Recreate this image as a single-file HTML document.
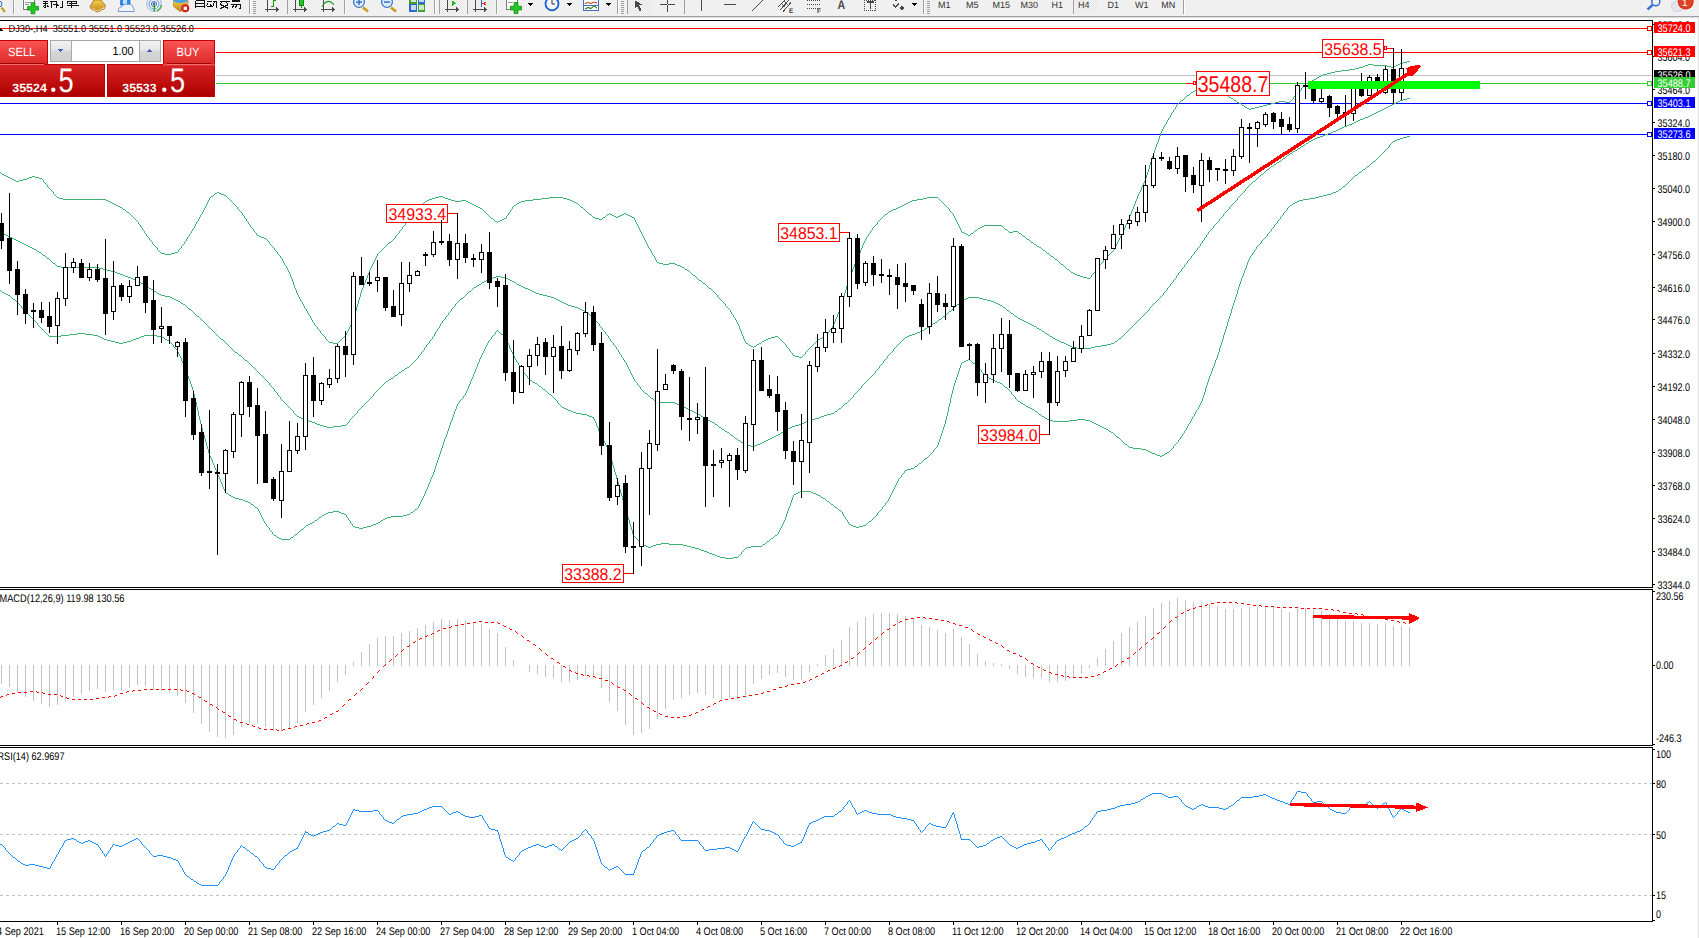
<!DOCTYPE html>
<html><head><meta charset="utf-8"><title>MT4 DJ30 H4</title>
<style>
html,body{margin:0;padding:0;background:#fff;}
body{width:1699px;height:938px;overflow:hidden;position:relative;font-family:"Liberation Sans",sans-serif;}
svg{position:absolute;left:0;top:0;display:block;}
text{font-family:"Liberation Sans",sans-serif;}
</style></head>
<body>
<svg width="1699" height="938" viewBox="0 0 1699 938" shape-rendering="crispEdges" text-rendering="geometricPrecision">
<rect x="0" y="0" width="1699" height="16" fill="#f0f0f0"/>
<rect x="0" y="16" width="1699" height="1" fill="#a0a0a0"/>
<rect x="0" y="17" width="1699" height="1" fill="#dcdcdc"/>
<rect x="0" y="28" width="1652" height="1" fill="#ff0000"/>
<rect x="216" y="52" width="1436" height="1" fill="#ff0000"/>
<rect x="216" y="75" width="1436" height="1" fill="#c0c0c0"/>
<rect x="216" y="83" width="1436" height="1" fill="#32cd32"/>
<rect x="0" y="103" width="1652" height="1" fill="#0000ff"/>
<rect x="0" y="134" width="1652" height="1" fill="#0000ff"/>
<path d="M1407 61h3v1h-3zM1403 62h4v1h-4zM1400 63h3v1h-3zM1368 64h5v1h-5zM1398 64h2v1h-2zM1365 65h3v1h-3zM1373 65h14v1h-14zM1396 65h2v1h-2zM1363 66h2v1h-2zM1387 66h4v1h-4zM1394 66h2v1h-2zM1359 67h4v1h-4zM1391 67h3v1h-3zM1355 68h4v1h-4zM1349 69h6v1h-6zM1341 70h8v1h-8zM1335 71h6v1h-6zM1331 72h4v1h-4zM1327 73h4v1h-4zM1323 74h4v1h-4zM1321 75h2v1h-2zM1319 76h2v1h-2zM1317 77h2v1h-2zM1316 78h1v1h-1zM1314 79h2v1h-2zM1312 80h2v1h-2zM1310 81h2v1h-2zM1308 82h2v1h-2zM1306 83h2v1h-2zM1305 84h1v1h-1zM1304 85h1v1h-1zM1303 86h1v1h-1zM1302 87h1v1h-1zM1200 88h11v1h-11zM1301 88h1v1h-1zM1197 89h3v1h-3zM1211 89h4v1h-4zM1301 89h1v1h-1zM1195 90h2v1h-2zM1215 90h3v1h-3zM1300 90h1v1h-1zM1193 91h2v1h-2zM1218 91h2v1h-2zM1299 91h1v1h-1zM1191 92h2v1h-2zM1220 92h2v1h-2zM1298 92h1v1h-1zM1190 93h1v1h-1zM1222 93h2v1h-2zM1297 93h1v1h-1zM1189 94h1v1h-1zM1224 94h2v1h-2zM1296 94h1v1h-1zM1187 95h2v1h-2zM1226 95h2v1h-2zM1295 95h1v1h-1zM1186 96h1v1h-1zM1228 96h1v1h-1zM1294 96h1v1h-1zM1185 97h1v1h-1zM1229 97h2v1h-2zM1293 97h1v1h-1zM1184 98h1v1h-1zM1231 98h2v1h-2zM1293 98h1v1h-1zM1183 99h1v1h-1zM1233 99h1v1h-1zM1292 99h1v1h-1zM1181 100h2v1h-2zM1234 100h2v1h-2zM1291 100h1v1h-1zM1180 101h1v1h-1zM1236 101h1v1h-1zM1279 101h6v1h-6zM1290 101h1v1h-1zM1179 102h1v1h-1zM1237 102h2v1h-2zM1275 102h4v1h-4zM1285 102h5v1h-5zM1178 103h1v1h-1zM1239 103h2v1h-2zM1271 103h4v1h-4zM1177 104h1v1h-1zM1241 104h1v1h-1zM1267 104h4v1h-4zM1176 105h1v1h-1zM1242 105h2v1h-2zM1263 105h4v1h-4zM1176 106h1v1h-1zM1244 106h1v1h-1zM1259 106h4v1h-4zM1175 107h1v1h-1zM1245 107h2v1h-2zM1255 107h4v1h-4zM1175 108h1v1h-1zM1247 108h2v1h-2zM1251 108h4v1h-4zM1174 109h1v1h-1zM1249 109h2v1h-2zM1173 110h1v1h-1zM1173 111h1v1h-1zM1172 112h1v1h-1zM1171 113h1v1h-1zM1171 114h1v1h-1zM1170 115h1v1h-1zM1170 116h1v1h-1zM1169 117h1v1h-1zM1168 118h1v1h-1zM1168 119h1v1h-1zM1167 120h1v1h-1zM1167 121h1v1h-1zM1166 122h1v1h-1zM1166 123h1v1h-1zM1165 124h1v1h-1zM1164 125h1v1h-1zM1164 126h1v1h-1zM1163 127h1v1h-1zM1163 128h1v1h-1zM1162 129h1v1h-1zM1162 130h1v1h-1zM1161 131h1v1h-1zM1161 132h1v1h-1zM1160 133h1v1h-1zM1160 134h1v1h-1zM1160 135h1v1h-1zM1159 136h1v1h-1zM1159 137h1v1h-1zM1159 138h1v1h-1zM1158 139h1v1h-1zM1158 140h1v1h-1zM1158 141h1v1h-1zM1157 142h1v1h-1zM1157 143h1v1h-1zM1156 144h1v1h-1zM1156 145h1v1h-1zM1156 146h1v1h-1zM1155 147h1v1h-1zM1155 148h1v1h-1zM1155 149h1v1h-1zM1154 150h1v1h-1zM1154 151h1v1h-1zM1154 152h1v1h-1zM1153 153h1v1h-1zM1153 154h1v1h-1zM1153 155h1v1h-1zM1152 156h1v1h-1zM1152 157h1v1h-1zM1152 158h1v1h-1zM1151 159h1v1h-1zM1151 160h1v1h-1zM1151 161h1v1h-1zM1150 162h1v1h-1zM1150 163h1v1h-1zM1150 164h1v1h-1zM1149 165h1v1h-1zM1149 166h1v1h-1zM1149 167h1v1h-1zM1149 168h1v1h-1zM1148 169h1v1h-1zM1148 170h1v1h-1zM1148 171h1v1h-1zM0 172h1v1h-1zM1147 172h1v1h-1zM1 173h1v1h-1zM1147 173h1v1h-1zM2 174h2v1h-2zM1147 174h1v1h-1zM4 175h2v1h-2zM1146 175h1v1h-1zM6 176h2v1h-2zM32 176h3v1h-3zM1146 176h1v1h-1zM8 177h2v1h-2zM29 177h3v1h-3zM35 177h4v1h-4zM1146 177h1v1h-1zM10 178h2v1h-2zM27 178h2v1h-2zM39 178h3v1h-3zM1145 178h1v1h-1zM12 179h2v1h-2zM23 179h4v1h-4zM42 179h1v1h-1zM1145 179h1v1h-1zM14 180h2v1h-2zM19 180h4v1h-4zM43 180h1v1h-1zM1145 180h1v1h-1zM16 181h3v1h-3zM43 181h1v1h-1zM1144 181h1v1h-1zM44 182h1v1h-1zM1144 182h1v1h-1zM45 183h1v1h-1zM1143 183h1v1h-1zM46 184h1v1h-1zM1143 184h1v1h-1zM47 185h1v1h-1zM1142 185h1v1h-1zM47 186h1v1h-1zM1142 186h1v1h-1zM48 187h1v1h-1zM1141 187h1v1h-1zM49 188h1v1h-1zM1141 188h1v1h-1zM50 189h1v1h-1zM1141 189h1v1h-1zM51 190h1v1h-1zM1140 190h1v1h-1zM52 191h1v1h-1zM1140 191h1v1h-1zM53 192h1v1h-1zM217 192h2v1h-2zM1139 192h1v1h-1zM53 193h1v1h-1zM215 193h2v1h-2zM219 193h2v1h-2zM1139 193h1v1h-1zM54 194h1v1h-1zM214 194h1v1h-1zM221 194h3v1h-3zM1138 194h1v1h-1zM55 195h1v1h-1zM213 195h1v1h-1zM224 195h2v1h-2zM1138 195h1v1h-1zM56 196h1v1h-1zM211 196h2v1h-2zM226 196h1v1h-1zM439 196h4v1h-4zM1137 196h1v1h-1zM57 197h2v1h-2zM210 197h1v1h-1zM227 197h1v1h-1zM435 197h4v1h-4zM443 197h2v1h-2zM549 197h14v1h-14zM927 197h11v1h-11zM1137 197h1v1h-1zM59 198h4v1h-4zM209 198h1v1h-1zM228 198h1v1h-1zM432 198h3v1h-3zM445 198h3v1h-3zM541 198h8v1h-8zM563 198h4v1h-4zM923 198h4v1h-4zM938 198h1v1h-1zM1137 198h1v1h-1zM63 199h43v1h-43zM209 199h1v1h-1zM229 199h1v1h-1zM429 199h3v1h-3zM448 199h3v1h-3zM533 199h8v1h-8zM567 199h3v1h-3zM917 199h6v1h-6zM939 199h1v1h-1zM1136 199h1v1h-1zM106 200h2v1h-2zM208 200h1v1h-1zM230 200h1v1h-1zM427 200h2v1h-2zM451 200h4v1h-4zM461 200h5v1h-5zM525 200h8v1h-8zM570 200h2v1h-2zM912 200h5v1h-5zM940 200h1v1h-1zM1136 200h1v1h-1zM108 201h2v1h-2zM208 201h1v1h-1zM231 201h1v1h-1zM425 201h2v1h-2zM455 201h6v1h-6zM466 201h2v1h-2zM521 201h4v1h-4zM572 201h2v1h-2zM910 201h2v1h-2zM941 201h1v1h-1zM1135 201h1v1h-1zM110 202h2v1h-2zM207 202h1v1h-1zM232 202h1v1h-1zM424 202h1v1h-1zM468 202h2v1h-2zM519 202h2v1h-2zM574 202h2v1h-2zM908 202h2v1h-2zM942 202h1v1h-1zM1135 202h1v1h-1zM112 203h2v1h-2zM207 203h1v1h-1zM233 203h1v1h-1zM423 203h1v1h-1zM470 203h2v1h-2zM517 203h2v1h-2zM576 203h2v1h-2zM906 203h2v1h-2zM943 203h1v1h-1zM1135 203h1v1h-1zM114 204h2v1h-2zM206 204h1v1h-1zM234 204h1v1h-1zM421 204h2v1h-2zM472 204h2v1h-2zM516 204h1v1h-1zM578 204h1v1h-1zM904 204h2v1h-2zM944 204h1v1h-1zM1134 204h1v1h-1zM116 205h2v1h-2zM206 205h1v1h-1zM235 205h1v1h-1zM420 205h1v1h-1zM474 205h2v1h-2zM514 205h2v1h-2zM579 205h1v1h-1zM902 205h2v1h-2zM945 205h1v1h-1zM1134 205h1v1h-1zM118 206h2v1h-2zM205 206h1v1h-1zM236 206h1v1h-1zM419 206h1v1h-1zM476 206h2v1h-2zM513 206h1v1h-1zM580 206h1v1h-1zM900 206h2v1h-2zM946 206h1v1h-1zM1133 206h1v1h-1zM120 207h2v1h-2zM205 207h1v1h-1zM237 207h1v1h-1zM418 207h1v1h-1zM478 207h2v1h-2zM512 207h1v1h-1zM581 207h2v1h-2zM898 207h2v1h-2zM947 207h1v1h-1zM1133 207h1v1h-1zM122 208h1v1h-1zM204 208h1v1h-1zM237 208h1v1h-1zM417 208h1v1h-1zM480 208h2v1h-2zM512 208h1v1h-1zM583 208h1v1h-1zM896 208h2v1h-2zM948 208h1v1h-1zM1133 208h1v1h-1zM123 209h2v1h-2zM204 209h1v1h-1zM238 209h1v1h-1zM416 209h1v1h-1zM482 209h1v1h-1zM511 209h1v1h-1zM584 209h1v1h-1zM893 209h3v1h-3zM949 209h1v1h-1zM1132 209h1v1h-1zM125 210h1v1h-1zM203 210h1v1h-1zM239 210h1v1h-1zM415 210h1v1h-1zM483 210h1v1h-1zM510 210h1v1h-1zM585 210h1v1h-1zM891 210h2v1h-2zM949 210h1v1h-1zM1132 210h1v1h-1zM126 211h1v1h-1zM203 211h1v1h-1zM240 211h1v1h-1zM415 211h1v1h-1zM484 211h1v1h-1zM510 211h1v1h-1zM586 211h1v1h-1zM889 211h2v1h-2zM950 211h1v1h-1zM1131 211h1v1h-1zM127 212h2v1h-2zM202 212h1v1h-1zM241 212h1v1h-1zM414 212h1v1h-1zM485 212h1v1h-1zM509 212h1v1h-1zM587 212h1v1h-1zM888 212h1v1h-1zM951 212h1v1h-1zM1131 212h1v1h-1zM129 213h1v1h-1zM202 213h1v1h-1zM242 213h1v1h-1zM413 213h1v1h-1zM486 213h1v1h-1zM508 213h1v1h-1zM588 213h1v1h-1zM609 213h1v1h-1zM624 213h2v1h-2zM887 213h1v1h-1zM952 213h1v1h-1zM1131 213h1v1h-1zM130 214h1v1h-1zM201 214h1v1h-1zM242 214h1v1h-1zM412 214h1v1h-1zM487 214h1v1h-1zM508 214h1v1h-1zM589 214h2v1h-2zM607 214h2v1h-2zM610 214h2v1h-2zM622 214h2v1h-2zM626 214h2v1h-2zM885 214h2v1h-2zM953 214h1v1h-1zM1130 214h1v1h-1zM131 215h1v1h-1zM200 215h1v1h-1zM243 215h1v1h-1zM411 215h1v1h-1zM488 215h1v1h-1zM507 215h1v1h-1zM591 215h1v1h-1zM606 215h1v1h-1zM612 215h2v1h-2zM620 215h2v1h-2zM628 215h2v1h-2zM884 215h1v1h-1zM953 215h1v1h-1zM1130 215h1v1h-1zM132 216h1v1h-1zM200 216h1v1h-1zM244 216h1v1h-1zM411 216h1v1h-1zM489 216h1v1h-1zM506 216h1v1h-1zM592 216h1v1h-1zM605 216h1v1h-1zM614 216h2v1h-2zM618 216h2v1h-2zM630 216h2v1h-2zM883 216h1v1h-1zM954 216h1v1h-1zM1129 216h1v1h-1zM133 217h1v1h-1zM199 217h1v1h-1zM244 217h1v1h-1zM410 217h1v1h-1zM490 217h1v1h-1zM506 217h1v1h-1zM593 217h2v1h-2zM603 217h2v1h-2zM616 217h2v1h-2zM632 217h2v1h-2zM882 217h1v1h-1zM954 217h1v1h-1zM1129 217h1v1h-1zM134 218h1v1h-1zM199 218h1v1h-1zM245 218h1v1h-1zM409 218h1v1h-1zM491 218h2v1h-2zM504 218h2v1h-2zM595 218h4v1h-4zM602 218h1v1h-1zM634 218h1v1h-1zM881 218h1v1h-1zM955 218h1v1h-1zM1129 218h1v1h-1zM135 219h1v1h-1zM198 219h1v1h-1zM246 219h1v1h-1zM408 219h1v1h-1zM493 219h1v1h-1zM502 219h2v1h-2zM599 219h3v1h-3zM634 219h1v1h-1zM880 219h1v1h-1zM955 219h1v1h-1zM1128 219h1v1h-1zM136 220h1v1h-1zM198 220h1v1h-1zM246 220h1v1h-1zM408 220h1v1h-1zM494 220h1v1h-1zM500 220h2v1h-2zM635 220h1v1h-1zM879 220h1v1h-1zM956 220h1v1h-1zM1128 220h1v1h-1zM137 221h1v1h-1zM197 221h1v1h-1zM247 221h1v1h-1zM407 221h1v1h-1zM495 221h2v1h-2zM498 221h2v1h-2zM635 221h1v1h-1zM878 221h1v1h-1zM956 221h1v1h-1zM1127 221h1v1h-1zM138 222h1v1h-1zM196 222h1v1h-1zM248 222h1v1h-1zM406 222h1v1h-1zM497 222h1v1h-1zM636 222h1v1h-1zM877 222h1v1h-1zM957 222h1v1h-1zM1127 222h1v1h-1zM138 223h1v1h-1zM196 223h1v1h-1zM248 223h1v1h-1zM405 223h1v1h-1zM636 223h1v1h-1zM877 223h1v1h-1zM957 223h1v1h-1zM1126 223h1v1h-1zM139 224h1v1h-1zM195 224h1v1h-1zM249 224h1v1h-1zM405 224h1v1h-1zM637 224h1v1h-1zM876 224h1v1h-1zM958 224h1v1h-1zM1126 224h1v1h-1zM140 225h1v1h-1zM195 225h1v1h-1zM250 225h1v1h-1zM404 225h1v1h-1zM637 225h1v1h-1zM875 225h1v1h-1zM958 225h1v1h-1zM984 225h18v1h-18zM1125 225h1v1h-1zM140 226h1v1h-1zM194 226h1v1h-1zM250 226h1v1h-1zM403 226h1v1h-1zM638 226h1v1h-1zM874 226h1v1h-1zM959 226h1v1h-1zM982 226h2v1h-2zM1002 226h1v1h-1zM1125 226h1v1h-1zM141 227h1v1h-1zM194 227h1v1h-1zM251 227h1v1h-1zM402 227h1v1h-1zM638 227h1v1h-1zM873 227h1v1h-1zM959 227h1v1h-1zM980 227h2v1h-2zM1003 227h1v1h-1zM1125 227h1v1h-1zM142 228h1v1h-1zM193 228h1v1h-1zM252 228h1v1h-1zM402 228h1v1h-1zM639 228h1v1h-1zM872 228h1v1h-1zM960 228h1v1h-1zM978 228h2v1h-2zM1004 228h1v1h-1zM1124 228h1v1h-1zM142 229h1v1h-1zM192 229h1v1h-1zM253 229h1v1h-1zM401 229h1v1h-1zM639 229h1v1h-1zM872 229h1v1h-1zM960 229h1v1h-1zM977 229h1v1h-1zM1005 229h2v1h-2zM1124 229h1v1h-1zM143 230h1v1h-1zM192 230h1v1h-1zM253 230h1v1h-1zM400 230h1v1h-1zM640 230h1v1h-1zM871 230h1v1h-1zM961 230h1v1h-1zM975 230h2v1h-2zM1007 230h1v1h-1zM1123 230h1v1h-1zM144 231h1v1h-1zM191 231h1v1h-1zM254 231h1v1h-1zM399 231h1v1h-1zM640 231h1v1h-1zM870 231h1v1h-1zM961 231h1v1h-1zM974 231h1v1h-1zM1008 231h1v1h-1zM1013 231h5v1h-5zM1123 231h1v1h-1zM144 232h1v1h-1zM191 232h1v1h-1zM255 232h1v1h-1zM399 232h1v1h-1zM641 232h1v1h-1zM870 232h1v1h-1zM962 232h2v1h-2zM973 232h1v1h-1zM1009 232h4v1h-4zM1018 232h1v1h-1zM1122 232h1v1h-1zM145 233h1v1h-1zM190 233h1v1h-1zM256 233h1v1h-1zM398 233h1v1h-1zM641 233h1v1h-1zM869 233h1v1h-1zM964 233h2v1h-2zM971 233h2v1h-2zM1019 233h2v1h-2zM1122 233h1v1h-1zM146 234h1v1h-1zM189 234h1v1h-1zM256 234h1v1h-1zM397 234h1v1h-1zM642 234h1v1h-1zM868 234h1v1h-1zM966 234h2v1h-2zM970 234h1v1h-1zM1021 234h1v1h-1zM1121 234h1v1h-1zM146 235h1v1h-1zM189 235h1v1h-1zM257 235h2v1h-2zM396 235h1v1h-1zM642 235h1v1h-1zM868 235h1v1h-1zM968 235h2v1h-2zM1022 235h1v1h-1zM1121 235h1v1h-1zM147 236h1v1h-1zM188 236h1v1h-1zM259 236h2v1h-2zM395 236h1v1h-1zM643 236h1v1h-1zM867 236h1v1h-1zM1023 236h2v1h-2zM1120 236h1v1h-1zM148 237h1v1h-1zM187 237h1v1h-1zM261 237h3v1h-3zM395 237h1v1h-1zM643 237h1v1h-1zM866 237h1v1h-1zM1025 237h1v1h-1zM1120 237h1v1h-1zM149 238h1v1h-1zM187 238h1v1h-1zM264 238h2v1h-2zM394 238h1v1h-1zM644 238h1v1h-1zM866 238h1v1h-1zM1026 238h1v1h-1zM1119 238h1v1h-1zM149 239h1v1h-1zM186 239h1v1h-1zM266 239h1v1h-1zM393 239h1v1h-1zM644 239h1v1h-1zM865 239h1v1h-1zM1027 239h2v1h-2zM1119 239h1v1h-1zM150 240h1v1h-1zM186 240h1v1h-1zM267 240h1v1h-1zM392 240h1v1h-1zM645 240h1v1h-1zM865 240h1v1h-1zM1029 240h1v1h-1zM1118 240h1v1h-1zM151 241h1v1h-1zM185 241h1v1h-1zM268 241h1v1h-1zM391 241h1v1h-1zM645 241h1v1h-1zM864 241h1v1h-1zM1030 241h1v1h-1zM1118 241h1v1h-1zM152 242h1v1h-1zM184 242h1v1h-1zM269 242h1v1h-1zM389 242h2v1h-2zM646 242h1v1h-1zM864 242h1v1h-1zM1031 242h2v1h-2zM1117 242h1v1h-1zM152 243h1v1h-1zM184 243h1v1h-1zM269 243h1v1h-1zM388 243h1v1h-1zM646 243h1v1h-1zM863 243h1v1h-1zM1033 243h1v1h-1zM1117 243h1v1h-1zM153 244h1v1h-1zM183 244h1v1h-1zM270 244h1v1h-1zM387 244h1v1h-1zM647 244h1v1h-1zM863 244h1v1h-1zM1034 244h2v1h-2zM1116 244h1v1h-1zM154 245h1v1h-1zM182 245h1v1h-1zM271 245h1v1h-1zM386 245h1v1h-1zM647 245h1v1h-1zM862 245h1v1h-1zM1036 245h1v1h-1zM1116 245h1v1h-1zM155 246h1v1h-1zM181 246h1v1h-1zM272 246h1v1h-1zM385 246h1v1h-1zM648 246h1v1h-1zM862 246h1v1h-1zM1037 246h2v1h-2zM1115 246h1v1h-1zM156 247h1v1h-1zM181 247h1v1h-1zM273 247h1v1h-1zM384 247h1v1h-1zM648 247h1v1h-1zM862 247h1v1h-1zM1039 247h2v1h-2zM1115 247h1v1h-1zM157 248h1v1h-1zM180 248h1v1h-1zM274 248h1v1h-1zM383 248h1v1h-1zM649 248h1v1h-1zM861 248h1v1h-1zM1041 248h1v1h-1zM1114 248h1v1h-1zM157 249h1v1h-1zM179 249h1v1h-1zM274 249h1v1h-1zM382 249h1v1h-1zM650 249h1v1h-1zM861 249h1v1h-1zM1042 249h1v1h-1zM1114 249h1v1h-1zM158 250h1v1h-1zM178 250h1v1h-1zM275 250h1v1h-1zM381 250h1v1h-1zM650 250h1v1h-1zM860 250h1v1h-1zM1043 250h2v1h-2zM1113 250h1v1h-1zM159 251h1v1h-1zM178 251h1v1h-1zM276 251h1v1h-1zM380 251h1v1h-1zM651 251h1v1h-1zM860 251h1v1h-1zM1045 251h1v1h-1zM1112 251h1v1h-1zM160 252h1v1h-1zM175 252h3v1h-3zM277 252h1v1h-1zM379 252h1v1h-1zM651 252h1v1h-1zM860 252h1v1h-1zM1046 252h1v1h-1zM1111 252h1v1h-1zM161 253h4v1h-4zM171 253h4v1h-4zM277 253h1v1h-1zM378 253h1v1h-1zM652 253h1v1h-1zM859 253h1v1h-1zM1047 253h2v1h-2zM1110 253h1v1h-1zM165 254h6v1h-6zM278 254h1v1h-1zM377 254h1v1h-1zM652 254h1v1h-1zM859 254h1v1h-1zM1049 254h1v1h-1zM1109 254h1v1h-1zM279 255h1v1h-1zM377 255h1v1h-1zM653 255h1v1h-1zM858 255h1v1h-1zM1050 255h1v1h-1zM1108 255h1v1h-1zM280 256h1v1h-1zM376 256h1v1h-1zM654 256h1v1h-1zM858 256h1v1h-1zM1051 256h2v1h-2zM1107 256h1v1h-1zM280 257h1v1h-1zM376 257h1v1h-1zM654 257h1v1h-1zM857 257h1v1h-1zM1053 257h1v1h-1zM1106 257h1v1h-1zM281 258h1v1h-1zM375 258h1v1h-1zM655 258h1v1h-1zM857 258h1v1h-1zM1054 258h1v1h-1zM1105 258h1v1h-1zM282 259h1v1h-1zM375 259h1v1h-1zM655 259h1v1h-1zM857 259h1v1h-1zM1055 259h2v1h-2zM1104 259h1v1h-1zM282 260h1v1h-1zM374 260h1v1h-1zM656 260h1v1h-1zM856 260h1v1h-1zM1057 260h1v1h-1zM1103 260h1v1h-1zM283 261h1v1h-1zM374 261h1v1h-1zM656 261h1v1h-1zM856 261h1v1h-1zM1058 261h1v1h-1zM1103 261h1v1h-1zM283 262h1v1h-1zM373 262h1v1h-1zM657 262h2v1h-2zM855 262h1v1h-1zM1059 262h1v1h-1zM1102 262h1v1h-1zM284 263h1v1h-1zM373 263h1v1h-1zM659 263h4v1h-4zM669 263h6v1h-6zM855 263h1v1h-1zM1060 263h1v1h-1zM1101 263h1v1h-1zM284 264h1v1h-1zM372 264h1v1h-1zM663 264h6v1h-6zM675 264h2v1h-2zM854 264h1v1h-1zM1061 264h2v1h-2zM1100 264h1v1h-1zM285 265h1v1h-1zM372 265h1v1h-1zM677 265h3v1h-3zM854 265h1v1h-1zM1063 265h1v1h-1zM1099 265h1v1h-1zM286 266h1v1h-1zM371 266h1v1h-1zM680 266h2v1h-2zM854 266h1v1h-1zM1064 266h1v1h-1zM1099 266h1v1h-1zM286 267h1v1h-1zM371 267h1v1h-1zM682 267h2v1h-2zM853 267h1v1h-1zM1065 267h1v1h-1zM1098 267h1v1h-1zM287 268h1v1h-1zM370 268h1v1h-1zM684 268h1v1h-1zM853 268h1v1h-1zM1066 268h1v1h-1zM1097 268h1v1h-1zM287 269h1v1h-1zM370 269h1v1h-1zM685 269h2v1h-2zM852 269h1v1h-1zM1067 269h2v1h-2zM1096 269h1v1h-1zM288 270h1v1h-1zM369 270h1v1h-1zM687 270h2v1h-2zM852 270h1v1h-1zM1069 270h1v1h-1zM1095 270h1v1h-1zM288 271h1v1h-1zM369 271h1v1h-1zM689 271h1v1h-1zM852 271h1v1h-1zM1070 271h1v1h-1zM1095 271h1v1h-1zM289 272h1v1h-1zM369 272h1v1h-1zM690 272h1v1h-1zM851 272h1v1h-1zM1071 272h2v1h-2zM1094 272h1v1h-1zM289 273h1v1h-1zM368 273h1v1h-1zM691 273h1v1h-1zM851 273h1v1h-1zM1073 273h2v1h-2zM1093 273h1v1h-1zM290 274h1v1h-1zM368 274h1v1h-1zM692 274h1v1h-1zM850 274h1v1h-1zM1075 274h2v1h-2zM1092 274h1v1h-1zM290 275h1v1h-1zM367 275h1v1h-1zM693 275h2v1h-2zM850 275h1v1h-1zM1077 275h3v1h-3zM1091 275h1v1h-1zM290 276h1v1h-1zM367 276h1v1h-1zM695 276h1v1h-1zM849 276h1v1h-1zM1080 276h3v1h-3zM1091 276h1v1h-1zM291 277h1v1h-1zM367 277h1v1h-1zM696 277h1v1h-1zM849 277h1v1h-1zM1083 277h4v1h-4zM1090 277h1v1h-1zM291 278h1v1h-1zM366 278h1v1h-1zM697 278h1v1h-1zM849 278h1v1h-1zM1087 278h3v1h-3zM292 279h1v1h-1zM366 279h1v1h-1zM698 279h1v1h-1zM848 279h1v1h-1zM292 280h1v1h-1zM365 280h1v1h-1zM699 280h2v1h-2zM848 280h1v1h-1zM292 281h1v1h-1zM365 281h1v1h-1zM701 281h1v1h-1zM848 281h1v1h-1zM293 282h1v1h-1zM365 282h1v1h-1zM702 282h1v1h-1zM848 282h1v1h-1zM293 283h1v1h-1zM364 283h1v1h-1zM703 283h2v1h-2zM847 283h1v1h-1zM293 284h1v1h-1zM364 284h1v1h-1zM705 284h1v1h-1zM847 284h1v1h-1zM294 285h1v1h-1zM363 285h1v1h-1zM706 285h1v1h-1zM847 285h1v1h-1zM294 286h1v1h-1zM363 286h1v1h-1zM707 286h1v1h-1zM846 286h1v1h-1zM294 287h1v1h-1zM363 287h1v1h-1zM708 287h1v1h-1zM846 287h1v1h-1zM295 288h1v1h-1zM362 288h1v1h-1zM709 288h2v1h-2zM846 288h1v1h-1zM295 289h1v1h-1zM362 289h1v1h-1zM711 289h1v1h-1zM846 289h1v1h-1zM296 290h1v1h-1zM361 290h1v1h-1zM712 290h1v1h-1zM845 290h1v1h-1zM296 291h1v1h-1zM361 291h1v1h-1zM713 291h1v1h-1zM845 291h1v1h-1zM296 292h1v1h-1zM361 292h1v1h-1zM714 292h1v1h-1zM845 292h1v1h-1zM297 293h1v1h-1zM360 293h1v1h-1zM715 293h1v1h-1zM844 293h1v1h-1zM297 294h1v1h-1zM360 294h1v1h-1zM716 294h1v1h-1zM844 294h1v1h-1zM298 295h1v1h-1zM360 295h1v1h-1zM717 295h1v1h-1zM844 295h1v1h-1zM298 296h1v1h-1zM360 296h1v1h-1zM717 296h1v1h-1zM844 296h1v1h-1zM299 297h1v1h-1zM359 297h1v1h-1zM718 297h1v1h-1zM843 297h1v1h-1zM299 298h1v1h-1zM359 298h1v1h-1zM719 298h1v1h-1zM843 298h1v1h-1zM300 299h1v1h-1zM359 299h1v1h-1zM720 299h1v1h-1zM843 299h1v1h-1zM300 300h1v1h-1zM358 300h1v1h-1zM721 300h1v1h-1zM842 300h1v1h-1zM301 301h1v1h-1zM358 301h1v1h-1zM722 301h1v1h-1zM842 301h1v1h-1zM302 302h1v1h-1zM358 302h1v1h-1zM723 302h1v1h-1zM842 302h1v1h-1zM302 303h1v1h-1zM358 303h1v1h-1zM724 303h1v1h-1zM842 303h1v1h-1zM303 304h1v1h-1zM357 304h1v1h-1zM725 304h1v1h-1zM841 304h1v1h-1zM303 305h1v1h-1zM357 305h1v1h-1zM725 305h1v1h-1zM841 305h1v1h-1zM304 306h1v1h-1zM357 306h1v1h-1zM726 306h1v1h-1zM841 306h1v1h-1zM304 307h1v1h-1zM356 307h1v1h-1zM727 307h1v1h-1zM840 307h1v1h-1zM305 308h1v1h-1zM356 308h1v1h-1zM728 308h1v1h-1zM840 308h1v1h-1zM306 309h1v1h-1zM356 309h1v1h-1zM729 309h1v1h-1zM839 309h1v1h-1zM306 310h1v1h-1zM356 310h1v1h-1zM730 310h1v1h-1zM839 310h1v1h-1zM307 311h1v1h-1zM355 311h1v1h-1zM730 311h1v1h-1zM839 311h1v1h-1zM307 312h1v1h-1zM355 312h1v1h-1zM731 312h1v1h-1zM838 312h1v1h-1zM308 313h1v1h-1zM355 313h1v1h-1zM731 313h1v1h-1zM838 313h1v1h-1zM308 314h1v1h-1zM354 314h1v1h-1zM732 314h1v1h-1zM837 314h1v1h-1zM309 315h1v1h-1zM354 315h1v1h-1zM733 315h1v1h-1zM837 315h1v1h-1zM310 316h1v1h-1zM354 316h1v1h-1zM733 316h1v1h-1zM837 316h1v1h-1zM310 317h1v1h-1zM354 317h1v1h-1zM734 317h1v1h-1zM836 317h1v1h-1zM311 318h1v1h-1zM353 318h1v1h-1zM735 318h1v1h-1zM836 318h1v1h-1zM311 319h1v1h-1zM353 319h1v1h-1zM735 319h1v1h-1zM835 319h1v1h-1zM312 320h1v1h-1zM353 320h1v1h-1zM736 320h1v1h-1zM835 320h1v1h-1zM312 321h1v1h-1zM352 321h1v1h-1zM736 321h1v1h-1zM835 321h1v1h-1zM313 322h1v1h-1zM352 322h1v1h-1zM737 322h1v1h-1zM834 322h1v1h-1zM314 323h1v1h-1zM351 323h1v1h-1zM737 323h1v1h-1zM834 323h1v1h-1zM314 324h1v1h-1zM351 324h1v1h-1zM738 324h1v1h-1zM833 324h1v1h-1zM315 325h1v1h-1zM350 325h1v1h-1zM738 325h1v1h-1zM833 325h1v1h-1zM316 326h1v1h-1zM350 326h1v1h-1zM739 326h1v1h-1zM832 326h1v1h-1zM317 327h1v1h-1zM349 327h1v1h-1zM739 327h1v1h-1zM832 327h1v1h-1zM317 328h1v1h-1zM349 328h1v1h-1zM739 328h1v1h-1zM831 328h1v1h-1zM318 329h1v1h-1zM348 329h1v1h-1zM740 329h1v1h-1zM830 329h1v1h-1zM319 330h1v1h-1zM348 330h1v1h-1zM740 330h1v1h-1zM829 330h1v1h-1zM320 331h1v1h-1zM347 331h1v1h-1zM741 331h1v1h-1zM829 331h1v1h-1zM320 332h1v1h-1zM347 332h1v1h-1zM741 332h1v1h-1zM828 332h1v1h-1zM321 333h1v1h-1zM346 333h1v1h-1zM741 333h1v1h-1zM827 333h1v1h-1zM322 334h1v1h-1zM346 334h1v1h-1zM742 334h1v1h-1zM826 334h1v1h-1zM323 335h1v1h-1zM345 335h1v1h-1zM742 335h1v1h-1zM826 335h1v1h-1zM324 336h1v1h-1zM344 336h1v1h-1zM743 336h1v1h-1zM775 336h3v1h-3zM824 336h2v1h-2zM325 337h1v1h-1zM343 337h1v1h-1zM743 337h1v1h-1zM771 337h4v1h-4zM778 337h1v1h-1zM822 337h2v1h-2zM325 338h1v1h-1zM342 338h1v1h-1zM743 338h1v1h-1zM768 338h3v1h-3zM779 338h1v1h-1zM820 338h2v1h-2zM326 339h1v1h-1zM341 339h1v1h-1zM744 339h1v1h-1zM766 339h2v1h-2zM780 339h1v1h-1zM818 339h2v1h-2zM327 340h1v1h-1zM340 340h1v1h-1zM744 340h1v1h-1zM764 340h2v1h-2zM781 340h1v1h-1zM817 340h1v1h-1zM328 341h1v1h-1zM339 341h1v1h-1zM745 341h1v1h-1zM762 341h2v1h-2zM782 341h1v1h-1zM816 341h1v1h-1zM329 342h4v1h-4zM338 342h1v1h-1zM745 342h1v1h-1zM761 342h1v1h-1zM783 342h1v1h-1zM815 342h1v1h-1zM333 343h5v1h-5zM746 343h2v1h-2zM759 343h2v1h-2zM784 343h1v1h-1zM814 343h1v1h-1zM748 344h1v1h-1zM757 344h2v1h-2zM785 344h1v1h-1zM813 344h1v1h-1zM749 345h2v1h-2zM756 345h1v1h-1zM786 345h1v1h-1zM812 345h1v1h-1zM751 346h2v1h-2zM754 346h2v1h-2zM786 346h1v1h-1zM811 346h1v1h-1zM753 347h1v1h-1zM787 347h1v1h-1zM810 347h1v1h-1zM788 348h1v1h-1zM809 348h1v1h-1zM789 349h1v1h-1zM808 349h1v1h-1zM789 350h1v1h-1zM807 350h1v1h-1zM790 351h1v1h-1zM806 351h1v1h-1zM791 352h1v1h-1zM805 352h1v1h-1zM792 353h1v1h-1zM805 353h1v1h-1zM792 354h1v1h-1zM804 354h1v1h-1zM793 355h2v1h-2zM803 355h1v1h-1zM795 356h4v1h-4zM802 356h1v1h-1zM799 357h3v1h-3z" fill="#3cb371"/>
<path d="M1407 98h3v1h-3zM1403 99h4v1h-4zM1400 100h3v1h-3zM1398 101h2v1h-2zM1396 102h2v1h-2zM1394 103h2v1h-2zM1392 104h2v1h-2zM1390 105h2v1h-2zM1388 106h2v1h-2zM1386 107h2v1h-2zM1384 108h2v1h-2zM1382 109h2v1h-2zM1380 110h2v1h-2zM1378 111h2v1h-2zM1376 112h2v1h-2zM1374 113h2v1h-2zM1372 114h2v1h-2zM1370 115h2v1h-2zM1368 116h2v1h-2zM1365 117h3v1h-3zM1363 118h2v1h-2zM1360 119h3v1h-3zM1358 120h2v1h-2zM1356 121h2v1h-2zM1354 122h2v1h-2zM1352 123h2v1h-2zM1349 124h3v1h-3zM1347 125h2v1h-2zM1344 126h3v1h-3zM1342 127h2v1h-2zM1340 128h2v1h-2zM1338 129h2v1h-2zM1336 130h2v1h-2zM1333 131h3v1h-3zM1331 132h2v1h-2zM1328 133h3v1h-3zM1325 134h3v1h-3zM1323 135h2v1h-2zM1320 136h3v1h-3zM1317 137h3v1h-3zM1315 138h2v1h-2zM1313 139h2v1h-2zM1311 140h2v1h-2zM1309 141h2v1h-2zM1308 142h1v1h-1zM1306 143h2v1h-2zM1305 144h1v1h-1zM1303 145h2v1h-2zM1301 146h2v1h-2zM1300 147h1v1h-1zM1298 148h2v1h-2zM1297 149h1v1h-1zM1295 150h2v1h-2zM1293 151h2v1h-2zM1292 152h1v1h-1zM1290 153h2v1h-2zM1289 154h1v1h-1zM1287 155h2v1h-2zM1286 156h1v1h-1zM1285 157h1v1h-1zM1283 158h2v1h-2zM1282 159h1v1h-1zM1281 160h1v1h-1zM1279 161h2v1h-2zM1277 162h2v1h-2zM1276 163h1v1h-1zM1274 164h2v1h-2zM1273 165h1v1h-1zM1271 166h2v1h-2zM1270 167h1v1h-1zM1269 168h1v1h-1zM1267 169h2v1h-2zM1266 170h1v1h-1zM1265 171h1v1h-1zM1264 172h1v1h-1zM1263 173h1v1h-1zM1261 174h2v1h-2zM1260 175h1v1h-1zM1259 176h1v1h-1zM1258 177h1v1h-1zM1257 178h1v1h-1zM1256 179h1v1h-1zM1255 180h1v1h-1zM1253 181h2v1h-2zM1252 182h1v1h-1zM1251 183h1v1h-1zM1250 184h1v1h-1zM1249 185h1v1h-1zM1248 186h1v1h-1zM1247 187h1v1h-1zM1246 188h1v1h-1zM1245 189h1v1h-1zM1245 190h1v1h-1zM1244 191h1v1h-1zM1243 192h1v1h-1zM1242 193h1v1h-1zM1241 194h1v1h-1zM1240 195h1v1h-1zM1239 196h1v1h-1zM1238 197h1v1h-1zM1237 198h1v1h-1zM1237 199h1v1h-1zM1236 200h1v1h-1zM1235 201h1v1h-1zM1234 202h1v1h-1zM1233 203h1v1h-1zM1232 204h1v1h-1zM1231 205h1v1h-1zM1230 206h1v1h-1zM1229 207h1v1h-1zM1229 208h1v1h-1zM1228 209h1v1h-1zM1227 210h1v1h-1zM1226 211h1v1h-1zM1225 212h1v1h-1zM1224 213h1v1h-1zM1223 214h1v1h-1zM1223 215h1v1h-1zM1222 216h1v1h-1zM1221 217h1v1h-1zM1220 218h1v1h-1zM1219 219h1v1h-1zM1219 220h1v1h-1zM1218 221h1v1h-1zM1217 222h1v1h-1zM1216 223h1v1h-1zM1215 224h1v1h-1zM1214 225h1v1h-1zM1213 226h1v1h-1zM1213 227h1v1h-1zM1212 228h1v1h-1zM1211 229h1v1h-1zM1210 230h1v1h-1zM0 231h1v1h-1zM1209 231h1v1h-1zM1 232h1v1h-1zM1208 232h1v1h-1zM2 233h2v1h-2zM1208 233h1v1h-1zM4 234h2v1h-2zM1207 234h1v1h-1zM6 235h2v1h-2zM1206 235h1v1h-1zM8 236h2v1h-2zM1206 236h1v1h-1zM10 237h2v1h-2zM1205 237h1v1h-1zM12 238h2v1h-2zM1204 238h1v1h-1zM14 239h2v1h-2zM1204 239h1v1h-1zM16 240h2v1h-2zM1203 240h1v1h-1zM18 241h2v1h-2zM1202 241h1v1h-1zM20 242h2v1h-2zM1202 242h1v1h-1zM22 243h2v1h-2zM1201 243h1v1h-1zM24 244h2v1h-2zM1200 244h1v1h-1zM26 245h2v1h-2zM1200 245h1v1h-1zM28 246h2v1h-2zM1199 246h1v1h-1zM30 247h2v1h-2zM1198 247h1v1h-1zM32 248h2v1h-2zM1197 248h1v1h-1zM34 249h2v1h-2zM1197 249h1v1h-1zM36 250h1v1h-1zM1196 250h1v1h-1zM37 251h2v1h-2zM1195 251h1v1h-1zM39 252h2v1h-2zM1194 252h1v1h-1zM41 253h1v1h-1zM1194 253h1v1h-1zM42 254h1v1h-1zM1193 254h1v1h-1zM43 255h2v1h-2zM1192 255h1v1h-1zM45 256h1v1h-1zM1191 256h1v1h-1zM46 257h1v1h-1zM1191 257h1v1h-1zM47 258h2v1h-2zM1190 258h1v1h-1zM49 259h1v1h-1zM1189 259h1v1h-1zM50 260h1v1h-1zM1188 260h1v1h-1zM51 261h1v1h-1zM1187 261h1v1h-1zM52 262h1v1h-1zM1187 262h1v1h-1zM53 263h2v1h-2zM1186 263h1v1h-1zM55 264h1v1h-1zM1185 264h1v1h-1zM56 265h1v1h-1zM1184 265h1v1h-1zM57 266h4v1h-4zM1184 266h1v1h-1zM61 267h38v1h-38zM1183 267h1v1h-1zM99 268h4v1h-4zM1182 268h1v1h-1zM103 269h4v1h-4zM1181 269h1v1h-1zM107 270h4v1h-4zM1181 270h1v1h-1zM111 271h4v1h-4zM1180 271h1v1h-1zM115 272h2v1h-2zM1179 272h1v1h-1zM117 273h3v1h-3zM1178 273h1v1h-1zM120 274h3v1h-3zM1178 274h1v1h-1zM123 275h2v1h-2zM1177 275h1v1h-1zM125 276h3v1h-3zM496 276h5v1h-5zM1176 276h1v1h-1zM128 277h3v1h-3zM493 277h3v1h-3zM501 277h5v1h-5zM1176 277h1v1h-1zM131 278h2v1h-2zM491 278h2v1h-2zM506 278h2v1h-2zM1175 278h1v1h-1zM133 279h3v1h-3zM488 279h3v1h-3zM508 279h2v1h-2zM1174 279h1v1h-1zM136 280h2v1h-2zM486 280h2v1h-2zM510 280h2v1h-2zM1173 280h1v1h-1zM138 281h2v1h-2zM484 281h2v1h-2zM512 281h2v1h-2zM1173 281h1v1h-1zM140 282h1v1h-1zM482 282h2v1h-2zM514 282h2v1h-2zM1172 282h1v1h-1zM141 283h2v1h-2zM481 283h1v1h-1zM516 283h1v1h-1zM1171 283h1v1h-1zM143 284h2v1h-2zM479 284h2v1h-2zM517 284h2v1h-2zM1170 284h1v1h-1zM145 285h1v1h-1zM477 285h2v1h-2zM519 285h2v1h-2zM1170 285h1v1h-1zM146 286h2v1h-2zM476 286h1v1h-1zM521 286h2v1h-2zM1169 286h1v1h-1zM148 287h1v1h-1zM474 287h2v1h-2zM523 287h2v1h-2zM1168 287h1v1h-1zM149 288h2v1h-2zM473 288h1v1h-1zM525 288h3v1h-3zM1167 288h1v1h-1zM151 289h2v1h-2zM472 289h1v1h-1zM528 289h2v1h-2zM1167 289h1v1h-1zM153 290h1v1h-1zM471 290h1v1h-1zM530 290h2v1h-2zM1166 290h1v1h-1zM154 291h2v1h-2zM469 291h2v1h-2zM532 291h2v1h-2zM1165 291h1v1h-1zM156 292h1v1h-1zM468 292h1v1h-1zM534 292h2v1h-2zM1164 292h1v1h-1zM157 293h2v1h-2zM467 293h1v1h-1zM536 293h3v1h-3zM1163 293h1v1h-1zM159 294h2v1h-2zM466 294h1v1h-1zM539 294h4v1h-4zM1163 294h1v1h-1zM161 295h4v1h-4zM465 295h1v1h-1zM543 295h4v1h-4zM1162 295h1v1h-1zM165 296h5v1h-5zM464 296h1v1h-1zM547 296h4v1h-4zM1161 296h1v1h-1zM170 297h2v1h-2zM463 297h1v1h-1zM551 297h3v1h-3zM968 297h11v1h-11zM1160 297h1v1h-1zM172 298h2v1h-2zM461 298h2v1h-2zM554 298h2v1h-2zM966 298h2v1h-2zM979 298h4v1h-4zM1159 298h1v1h-1zM174 299h2v1h-2zM460 299h1v1h-1zM556 299h2v1h-2zM964 299h2v1h-2zM983 299h4v1h-4zM1158 299h1v1h-1zM176 300h2v1h-2zM459 300h1v1h-1zM558 300h2v1h-2zM962 300h2v1h-2zM987 300h4v1h-4zM1157 300h1v1h-1zM178 301h2v1h-2zM458 301h1v1h-1zM560 301h2v1h-2zM961 301h1v1h-1zM991 301h3v1h-3zM1156 301h1v1h-1zM180 302h1v1h-1zM457 302h1v1h-1zM562 302h2v1h-2zM960 302h1v1h-1zM994 302h2v1h-2zM1155 302h1v1h-1zM181 303h2v1h-2zM456 303h1v1h-1zM564 303h2v1h-2zM959 303h1v1h-1zM996 303h2v1h-2zM1154 303h1v1h-1zM183 304h2v1h-2zM455 304h1v1h-1zM566 304h2v1h-2zM957 304h2v1h-2zM998 304h2v1h-2zM1153 304h1v1h-1zM185 305h1v1h-1zM455 305h1v1h-1zM568 305h3v1h-3zM956 305h1v1h-1zM1000 305h2v1h-2zM1152 305h1v1h-1zM186 306h1v1h-1zM454 306h1v1h-1zM571 306h4v1h-4zM955 306h1v1h-1zM1002 306h1v1h-1zM1151 306h1v1h-1zM187 307h1v1h-1zM453 307h1v1h-1zM575 307h3v1h-3zM954 307h1v1h-1zM1003 307h2v1h-2zM1150 307h1v1h-1zM188 308h1v1h-1zM452 308h1v1h-1zM578 308h2v1h-2zM953 308h1v1h-1zM1005 308h1v1h-1zM1149 308h1v1h-1zM189 309h2v1h-2zM451 309h1v1h-1zM580 309h2v1h-2zM952 309h1v1h-1zM1006 309h1v1h-1zM1149 309h1v1h-1zM191 310h1v1h-1zM451 310h1v1h-1zM582 310h2v1h-2zM951 310h1v1h-1zM1007 310h2v1h-2zM1148 310h1v1h-1zM192 311h1v1h-1zM450 311h1v1h-1zM584 311h2v1h-2zM949 311h2v1h-2zM1009 311h1v1h-1zM1147 311h1v1h-1zM193 312h1v1h-1zM449 312h1v1h-1zM586 312h1v1h-1zM948 312h1v1h-1zM1010 312h1v1h-1zM1146 312h1v1h-1zM194 313h1v1h-1zM448 313h1v1h-1zM587 313h2v1h-2zM947 313h1v1h-1zM1011 313h2v1h-2zM1145 313h1v1h-1zM195 314h1v1h-1zM448 314h1v1h-1zM589 314h1v1h-1zM946 314h1v1h-1zM1013 314h1v1h-1zM1144 314h1v1h-1zM196 315h1v1h-1zM447 315h1v1h-1zM590 315h1v1h-1zM945 315h1v1h-1zM1014 315h1v1h-1zM1143 315h1v1h-1zM197 316h2v1h-2zM446 316h1v1h-1zM591 316h2v1h-2zM943 316h2v1h-2zM1015 316h2v1h-2zM1142 316h1v1h-1zM199 317h1v1h-1zM445 317h1v1h-1zM593 317h1v1h-1zM942 317h1v1h-1zM1017 317h1v1h-1zM1141 317h1v1h-1zM200 318h1v1h-1zM445 318h1v1h-1zM594 318h1v1h-1zM941 318h1v1h-1zM1018 318h2v1h-2zM1140 318h1v1h-1zM201 319h1v1h-1zM444 319h1v1h-1zM595 319h1v1h-1zM939 319h2v1h-2zM1020 319h2v1h-2zM1139 319h1v1h-1zM202 320h1v1h-1zM443 320h1v1h-1zM595 320h1v1h-1zM938 320h1v1h-1zM1022 320h2v1h-2zM1138 320h1v1h-1zM203 321h1v1h-1zM442 321h1v1h-1zM596 321h1v1h-1zM937 321h1v1h-1zM1024 321h2v1h-2zM1137 321h1v1h-1zM204 322h1v1h-1zM442 322h1v1h-1zM597 322h1v1h-1zM935 322h2v1h-2zM1026 322h2v1h-2zM1136 322h1v1h-1zM205 323h1v1h-1zM441 323h1v1h-1zM598 323h1v1h-1zM933 323h2v1h-2zM1028 323h2v1h-2zM1135 323h1v1h-1zM206 324h1v1h-1zM440 324h1v1h-1zM599 324h1v1h-1zM932 324h1v1h-1zM1030 324h2v1h-2zM1134 324h1v1h-1zM207 325h1v1h-1zM440 325h1v1h-1zM599 325h1v1h-1zM930 325h2v1h-2zM1032 325h2v1h-2zM1133 325h1v1h-1zM208 326h1v1h-1zM439 326h1v1h-1zM600 326h1v1h-1zM929 326h1v1h-1zM1034 326h2v1h-2zM1132 326h1v1h-1zM209 327h1v1h-1zM439 327h1v1h-1zM601 327h1v1h-1zM927 327h2v1h-2zM1036 327h1v1h-1zM1131 327h1v1h-1zM210 328h1v1h-1zM438 328h1v1h-1zM602 328h1v1h-1zM925 328h2v1h-2zM1037 328h2v1h-2zM1130 328h1v1h-1zM211 329h1v1h-1zM437 329h1v1h-1zM602 329h1v1h-1zM924 329h1v1h-1zM1039 329h2v1h-2zM1129 329h1v1h-1zM212 330h1v1h-1zM437 330h1v1h-1zM603 330h1v1h-1zM922 330h2v1h-2zM1041 330h1v1h-1zM1128 330h1v1h-1zM213 331h1v1h-1zM436 331h1v1h-1zM604 331h1v1h-1zM920 331h2v1h-2zM1042 331h2v1h-2zM1127 331h1v1h-1zM214 332h1v1h-1zM435 332h1v1h-1zM605 332h1v1h-1zM917 332h3v1h-3zM1044 332h1v1h-1zM1126 332h1v1h-1zM215 333h1v1h-1zM435 333h1v1h-1zM605 333h1v1h-1zM915 333h2v1h-2zM1045 333h2v1h-2zM1125 333h1v1h-1zM216 334h1v1h-1zM434 334h1v1h-1zM606 334h1v1h-1zM912 334h3v1h-3zM1047 334h2v1h-2zM1124 334h1v1h-1zM217 335h1v1h-1zM434 335h1v1h-1zM607 335h1v1h-1zM909 335h3v1h-3zM1049 335h1v1h-1zM1123 335h1v1h-1zM218 336h1v1h-1zM433 336h1v1h-1zM608 336h1v1h-1zM907 336h2v1h-2zM1050 336h2v1h-2zM1122 336h1v1h-1zM219 337h1v1h-1zM432 337h1v1h-1zM608 337h1v1h-1zM905 337h2v1h-2zM1052 337h1v1h-1zM1121 337h1v1h-1zM220 338h1v1h-1zM432 338h1v1h-1zM609 338h1v1h-1zM904 338h1v1h-1zM1053 338h2v1h-2zM1119 338h2v1h-2zM221 339h2v1h-2zM431 339h1v1h-1zM610 339h1v1h-1zM903 339h1v1h-1zM1055 339h2v1h-2zM1118 339h1v1h-1zM223 340h1v1h-1zM430 340h1v1h-1zM610 340h1v1h-1zM902 340h1v1h-1zM1057 340h2v1h-2zM1117 340h1v1h-1zM224 341h1v1h-1zM429 341h1v1h-1zM611 341h1v1h-1zM901 341h1v1h-1zM1059 341h2v1h-2zM1115 341h2v1h-2zM225 342h1v1h-1zM429 342h1v1h-1zM612 342h1v1h-1zM900 342h1v1h-1zM1061 342h3v1h-3zM1114 342h1v1h-1zM226 343h1v1h-1zM428 343h1v1h-1zM613 343h1v1h-1zM899 343h1v1h-1zM1064 343h2v1h-2zM1111 343h3v1h-3zM227 344h1v1h-1zM427 344h1v1h-1zM613 344h1v1h-1zM898 344h1v1h-1zM1066 344h2v1h-2zM1107 344h4v1h-4zM228 345h1v1h-1zM426 345h1v1h-1zM614 345h1v1h-1zM897 345h1v1h-1zM1068 345h2v1h-2zM1101 345h6v1h-6zM229 346h1v1h-1zM426 346h1v1h-1zM615 346h1v1h-1zM896 346h1v1h-1zM1070 346h2v1h-2zM1095 346h6v1h-6zM230 347h1v1h-1zM425 347h1v1h-1zM616 347h1v1h-1zM895 347h1v1h-1zM1072 347h5v1h-5zM1091 347h4v1h-4zM231 348h1v1h-1zM424 348h1v1h-1zM616 348h1v1h-1zM894 348h1v1h-1zM1077 348h14v1h-14zM232 349h1v1h-1zM424 349h1v1h-1zM617 349h1v1h-1zM893 349h1v1h-1zM233 350h1v1h-1zM423 350h1v1h-1zM618 350h1v1h-1zM893 350h1v1h-1zM234 351h1v1h-1zM422 351h1v1h-1zM618 351h1v1h-1zM892 351h1v1h-1zM235 352h2v1h-2zM421 352h1v1h-1zM619 352h1v1h-1zM891 352h1v1h-1zM237 353h1v1h-1zM421 353h1v1h-1zM619 353h1v1h-1zM890 353h1v1h-1zM238 354h1v1h-1zM420 354h1v1h-1zM620 354h1v1h-1zM889 354h1v1h-1zM239 355h2v1h-2zM419 355h1v1h-1zM621 355h1v1h-1zM888 355h1v1h-1zM241 356h1v1h-1zM418 356h1v1h-1zM621 356h1v1h-1zM887 356h1v1h-1zM242 357h1v1h-1zM418 357h1v1h-1zM622 357h1v1h-1zM887 357h1v1h-1zM243 358h1v1h-1zM417 358h1v1h-1zM623 358h1v1h-1zM886 358h1v1h-1zM244 359h1v1h-1zM416 359h1v1h-1zM623 359h1v1h-1zM885 359h1v1h-1zM245 360h2v1h-2zM415 360h1v1h-1zM624 360h1v1h-1zM884 360h1v1h-1zM247 361h1v1h-1zM414 361h1v1h-1zM624 361h1v1h-1zM883 361h1v1h-1zM248 362h1v1h-1zM413 362h1v1h-1zM625 362h1v1h-1zM883 362h1v1h-1zM249 363h1v1h-1zM412 363h1v1h-1zM626 363h1v1h-1zM882 363h1v1h-1zM250 364h1v1h-1zM411 364h1v1h-1zM626 364h1v1h-1zM881 364h1v1h-1zM251 365h1v1h-1zM410 365h1v1h-1zM627 365h1v1h-1zM880 365h1v1h-1zM252 366h1v1h-1zM409 366h1v1h-1zM627 366h1v1h-1zM879 366h1v1h-1zM253 367h1v1h-1zM407 367h2v1h-2zM628 367h1v1h-1zM879 367h1v1h-1zM254 368h1v1h-1zM405 368h2v1h-2zM628 368h1v1h-1zM878 368h1v1h-1zM255 369h1v1h-1zM404 369h1v1h-1zM629 369h1v1h-1zM877 369h1v1h-1zM256 370h1v1h-1zM402 370h2v1h-2zM629 370h1v1h-1zM876 370h1v1h-1zM257 371h1v1h-1zM401 371h1v1h-1zM630 371h1v1h-1zM875 371h1v1h-1zM258 372h1v1h-1zM399 372h2v1h-2zM630 372h1v1h-1zM875 372h1v1h-1zM259 373h1v1h-1zM398 373h1v1h-1zM631 373h1v1h-1zM874 373h1v1h-1zM260 374h1v1h-1zM397 374h1v1h-1zM631 374h1v1h-1zM873 374h1v1h-1zM261 375h1v1h-1zM395 375h2v1h-2zM632 375h1v1h-1zM872 375h1v1h-1zM262 376h1v1h-1zM394 376h1v1h-1zM632 376h1v1h-1zM871 376h1v1h-1zM263 377h1v1h-1zM393 377h1v1h-1zM633 377h1v1h-1zM870 377h1v1h-1zM264 378h1v1h-1zM391 378h2v1h-2zM633 378h1v1h-1zM869 378h1v1h-1zM265 379h1v1h-1zM389 379h2v1h-2zM634 379h1v1h-1zM868 379h1v1h-1zM266 380h1v1h-1zM388 380h1v1h-1zM634 380h1v1h-1zM867 380h1v1h-1zM267 381h1v1h-1zM386 381h2v1h-2zM635 381h1v1h-1zM866 381h1v1h-1zM268 382h1v1h-1zM385 382h1v1h-1zM636 382h1v1h-1zM865 382h1v1h-1zM269 383h1v1h-1zM384 383h1v1h-1zM637 383h1v1h-1zM864 383h1v1h-1zM269 384h1v1h-1zM383 384h1v1h-1zM637 384h1v1h-1zM863 384h1v1h-1zM270 385h1v1h-1zM382 385h1v1h-1zM638 385h1v1h-1zM862 385h1v1h-1zM271 386h1v1h-1zM381 386h1v1h-1zM639 386h1v1h-1zM861 386h1v1h-1zM272 387h1v1h-1zM380 387h1v1h-1zM640 387h1v1h-1zM861 387h1v1h-1zM273 388h1v1h-1zM379 388h1v1h-1zM640 388h1v1h-1zM860 388h1v1h-1zM274 389h1v1h-1zM378 389h1v1h-1zM641 389h1v1h-1zM859 389h1v1h-1zM274 390h1v1h-1zM377 390h1v1h-1zM642 390h1v1h-1zM858 390h1v1h-1zM275 391h1v1h-1zM376 391h1v1h-1zM643 391h1v1h-1zM857 391h1v1h-1zM276 392h1v1h-1zM375 392h1v1h-1zM644 392h1v1h-1zM856 392h1v1h-1zM277 393h1v1h-1zM374 393h1v1h-1zM645 393h2v1h-2zM855 393h1v1h-1zM277 394h1v1h-1zM373 394h1v1h-1zM647 394h1v1h-1zM854 394h1v1h-1zM278 395h1v1h-1zM373 395h1v1h-1zM648 395h1v1h-1zM853 395h1v1h-1zM279 396h1v1h-1zM372 396h1v1h-1zM649 396h1v1h-1zM853 396h1v1h-1zM280 397h1v1h-1zM371 397h1v1h-1zM650 397h1v1h-1zM852 397h1v1h-1zM280 398h1v1h-1zM370 398h1v1h-1zM651 398h2v1h-2zM851 398h1v1h-1zM281 399h1v1h-1zM369 399h1v1h-1zM653 399h1v1h-1zM850 399h1v1h-1zM282 400h1v1h-1zM368 400h1v1h-1zM654 400h1v1h-1zM849 400h1v1h-1zM283 401h1v1h-1zM367 401h1v1h-1zM655 401h2v1h-2zM848 401h1v1h-1zM284 402h1v1h-1zM366 402h1v1h-1zM657 402h18v1h-18zM847 402h1v1h-1zM285 403h1v1h-1zM365 403h1v1h-1zM675 403h2v1h-2zM845 403h2v1h-2zM286 404h1v1h-1zM364 404h1v1h-1zM677 404h3v1h-3zM844 404h1v1h-1zM287 405h1v1h-1zM363 405h1v1h-1zM680 405h2v1h-2zM843 405h1v1h-1zM288 406h1v1h-1zM362 406h1v1h-1zM682 406h2v1h-2zM842 406h1v1h-1zM289 407h1v1h-1zM361 407h1v1h-1zM684 407h2v1h-2zM841 407h1v1h-1zM290 408h1v1h-1zM360 408h1v1h-1zM686 408h2v1h-2zM839 408h2v1h-2zM291 409h1v1h-1zM359 409h1v1h-1zM688 409h2v1h-2zM838 409h1v1h-1zM292 410h1v1h-1zM358 410h1v1h-1zM690 410h2v1h-2zM837 410h1v1h-1zM293 411h1v1h-1zM357 411h1v1h-1zM692 411h2v1h-2zM835 411h2v1h-2zM293 412h1v1h-1zM357 412h1v1h-1zM694 412h2v1h-2zM834 412h1v1h-1zM294 413h1v1h-1zM356 413h1v1h-1zM696 413h2v1h-2zM831 413h3v1h-3zM295 414h1v1h-1zM355 414h1v1h-1zM698 414h2v1h-2zM827 414h4v1h-4zM296 415h1v1h-1zM354 415h1v1h-1zM700 415h1v1h-1zM824 415h3v1h-3zM297 416h2v1h-2zM353 416h1v1h-1zM701 416h2v1h-2zM821 416h3v1h-3zM299 417h2v1h-2zM352 417h1v1h-1zM703 417h2v1h-2zM819 417h2v1h-2zM301 418h3v1h-3zM351 418h1v1h-1zM705 418h1v1h-1zM815 418h4v1h-4zM304 419h3v1h-3zM350 419h1v1h-1zM706 419h2v1h-2zM811 419h4v1h-4zM307 420h2v1h-2zM349 420h1v1h-1zM708 420h2v1h-2zM808 420h3v1h-3zM309 421h3v1h-3zM349 421h1v1h-1zM710 421h2v1h-2zM806 421h2v1h-2zM312 422h3v1h-3zM348 422h1v1h-1zM712 422h2v1h-2zM804 422h2v1h-2zM315 423h2v1h-2zM347 423h1v1h-1zM714 423h1v1h-1zM802 423h2v1h-2zM317 424h3v1h-3zM346 424h1v1h-1zM715 424h2v1h-2zM799 424h3v1h-3zM320 425h3v1h-3zM341 425h5v1h-5zM717 425h1v1h-1zM795 425h4v1h-4zM323 426h4v1h-4zM333 426h8v1h-8zM718 426h1v1h-1zM792 426h3v1h-3zM327 427h6v1h-6zM719 427h2v1h-2zM790 427h2v1h-2zM721 428h1v1h-1zM788 428h2v1h-2zM722 429h2v1h-2zM786 429h2v1h-2zM724 430h1v1h-1zM785 430h1v1h-1zM725 431h2v1h-2zM783 431h2v1h-2zM727 432h2v1h-2zM781 432h2v1h-2zM729 433h1v1h-1zM780 433h1v1h-1zM730 434h1v1h-1zM778 434h2v1h-2zM731 435h2v1h-2zM776 435h2v1h-2zM733 436h1v1h-1zM774 436h2v1h-2zM734 437h1v1h-1zM772 437h2v1h-2zM735 438h2v1h-2zM770 438h2v1h-2zM737 439h1v1h-1zM768 439h2v1h-2zM738 440h2v1h-2zM766 440h2v1h-2zM740 441h1v1h-1zM764 441h2v1h-2zM741 442h2v1h-2zM762 442h2v1h-2zM743 443h2v1h-2zM760 443h2v1h-2zM745 444h2v1h-2zM757 444h3v1h-3zM747 445h4v1h-4zM755 445h2v1h-2zM751 446h4v1h-4z" fill="#3cb371"/>
<path d="M1407 136h3v1h-3zM1403 137h4v1h-4zM1400 138h3v1h-3zM1397 139h3v1h-3zM1395 140h2v1h-2zM1393 141h2v1h-2zM1392 142h1v1h-1zM1391 143h1v1h-1zM1390 144h1v1h-1zM1389 145h1v1h-1zM1389 146h1v1h-1zM1388 147h1v1h-1zM1387 148h1v1h-1zM1386 149h1v1h-1zM1385 150h1v1h-1zM1384 151h1v1h-1zM1383 152h1v1h-1zM1382 153h1v1h-1zM1381 154h1v1h-1zM1380 155h1v1h-1zM1379 156h1v1h-1zM1378 157h1v1h-1zM1377 158h1v1h-1zM1376 159h1v1h-1zM1375 160h1v1h-1zM1373 161h2v1h-2zM1372 162h1v1h-1zM1371 163h1v1h-1zM1370 164h1v1h-1zM1369 165h1v1h-1zM1367 166h2v1h-2zM1366 167h1v1h-1zM1365 168h1v1h-1zM1363 169h2v1h-2zM1362 170h1v1h-1zM1361 171h1v1h-1zM1359 172h2v1h-2zM1358 173h1v1h-1zM1357 174h1v1h-1zM1355 175h2v1h-2zM1354 176h1v1h-1zM1353 177h1v1h-1zM1352 178h1v1h-1zM1351 179h1v1h-1zM1350 180h1v1h-1zM1349 181h1v1h-1zM1348 182h1v1h-1zM1347 183h1v1h-1zM1346 184h1v1h-1zM1345 185h1v1h-1zM1343 186h2v1h-2zM1342 187h1v1h-1zM1341 188h1v1h-1zM1339 189h2v1h-2zM1338 190h1v1h-1zM1336 191h2v1h-2zM1333 192h3v1h-3zM1331 193h2v1h-2zM1327 194h4v1h-4zM1323 195h4v1h-4zM1319 196h4v1h-4zM1315 197h4v1h-4zM1309 198h6v1h-6zM1303 199h6v1h-6zM1299 200h4v1h-4zM1297 201h2v1h-2zM1295 202h2v1h-2zM1293 203h2v1h-2zM1292 204h1v1h-1zM1290 205h2v1h-2zM1289 206h1v1h-1zM1288 207h1v1h-1zM1287 208h1v1h-1zM1287 209h1v1h-1zM1286 210h1v1h-1zM1285 211h1v1h-1zM1284 212h1v1h-1zM1283 213h1v1h-1zM1283 214h1v1h-1zM1282 215h1v1h-1zM1281 216h1v1h-1zM1280 217h1v1h-1zM1280 218h1v1h-1zM1279 219h1v1h-1zM1278 220h1v1h-1zM1277 221h1v1h-1zM1277 222h1v1h-1zM1276 223h1v1h-1zM1275 224h1v1h-1zM1274 225h1v1h-1zM1274 226h1v1h-1zM1273 227h1v1h-1zM1272 228h1v1h-1zM1271 229h1v1h-1zM1271 230h1v1h-1zM1270 231h1v1h-1zM1269 232h1v1h-1zM1268 233h1v1h-1zM1267 234h1v1h-1zM1267 235h1v1h-1zM1266 236h1v1h-1zM1265 237h1v1h-1zM1264 238h1v1h-1zM1263 239h1v1h-1zM1262 240h1v1h-1zM1261 241h1v1h-1zM1261 242h1v1h-1zM1260 243h1v1h-1zM1259 244h1v1h-1zM1258 245h1v1h-1zM1257 246h1v1h-1zM1256 247h1v1h-1zM1256 248h1v1h-1zM1255 249h1v1h-1zM1254 250h1v1h-1zM1254 251h1v1h-1zM1253 252h1v1h-1zM1252 253h1v1h-1zM1252 254h1v1h-1zM1251 255h1v1h-1zM1250 256h1v1h-1zM1250 257h1v1h-1zM1249 258h1v1h-1zM1249 259h1v1h-1zM1248 260h1v1h-1zM1248 261h1v1h-1zM1247 262h1v1h-1zM1247 263h1v1h-1zM1247 264h1v1h-1zM1246 265h1v1h-1zM1246 266h1v1h-1zM1246 267h1v1h-1zM1245 268h1v1h-1zM1245 269h1v1h-1zM1244 270h1v1h-1zM1244 271h1v1h-1zM1244 272h1v1h-1zM1243 273h1v1h-1zM1243 274h1v1h-1zM1243 275h1v1h-1zM1242 276h1v1h-1zM1242 277h1v1h-1zM1241 278h1v1h-1zM1241 279h1v1h-1zM1241 280h1v1h-1zM1240 281h1v1h-1zM1240 282h1v1h-1zM1240 283h1v1h-1zM1239 284h1v1h-1zM1239 285h1v1h-1zM1239 286h1v1h-1zM1238 287h1v1h-1zM1238 288h1v1h-1zM1238 289h1v1h-1zM0 290h1v1h-1zM1237 290h1v1h-1zM1 291h1v1h-1zM1237 291h1v1h-1zM2 292h2v1h-2zM1237 292h1v1h-1zM4 293h2v1h-2zM1237 293h1v1h-1zM6 294h2v1h-2zM1236 294h1v1h-1zM8 295h2v1h-2zM1236 295h1v1h-1zM10 296h1v1h-1zM1236 296h1v1h-1zM11 297h1v1h-1zM1235 297h1v1h-1zM12 298h1v1h-1zM1235 298h1v1h-1zM13 299h2v1h-2zM1235 299h1v1h-1zM15 300h1v1h-1zM1234 300h1v1h-1zM16 301h1v1h-1zM1234 301h1v1h-1zM17 302h1v1h-1zM1234 302h1v1h-1zM18 303h1v1h-1zM1233 303h1v1h-1zM19 304h1v1h-1zM1233 304h1v1h-1zM20 305h1v1h-1zM1233 305h1v1h-1zM21 306h1v1h-1zM1232 306h1v1h-1zM21 307h1v1h-1zM1232 307h1v1h-1zM22 308h1v1h-1zM1232 308h1v1h-1zM23 309h1v1h-1zM1231 309h1v1h-1zM24 310h1v1h-1zM1231 310h1v1h-1zM25 311h1v1h-1zM1231 311h1v1h-1zM26 312h1v1h-1zM1231 312h1v1h-1zM27 313h1v1h-1zM1230 313h1v1h-1zM28 314h1v1h-1zM1230 314h1v1h-1zM29 315h1v1h-1zM1230 315h1v1h-1zM30 316h1v1h-1zM1229 316h1v1h-1zM31 317h1v1h-1zM1229 317h1v1h-1zM32 318h1v1h-1zM1229 318h1v1h-1zM33 319h1v1h-1zM1228 319h1v1h-1zM34 320h1v1h-1zM1228 320h1v1h-1zM35 321h1v1h-1zM1228 321h1v1h-1zM36 322h1v1h-1zM1227 322h1v1h-1zM37 323h1v1h-1zM1227 323h1v1h-1zM37 324h1v1h-1zM1227 324h1v1h-1zM38 325h1v1h-1zM1227 325h1v1h-1zM39 326h1v1h-1zM1226 326h1v1h-1zM40 327h1v1h-1zM1226 327h1v1h-1zM41 328h1v1h-1zM1226 328h1v1h-1zM42 329h1v1h-1zM1225 329h1v1h-1zM43 330h1v1h-1zM497 330h1v1h-1zM1225 330h1v1h-1zM44 331h1v1h-1zM496 331h1v1h-1zM498 331h1v1h-1zM1225 331h1v1h-1zM45 332h1v1h-1zM495 332h1v1h-1zM499 332h1v1h-1zM1224 332h1v1h-1zM46 333h1v1h-1zM77 333h8v1h-8zM495 333h1v1h-1zM500 333h1v1h-1zM1224 333h1v1h-1zM47 334h1v1h-1zM69 334h8v1h-8zM85 334h8v1h-8zM494 334h1v1h-1zM501 334h2v1h-2zM1224 334h1v1h-1zM48 335h1v1h-1zM61 335h8v1h-8zM93 335h5v1h-5zM144 335h13v1h-13zM493 335h1v1h-1zM503 335h1v1h-1zM1223 335h1v1h-1zM49 336h12v1h-12zM98 336h2v1h-2zM141 336h3v1h-3zM157 336h5v1h-5zM492 336h1v1h-1zM504 336h1v1h-1zM1223 336h1v1h-1zM100 337h2v1h-2zM139 337h2v1h-2zM162 337h2v1h-2zM491 337h1v1h-1zM505 337h1v1h-1zM1223 337h1v1h-1zM102 338h2v1h-2zM136 338h3v1h-3zM164 338h1v1h-1zM491 338h1v1h-1zM505 338h1v1h-1zM1223 338h1v1h-1zM104 339h3v1h-3zM133 339h3v1h-3zM165 339h2v1h-2zM490 339h1v1h-1zM506 339h1v1h-1zM1222 339h1v1h-1zM107 340h4v1h-4zM131 340h2v1h-2zM167 340h2v1h-2zM489 340h1v1h-1zM506 340h1v1h-1zM1222 340h1v1h-1zM111 341h4v1h-4zM127 341h4v1h-4zM169 341h1v1h-1zM488 341h1v1h-1zM507 341h1v1h-1zM1222 341h1v1h-1zM115 342h4v1h-4zM123 342h4v1h-4zM170 342h1v1h-1zM488 342h1v1h-1zM507 342h1v1h-1zM1221 342h1v1h-1zM119 343h4v1h-4zM171 343h1v1h-1zM487 343h1v1h-1zM508 343h1v1h-1zM1221 343h1v1h-1zM172 344h1v1h-1zM487 344h1v1h-1zM508 344h1v1h-1zM1221 344h1v1h-1zM173 345h1v1h-1zM486 345h1v1h-1zM509 345h1v1h-1zM1220 345h1v1h-1zM173 346h1v1h-1zM486 346h1v1h-1zM509 346h1v1h-1zM1220 346h1v1h-1zM174 347h1v1h-1zM485 347h1v1h-1zM509 347h1v1h-1zM1220 347h1v1h-1zM175 348h1v1h-1zM485 348h1v1h-1zM510 348h1v1h-1zM1219 348h1v1h-1zM176 349h1v1h-1zM484 349h1v1h-1zM510 349h1v1h-1zM1219 349h1v1h-1zM177 350h1v1h-1zM484 350h1v1h-1zM511 350h1v1h-1zM1219 350h1v1h-1zM177 351h1v1h-1zM483 351h1v1h-1zM511 351h1v1h-1zM1219 351h1v1h-1zM178 352h1v1h-1zM483 352h1v1h-1zM512 352h1v1h-1zM1218 352h1v1h-1zM178 353h1v1h-1zM482 353h1v1h-1zM512 353h1v1h-1zM1218 353h1v1h-1zM179 354h1v1h-1zM482 354h1v1h-1zM513 354h1v1h-1zM1218 354h1v1h-1zM179 355h1v1h-1zM481 355h1v1h-1zM513 355h1v1h-1zM1217 355h1v1h-1zM180 356h1v1h-1zM481 356h1v1h-1zM514 356h1v1h-1zM1217 356h1v1h-1zM180 357h1v1h-1zM480 357h1v1h-1zM514 357h1v1h-1zM1217 357h1v1h-1zM181 358h1v1h-1zM480 358h1v1h-1zM515 358h1v1h-1zM1216 358h1v1h-1zM181 359h1v1h-1zM479 359h1v1h-1zM515 359h1v1h-1zM968 359h2v1h-2zM1216 359h1v1h-1zM181 360h1v1h-1zM479 360h1v1h-1zM516 360h1v1h-1zM966 360h2v1h-2zM970 360h1v1h-1zM1215 360h1v1h-1zM182 361h1v1h-1zM479 361h1v1h-1zM516 361h1v1h-1zM964 361h2v1h-2zM971 361h1v1h-1zM1215 361h1v1h-1zM182 362h1v1h-1zM478 362h1v1h-1zM517 362h1v1h-1zM962 362h2v1h-2zM972 362h1v1h-1zM1215 362h1v1h-1zM183 363h1v1h-1zM478 363h1v1h-1zM518 363h1v1h-1zM961 363h1v1h-1zM973 363h2v1h-2zM1214 363h1v1h-1zM183 364h1v1h-1zM477 364h1v1h-1zM518 364h1v1h-1zM961 364h1v1h-1zM975 364h1v1h-1zM1214 364h1v1h-1zM184 365h1v1h-1zM477 365h1v1h-1zM519 365h1v1h-1zM960 365h1v1h-1zM976 365h1v1h-1zM1214 365h1v1h-1zM184 366h1v1h-1zM477 366h1v1h-1zM519 366h1v1h-1zM960 366h1v1h-1zM977 366h1v1h-1zM1213 366h1v1h-1zM185 367h1v1h-1zM476 367h1v1h-1zM520 367h1v1h-1zM960 367h1v1h-1zM978 367h1v1h-1zM1213 367h1v1h-1zM185 368h1v1h-1zM476 368h1v1h-1zM520 368h1v1h-1zM959 368h1v1h-1zM979 368h1v1h-1zM1212 368h1v1h-1zM185 369h1v1h-1zM475 369h1v1h-1zM521 369h1v1h-1zM959 369h1v1h-1zM980 369h1v1h-1zM1212 369h1v1h-1zM186 370h1v1h-1zM475 370h1v1h-1zM522 370h1v1h-1zM959 370h1v1h-1zM981 370h1v1h-1zM1212 370h1v1h-1zM186 371h1v1h-1zM475 371h1v1h-1zM523 371h1v1h-1zM958 371h1v1h-1zM981 371h1v1h-1zM1211 371h1v1h-1zM186 372h1v1h-1zM474 372h1v1h-1zM523 372h1v1h-1zM958 372h1v1h-1zM982 372h1v1h-1zM1211 372h1v1h-1zM187 373h1v1h-1zM474 373h1v1h-1zM524 373h1v1h-1zM958 373h1v1h-1zM983 373h1v1h-1zM1211 373h1v1h-1zM187 374h1v1h-1zM473 374h1v1h-1zM525 374h1v1h-1zM957 374h1v1h-1zM984 374h1v1h-1zM1210 374h1v1h-1zM187 375h1v1h-1zM473 375h1v1h-1zM526 375h1v1h-1zM957 375h1v1h-1zM985 375h1v1h-1zM1210 375h1v1h-1zM188 376h1v1h-1zM473 376h1v1h-1zM527 376h1v1h-1zM957 376h1v1h-1zM986 376h2v1h-2zM1209 376h1v1h-1zM188 377h1v1h-1zM472 377h1v1h-1zM527 377h1v1h-1zM956 377h1v1h-1zM988 377h1v1h-1zM1209 377h1v1h-1zM188 378h1v1h-1zM472 378h1v1h-1zM528 378h1v1h-1zM956 378h1v1h-1zM989 378h2v1h-2zM1209 378h1v1h-1zM189 379h1v1h-1zM471 379h1v1h-1zM529 379h1v1h-1zM956 379h1v1h-1zM991 379h2v1h-2zM1208 379h1v1h-1zM189 380h1v1h-1zM471 380h1v1h-1zM530 380h2v1h-2zM955 380h1v1h-1zM993 380h2v1h-2zM1208 380h1v1h-1zM190 381h1v1h-1zM470 381h1v1h-1zM532 381h1v1h-1zM955 381h1v1h-1zM995 381h2v1h-2zM1208 381h1v1h-1zM190 382h1v1h-1zM470 382h1v1h-1zM533 382h2v1h-2zM955 382h1v1h-1zM997 382h3v1h-3zM1207 382h1v1h-1zM190 383h1v1h-1zM470 383h1v1h-1zM535 383h2v1h-2zM954 383h1v1h-1zM1000 383h2v1h-2zM1207 383h1v1h-1zM191 384h1v1h-1zM469 384h1v1h-1zM537 384h1v1h-1zM954 384h1v1h-1zM1002 384h1v1h-1zM1207 384h1v1h-1zM191 385h1v1h-1zM469 385h1v1h-1zM538 385h1v1h-1zM954 385h1v1h-1zM1003 385h1v1h-1zM1206 385h1v1h-1zM191 386h1v1h-1zM468 386h1v1h-1zM539 386h2v1h-2zM953 386h1v1h-1zM1004 386h1v1h-1zM1206 386h1v1h-1zM192 387h1v1h-1zM468 387h1v1h-1zM541 387h1v1h-1zM953 387h1v1h-1zM1005 387h2v1h-2zM1206 387h1v1h-1zM192 388h1v1h-1zM468 388h1v1h-1zM542 388h1v1h-1zM953 388h1v1h-1zM1007 388h1v1h-1zM1205 388h1v1h-1zM192 389h1v1h-1zM467 389h1v1h-1zM543 389h2v1h-2zM953 389h1v1h-1zM1008 389h1v1h-1zM1205 389h1v1h-1zM193 390h1v1h-1zM467 390h1v1h-1zM545 390h1v1h-1zM952 390h1v1h-1zM1009 390h1v1h-1zM1205 390h1v1h-1zM193 391h1v1h-1zM466 391h1v1h-1zM546 391h1v1h-1zM952 391h1v1h-1zM1010 391h1v1h-1zM1205 391h1v1h-1zM193 392h1v1h-1zM466 392h1v1h-1zM547 392h1v1h-1zM952 392h1v1h-1zM1011 392h1v1h-1zM1204 392h1v1h-1zM193 393h1v1h-1zM465 393h1v1h-1zM548 393h1v1h-1zM952 393h1v1h-1zM1011 393h1v1h-1zM1204 393h1v1h-1zM194 394h1v1h-1zM465 394h1v1h-1zM549 394h2v1h-2zM951 394h1v1h-1zM1012 394h1v1h-1zM1204 394h1v1h-1zM194 395h1v1h-1zM464 395h1v1h-1zM551 395h1v1h-1zM951 395h1v1h-1zM1013 395h1v1h-1zM1203 395h1v1h-1zM194 396h1v1h-1zM463 396h1v1h-1zM552 396h1v1h-1zM951 396h1v1h-1zM1014 396h1v1h-1zM1203 396h1v1h-1zM194 397h1v1h-1zM463 397h1v1h-1zM553 397h1v1h-1zM951 397h1v1h-1zM1015 397h1v1h-1zM1203 397h1v1h-1zM195 398h1v1h-1zM462 398h1v1h-1zM554 398h1v1h-1zM950 398h1v1h-1zM1015 398h1v1h-1zM1202 398h1v1h-1zM195 399h1v1h-1zM461 399h1v1h-1zM555 399h1v1h-1zM950 399h1v1h-1zM1016 399h1v1h-1zM1202 399h1v1h-1zM195 400h1v1h-1zM460 400h1v1h-1zM556 400h1v1h-1zM950 400h1v1h-1zM1017 400h1v1h-1zM1202 400h1v1h-1zM195 401h1v1h-1zM459 401h1v1h-1zM557 401h1v1h-1zM950 401h1v1h-1zM1018 401h2v1h-2zM1201 401h1v1h-1zM196 402h1v1h-1zM459 402h1v1h-1zM557 402h1v1h-1zM950 402h1v1h-1zM1020 402h1v1h-1zM1201 402h1v1h-1zM196 403h1v1h-1zM458 403h1v1h-1zM558 403h1v1h-1zM949 403h1v1h-1zM1021 403h2v1h-2zM1200 403h1v1h-1zM196 404h1v1h-1zM457 404h1v1h-1zM559 404h1v1h-1zM949 404h1v1h-1zM1023 404h2v1h-2zM1200 404h1v1h-1zM196 405h1v1h-1zM457 405h1v1h-1zM560 405h1v1h-1zM949 405h1v1h-1zM1025 405h1v1h-1zM1199 405h1v1h-1zM196 406h1v1h-1zM456 406h1v1h-1zM561 406h1v1h-1zM949 406h1v1h-1zM1026 406h2v1h-2zM1199 406h1v1h-1zM197 407h1v1h-1zM456 407h1v1h-1zM562 407h2v1h-2zM948 407h1v1h-1zM1028 407h2v1h-2zM1198 407h1v1h-1zM197 408h1v1h-1zM456 408h1v1h-1zM564 408h2v1h-2zM948 408h1v1h-1zM1030 408h2v1h-2zM1198 408h1v1h-1zM197 409h1v1h-1zM455 409h1v1h-1zM566 409h2v1h-2zM948 409h1v1h-1zM1032 409h2v1h-2zM1197 409h1v1h-1zM197 410h1v1h-1zM455 410h1v1h-1zM568 410h3v1h-3zM948 410h1v1h-1zM1034 410h1v1h-1zM1196 410h1v1h-1zM198 411h1v1h-1zM454 411h1v1h-1zM571 411h2v1h-2zM948 411h1v1h-1zM1035 411h2v1h-2zM1196 411h1v1h-1zM198 412h1v1h-1zM454 412h1v1h-1zM573 412h3v1h-3zM947 412h1v1h-1zM1037 412h1v1h-1zM1195 412h1v1h-1zM198 413h1v1h-1zM454 413h1v1h-1zM576 413h5v1h-5zM947 413h1v1h-1zM1038 413h1v1h-1zM1195 413h1v1h-1zM198 414h1v1h-1zM453 414h1v1h-1zM581 414h6v1h-6zM947 414h1v1h-1zM1039 414h2v1h-2zM1194 414h1v1h-1zM198 415h1v1h-1zM453 415h1v1h-1zM587 415h2v1h-2zM947 415h1v1h-1zM1041 415h1v1h-1zM1194 415h1v1h-1zM199 416h1v1h-1zM453 416h1v1h-1zM589 416h3v1h-3zM946 416h1v1h-1zM1042 416h2v1h-2zM1193 416h1v1h-1zM199 417h1v1h-1zM452 417h1v1h-1zM592 417h2v1h-2zM946 417h1v1h-1zM1044 417h1v1h-1zM1192 417h1v1h-1zM199 418h1v1h-1zM452 418h1v1h-1zM593 418h1v1h-1zM946 418h1v1h-1zM1045 418h2v1h-2zM1192 418h1v1h-1zM199 419h1v1h-1zM452 419h1v1h-1zM594 419h1v1h-1zM946 419h1v1h-1zM1047 419h2v1h-2zM1077 419h8v1h-8zM1191 419h1v1h-1zM200 420h1v1h-1zM451 420h1v1h-1zM594 420h1v1h-1zM945 420h1v1h-1zM1049 420h4v1h-4zM1069 420h8v1h-8zM1085 420h5v1h-5zM1191 420h1v1h-1zM200 421h1v1h-1zM451 421h1v1h-1zM595 421h1v1h-1zM945 421h1v1h-1zM1053 421h16v1h-16zM1090 421h2v1h-2zM1190 421h1v1h-1zM200 422h1v1h-1zM450 422h1v1h-1zM595 422h1v1h-1zM945 422h1v1h-1zM1092 422h2v1h-2zM1190 422h1v1h-1zM200 423h1v1h-1zM450 423h1v1h-1zM596 423h1v1h-1zM945 423h1v1h-1zM1094 423h2v1h-2zM1189 423h1v1h-1zM201 424h1v1h-1zM450 424h1v1h-1zM596 424h1v1h-1zM944 424h1v1h-1zM1096 424h2v1h-2zM1188 424h1v1h-1zM201 425h1v1h-1zM449 425h1v1h-1zM596 425h1v1h-1zM944 425h1v1h-1zM1098 425h2v1h-2zM1188 425h1v1h-1zM201 426h1v1h-1zM449 426h1v1h-1zM597 426h1v1h-1zM944 426h1v1h-1zM1100 426h2v1h-2zM1187 426h1v1h-1zM201 427h1v1h-1zM449 427h1v1h-1zM597 427h1v1h-1zM943 427h1v1h-1zM1102 427h2v1h-2zM1187 427h1v1h-1zM202 428h1v1h-1zM448 428h1v1h-1zM598 428h1v1h-1zM943 428h1v1h-1zM1104 428h2v1h-2zM1186 428h1v1h-1zM202 429h1v1h-1zM448 429h1v1h-1zM598 429h1v1h-1zM943 429h1v1h-1zM1106 429h2v1h-2zM1186 429h1v1h-1zM202 430h1v1h-1zM448 430h1v1h-1zM598 430h1v1h-1zM942 430h1v1h-1zM1108 430h1v1h-1zM1185 430h1v1h-1zM202 431h1v1h-1zM447 431h1v1h-1zM599 431h1v1h-1zM942 431h1v1h-1zM1109 431h2v1h-2zM1184 431h1v1h-1zM203 432h1v1h-1zM447 432h1v1h-1zM599 432h1v1h-1zM942 432h1v1h-1zM1111 432h2v1h-2zM1184 432h1v1h-1zM203 433h1v1h-1zM447 433h1v1h-1zM600 433h1v1h-1zM941 433h1v1h-1zM1113 433h1v1h-1zM1183 433h1v1h-1zM203 434h1v1h-1zM446 434h1v1h-1zM600 434h1v1h-1zM941 434h1v1h-1zM1114 434h1v1h-1zM1182 434h1v1h-1zM204 435h1v1h-1zM446 435h1v1h-1zM601 435h1v1h-1zM941 435h1v1h-1zM1115 435h1v1h-1zM1182 435h1v1h-1zM204 436h1v1h-1zM446 436h1v1h-1zM601 436h1v1h-1zM940 436h1v1h-1zM1116 436h1v1h-1zM1181 436h1v1h-1zM204 437h1v1h-1zM445 437h1v1h-1zM602 437h1v1h-1zM940 437h1v1h-1zM1117 437h2v1h-2zM1180 437h1v1h-1zM204 438h1v1h-1zM445 438h1v1h-1zM602 438h1v1h-1zM940 438h1v1h-1zM1119 438h1v1h-1zM1180 438h1v1h-1zM205 439h1v1h-1zM444 439h1v1h-1zM603 439h1v1h-1zM939 439h1v1h-1zM1120 439h1v1h-1zM1179 439h1v1h-1zM205 440h1v1h-1zM444 440h1v1h-1zM603 440h1v1h-1zM939 440h1v1h-1zM1121 440h1v1h-1zM1178 440h1v1h-1zM205 441h1v1h-1zM444 441h1v1h-1zM604 441h1v1h-1zM939 441h1v1h-1zM1122 441h1v1h-1zM1178 441h1v1h-1zM206 442h1v1h-1zM443 442h1v1h-1zM604 442h1v1h-1zM938 442h1v1h-1zM1123 442h1v1h-1zM1177 442h1v1h-1zM206 443h1v1h-1zM443 443h1v1h-1zM605 443h1v1h-1zM938 443h1v1h-1zM1124 443h1v1h-1zM1176 443h1v1h-1zM206 444h1v1h-1zM443 444h1v1h-1zM605 444h1v1h-1zM938 444h1v1h-1zM1125 444h2v1h-2zM1175 444h1v1h-1zM206 445h1v1h-1zM442 445h1v1h-1zM606 445h1v1h-1zM937 445h1v1h-1zM1127 445h1v1h-1zM1174 445h1v1h-1zM207 446h1v1h-1zM442 446h1v1h-1zM606 446h1v1h-1zM937 446h1v1h-1zM1128 446h1v1h-1zM1173 446h1v1h-1zM207 447h1v1h-1zM442 447h1v1h-1zM607 447h1v1h-1zM936 447h1v1h-1zM1129 447h4v1h-4zM1173 447h1v1h-1zM207 448h1v1h-1zM441 448h1v1h-1zM607 448h1v1h-1zM935 448h1v1h-1zM1133 448h8v1h-8zM1172 448h1v1h-1zM208 449h1v1h-1zM441 449h1v1h-1zM608 449h1v1h-1zM934 449h1v1h-1zM1141 449h5v1h-5zM1171 449h1v1h-1zM208 450h1v1h-1zM441 450h1v1h-1zM608 450h1v1h-1zM933 450h1v1h-1zM1146 450h2v1h-2zM1170 450h1v1h-1zM208 451h1v1h-1zM440 451h1v1h-1zM609 451h1v1h-1zM933 451h1v1h-1zM1148 451h2v1h-2zM1169 451h1v1h-1zM208 452h1v1h-1zM440 452h1v1h-1zM609 452h1v1h-1zM932 452h1v1h-1zM1150 452h2v1h-2zM1167 452h2v1h-2zM209 453h1v1h-1zM440 453h1v1h-1zM609 453h1v1h-1zM931 453h1v1h-1zM1152 453h3v1h-3zM1165 453h2v1h-2zM209 454h1v1h-1zM439 454h1v1h-1zM610 454h1v1h-1zM930 454h1v1h-1zM1155 454h2v1h-2zM1164 454h1v1h-1zM209 455h1v1h-1zM439 455h1v1h-1zM610 455h1v1h-1zM929 455h1v1h-1zM1157 455h3v1h-3zM1162 455h2v1h-2zM210 456h1v1h-1zM439 456h1v1h-1zM610 456h1v1h-1zM928 456h1v1h-1zM1160 456h2v1h-2zM210 457h1v1h-1zM438 457h1v1h-1zM610 457h1v1h-1zM927 457h1v1h-1zM211 458h1v1h-1zM438 458h1v1h-1zM611 458h1v1h-1zM925 458h2v1h-2zM211 459h1v1h-1zM438 459h1v1h-1zM611 459h1v1h-1zM924 459h1v1h-1zM212 460h1v1h-1zM437 460h1v1h-1zM611 460h1v1h-1zM923 460h1v1h-1zM212 461h1v1h-1zM437 461h1v1h-1zM612 461h1v1h-1zM922 461h1v1h-1zM212 462h1v1h-1zM437 462h1v1h-1zM612 462h1v1h-1zM921 462h1v1h-1zM213 463h1v1h-1zM436 463h1v1h-1zM612 463h1v1h-1zM919 463h2v1h-2zM213 464h1v1h-1zM436 464h1v1h-1zM612 464h1v1h-1zM918 464h1v1h-1zM214 465h1v1h-1zM436 465h1v1h-1zM613 465h1v1h-1zM917 465h1v1h-1zM214 466h1v1h-1zM435 466h1v1h-1zM613 466h1v1h-1zM915 466h2v1h-2zM214 467h1v1h-1zM435 467h1v1h-1zM613 467h1v1h-1zM914 467h1v1h-1zM215 468h1v1h-1zM435 468h1v1h-1zM614 468h1v1h-1zM911 468h3v1h-3zM215 469h1v1h-1zM434 469h1v1h-1zM614 469h1v1h-1zM907 469h4v1h-4zM216 470h1v1h-1zM434 470h1v1h-1zM614 470h1v1h-1zM905 470h2v1h-2zM216 471h1v1h-1zM434 471h1v1h-1zM614 471h1v1h-1zM904 471h1v1h-1zM217 472h1v1h-1zM433 472h1v1h-1zM615 472h1v1h-1zM904 472h1v1h-1zM217 473h1v1h-1zM433 473h1v1h-1zM615 473h1v1h-1zM903 473h1v1h-1zM217 474h1v1h-1zM433 474h1v1h-1zM615 474h1v1h-1zM902 474h1v1h-1zM218 475h1v1h-1zM432 475h1v1h-1zM616 475h1v1h-1zM901 475h1v1h-1zM218 476h1v1h-1zM432 476h1v1h-1zM616 476h1v1h-1zM901 476h1v1h-1zM219 477h1v1h-1zM431 477h1v1h-1zM616 477h1v1h-1zM900 477h1v1h-1zM219 478h1v1h-1zM431 478h1v1h-1zM616 478h1v1h-1zM899 478h1v1h-1zM220 479h1v1h-1zM430 479h1v1h-1zM617 479h1v1h-1zM898 479h1v1h-1zM220 480h1v1h-1zM430 480h1v1h-1zM617 480h1v1h-1zM898 480h1v1h-1zM220 481h1v1h-1zM430 481h1v1h-1zM617 481h1v1h-1zM897 481h1v1h-1zM221 482h1v1h-1zM429 482h1v1h-1zM618 482h1v1h-1zM897 482h1v1h-1zM221 483h1v1h-1zM429 483h1v1h-1zM618 483h1v1h-1zM896 483h1v1h-1zM222 484h1v1h-1zM428 484h1v1h-1zM618 484h1v1h-1zM896 484h1v1h-1zM222 485h1v1h-1zM428 485h1v1h-1zM618 485h1v1h-1zM895 485h1v1h-1zM222 486h1v1h-1zM428 486h1v1h-1zM619 486h1v1h-1zM895 486h1v1h-1zM223 487h1v1h-1zM427 487h1v1h-1zM619 487h1v1h-1zM894 487h1v1h-1zM223 488h1v1h-1zM427 488h1v1h-1zM619 488h1v1h-1zM894 488h1v1h-1zM224 489h1v1h-1zM426 489h1v1h-1zM620 489h1v1h-1zM893 489h1v1h-1zM224 490h1v1h-1zM426 490h1v1h-1zM620 490h1v1h-1zM893 490h1v1h-1zM225 491h1v1h-1zM425 491h1v1h-1zM620 491h1v1h-1zM800 491h11v1h-11zM892 491h1v1h-1zM225 492h1v1h-1zM425 492h1v1h-1zM620 492h1v1h-1zM798 492h2v1h-2zM811 492h2v1h-2zM892 492h1v1h-1zM226 493h2v1h-2zM425 493h1v1h-1zM621 493h1v1h-1zM796 493h2v1h-2zM813 493h3v1h-3zM891 493h1v1h-1zM228 494h1v1h-1zM424 494h1v1h-1zM621 494h1v1h-1zM794 494h2v1h-2zM816 494h2v1h-2zM891 494h1v1h-1zM229 495h2v1h-2zM424 495h1v1h-1zM621 495h1v1h-1zM793 495h1v1h-1zM818 495h2v1h-2zM890 495h1v1h-1zM231 496h2v1h-2zM423 496h1v1h-1zM622 496h1v1h-1zM793 496h1v1h-1zM820 496h1v1h-1zM890 496h1v1h-1zM233 497h2v1h-2zM423 497h1v1h-1zM622 497h1v1h-1zM792 497h1v1h-1zM821 497h2v1h-2zM889 497h1v1h-1zM235 498h4v1h-4zM422 498h1v1h-1zM622 498h1v1h-1zM792 498h1v1h-1zM823 498h2v1h-2zM889 498h1v1h-1zM239 499h4v1h-4zM422 499h1v1h-1zM622 499h1v1h-1zM792 499h1v1h-1zM825 499h1v1h-1zM888 499h1v1h-1zM243 500h2v1h-2zM421 500h1v1h-1zM623 500h1v1h-1zM791 500h1v1h-1zM826 500h1v1h-1zM888 500h1v1h-1zM245 501h3v1h-3zM421 501h1v1h-1zM623 501h1v1h-1zM791 501h1v1h-1zM827 501h2v1h-2zM887 501h1v1h-1zM248 502h2v1h-2zM420 502h1v1h-1zM623 502h1v1h-1zM791 502h1v1h-1zM829 502h1v1h-1zM886 502h1v1h-1zM250 503h1v1h-1zM420 503h1v1h-1zM624 503h1v1h-1zM790 503h1v1h-1zM830 503h1v1h-1zM885 503h1v1h-1zM251 504h2v1h-2zM419 504h1v1h-1zM624 504h1v1h-1zM790 504h1v1h-1zM831 504h2v1h-2zM885 504h1v1h-1zM253 505h1v1h-1zM419 505h1v1h-1zM624 505h1v1h-1zM790 505h1v1h-1zM833 505h1v1h-1zM884 505h1v1h-1zM254 506h1v1h-1zM418 506h1v1h-1zM624 506h1v1h-1zM789 506h1v1h-1zM834 506h1v1h-1zM883 506h1v1h-1zM255 507h2v1h-2zM418 507h1v1h-1zM625 507h1v1h-1zM789 507h1v1h-1zM835 507h2v1h-2zM882 507h1v1h-1zM257 508h1v1h-1zM417 508h1v1h-1zM625 508h1v1h-1zM788 508h1v1h-1zM837 508h1v1h-1zM882 508h1v1h-1zM258 509h1v1h-1zM415 509h2v1h-2zM625 509h1v1h-1zM788 509h1v1h-1zM838 509h1v1h-1zM881 509h1v1h-1zM258 510h1v1h-1zM414 510h1v1h-1zM626 510h1v1h-1zM788 510h1v1h-1zM839 510h2v1h-2zM880 510h1v1h-1zM259 511h1v1h-1zM333 511h6v1h-6zM413 511h1v1h-1zM626 511h1v1h-1zM787 511h1v1h-1zM841 511h1v1h-1zM879 511h1v1h-1zM259 512h1v1h-1zM328 512h5v1h-5zM339 512h2v1h-2zM411 512h2v1h-2zM626 512h1v1h-1zM787 512h1v1h-1zM842 512h1v1h-1zM878 512h1v1h-1zM260 513h1v1h-1zM326 513h2v1h-2zM341 513h3v1h-3zM410 513h1v1h-1zM626 513h1v1h-1zM787 513h1v1h-1zM842 513h1v1h-1zM877 513h1v1h-1zM260 514h1v1h-1zM324 514h2v1h-2zM344 514h2v1h-2zM407 514h3v1h-3zM627 514h1v1h-1zM786 514h1v1h-1zM843 514h1v1h-1zM877 514h1v1h-1zM261 515h1v1h-1zM322 515h2v1h-2zM346 515h1v1h-1zM403 515h4v1h-4zM627 515h1v1h-1zM786 515h1v1h-1zM843 515h1v1h-1zM876 515h1v1h-1zM261 516h1v1h-1zM321 516h1v1h-1zM346 516h1v1h-1zM391 516h12v1h-12zM627 516h1v1h-1zM786 516h1v1h-1zM844 516h1v1h-1zM875 516h1v1h-1zM262 517h1v1h-1zM319 517h2v1h-2zM347 517h1v1h-1zM387 517h4v1h-4zM628 517h1v1h-1zM785 517h1v1h-1zM845 517h1v1h-1zM874 517h1v1h-1zM262 518h1v1h-1zM318 518h1v1h-1zM348 518h1v1h-1zM385 518h2v1h-2zM628 518h1v1h-1zM785 518h1v1h-1zM845 518h1v1h-1zM873 518h1v1h-1zM263 519h1v1h-1zM317 519h1v1h-1zM348 519h1v1h-1zM383 519h2v1h-2zM628 519h1v1h-1zM785 519h1v1h-1zM846 519h1v1h-1zM872 519h1v1h-1zM263 520h1v1h-1zM315 520h2v1h-2zM349 520h1v1h-1zM381 520h2v1h-2zM629 520h1v1h-1zM784 520h1v1h-1zM847 520h1v1h-1zM871 520h1v1h-1zM264 521h1v1h-1zM314 521h1v1h-1zM350 521h1v1h-1zM380 521h1v1h-1zM629 521h1v1h-1zM784 521h1v1h-1zM847 521h1v1h-1zM869 521h2v1h-2zM264 522h1v1h-1zM312 522h2v1h-2zM350 522h1v1h-1zM378 522h2v1h-2zM629 522h1v1h-1zM783 522h1v1h-1zM848 522h1v1h-1zM868 522h1v1h-1zM265 523h1v1h-1zM310 523h2v1h-2zM351 523h1v1h-1zM376 523h2v1h-2zM629 523h1v1h-1zM783 523h1v1h-1zM848 523h1v1h-1zM867 523h1v1h-1zM266 524h1v1h-1zM308 524h2v1h-2zM352 524h1v1h-1zM373 524h3v1h-3zM630 524h1v1h-1zM782 524h1v1h-1zM849 524h2v1h-2zM866 524h1v1h-1zM266 525h1v1h-1zM306 525h2v1h-2zM352 525h1v1h-1zM371 525h2v1h-2zM630 525h1v1h-1zM782 525h1v1h-1zM851 525h2v1h-2zM863 525h3v1h-3zM267 526h1v1h-1zM305 526h1v1h-1zM353 526h2v1h-2zM367 526h4v1h-4zM630 526h1v1h-1zM781 526h1v1h-1zM853 526h3v1h-3zM859 526h4v1h-4zM268 527h1v1h-1zM304 527h1v1h-1zM355 527h4v1h-4zM363 527h4v1h-4zM631 527h1v1h-1zM781 527h1v1h-1zM856 527h3v1h-3zM269 528h1v1h-1zM303 528h1v1h-1zM359 528h4v1h-4zM631 528h1v1h-1zM780 528h1v1h-1zM269 529h1v1h-1zM301 529h2v1h-2zM631 529h1v1h-1zM780 529h1v1h-1zM270 530h1v1h-1zM300 530h1v1h-1zM632 530h1v1h-1zM779 530h1v1h-1zM271 531h1v1h-1zM299 531h1v1h-1zM632 531h1v1h-1zM779 531h1v1h-1zM272 532h1v1h-1zM298 532h1v1h-1zM632 532h1v1h-1zM778 532h1v1h-1zM272 533h1v1h-1zM297 533h1v1h-1zM632 533h1v1h-1zM778 533h1v1h-1zM273 534h1v1h-1zM295 534h2v1h-2zM633 534h1v1h-1zM777 534h1v1h-1zM274 535h2v1h-2zM294 535h1v1h-1zM633 535h1v1h-1zM775 535h2v1h-2zM276 536h1v1h-1zM293 536h1v1h-1zM634 536h1v1h-1zM774 536h1v1h-1zM277 537h2v1h-2zM291 537h2v1h-2zM635 537h1v1h-1zM773 537h1v1h-1zM279 538h2v1h-2zM290 538h1v1h-1zM636 538h1v1h-1zM771 538h2v1h-2zM281 539h9v1h-9zM637 539h1v1h-1zM770 539h1v1h-1zM638 540h1v1h-1zM769 540h1v1h-1zM639 541h1v1h-1zM767 541h2v1h-2zM640 542h1v1h-1zM766 542h1v1h-1zM641 543h1v1h-1zM661 543h8v1h-8zM765 543h1v1h-1zM642 544h2v1h-2zM656 544h5v1h-5zM669 544h14v1h-14zM763 544h2v1h-2zM644 545h2v1h-2zM653 545h3v1h-3zM683 545h4v1h-4zM762 545h1v1h-1zM646 546h2v1h-2zM651 546h2v1h-2zM687 546h4v1h-4zM751 546h11v1h-11zM648 547h3v1h-3zM691 547h4v1h-4zM747 547h4v1h-4zM695 548h4v1h-4zM745 548h2v1h-2zM699 549h2v1h-2zM744 549h1v1h-1zM701 550h3v1h-3zM743 550h1v1h-1zM704 551h3v1h-3zM742 551h1v1h-1zM707 552h2v1h-2zM741 552h1v1h-1zM709 553h3v1h-3zM741 553h1v1h-1zM712 554h3v1h-3zM740 554h1v1h-1zM715 555h2v1h-2zM739 555h1v1h-1zM717 556h3v1h-3zM738 556h1v1h-1zM720 557h5v1h-5zM733 557h5v1h-5zM725 558h8v1h-8z" fill="#3cb371"/>
<rect x="386" y="204" width="62" height="19" fill="#ff0000"/>
<rect x="387" y="205" width="60" height="17" fill="#fff"/>
<text x="388.5" y="219.5" font-size="17" fill="#ff0000" font-family="Liberation Sans" textLength="57.5" lengthAdjust="spacingAndGlyphs">34933.4</text>
<rect x="448" y="213" width="10" height="1" fill="#ff0000"/>
<rect x="778" y="223" width="62" height="19" fill="#ff0000"/>
<rect x="779" y="224" width="60" height="17" fill="#fff"/>
<text x="780.3" y="238.5" font-size="17" fill="#ff0000" font-family="Liberation Sans" textLength="57.2" lengthAdjust="spacingAndGlyphs">34853.1</text>
<rect x="840" y="232" width="10" height="1" fill="#ff0000"/>
<rect x="562" y="564" width="62" height="19" fill="#ff0000"/>
<rect x="563" y="565" width="60" height="17" fill="#fff"/>
<text x="564.3" y="579.5" font-size="17" fill="#ff0000" font-family="Liberation Sans" textLength="57.2" lengthAdjust="spacingAndGlyphs">33388.2</text>
<rect x="624" y="573" width="10" height="1" fill="#ff0000"/>
<rect x="978" y="425" width="62" height="19" fill="#ff0000"/>
<rect x="979" y="426" width="60" height="17" fill="#fff"/>
<text x="980.3" y="440.5" font-size="17" fill="#ff0000" font-family="Liberation Sans" textLength="57.2" lengthAdjust="spacingAndGlyphs">33984.0</text>
<rect x="1040" y="434" width="10" height="1" fill="#ff0000"/>
<rect x="1322" y="39" width="62" height="19" fill="#ff0000"/>
<rect x="1323" y="40" width="60" height="17" fill="#fff"/>
<text x="1324.3" y="54.5" font-size="17" fill="#ff0000" font-family="Liberation Sans" textLength="57.2" lengthAdjust="spacingAndGlyphs">35638.5</text>
<rect x="1384" y="46" width="3" height="4" fill="#ff0000"/>
<rect x="1385" y="47" width="1" height="2" fill="#fff"/>
<rect x="1387" y="48" width="7" height="1" fill="#ff0000"/>
<rect x="1196" y="71" width="74" height="25" fill="#ff0000"/>
<rect x="1197" y="72" width="72" height="23" fill="#fff"/>
<text x="1197.7" y="92.3" font-size="23" fill="#ff0000" font-family="Liberation Sans" textLength="70.6" lengthAdjust="spacingAndGlyphs">35488.7</text>
<rect x="1186" y="83" width="8" height="1" fill="#ff0000"/>
<rect x="1193" y="81" width="3" height="4" fill="#ff0000"/>
<rect x="1194" y="82" width="1" height="2" fill="#fff"/>
<rect x="1" y="213" width="1" height="36" fill="#000"/>
<rect x="-1" y="223" width="5" height="18" fill="#000"/>
<rect x="9" y="193" width="1" height="91" fill="#000"/>
<rect x="7" y="238" width="5" height="33" fill="#000"/>
<rect x="17" y="261" width="1" height="54" fill="#000"/>
<rect x="15" y="269" width="5" height="26" fill="#000"/>
<rect x="25" y="289" width="1" height="35" fill="#000"/>
<rect x="23" y="294" width="5" height="20" fill="#000"/>
<rect x="33" y="303" width="1" height="25" fill="#000"/>
<rect x="31" y="310" width="5" height="2" fill="#000"/>
<rect x="41" y="302" width="1" height="21" fill="#000"/>
<rect x="39" y="310" width="5" height="8" fill="#000"/>
<rect x="49" y="302" width="1" height="31" fill="#000"/>
<rect x="47" y="316" width="5" height="11" fill="#000"/>
<rect x="57" y="292" width="1" height="52" fill="#000"/>
<rect x="55" y="298" width="5" height="28" fill="#000"/>
<rect x="56" y="299" width="3" height="26" fill="#fff"/>
<rect x="65" y="253" width="1" height="53" fill="#000"/>
<rect x="63" y="267" width="5" height="32" fill="#000"/>
<rect x="64" y="268" width="3" height="30" fill="#fff"/>
<rect x="73" y="258" width="1" height="15" fill="#000"/>
<rect x="71" y="262" width="5" height="6" fill="#000"/>
<rect x="72" y="263" width="3" height="4" fill="#fff"/>
<rect x="81" y="259" width="1" height="19" fill="#000"/>
<rect x="79" y="263" width="5" height="15" fill="#000"/>
<rect x="89" y="263" width="1" height="18" fill="#000"/>
<rect x="87" y="269" width="5" height="9" fill="#000"/>
<rect x="88" y="270" width="3" height="7" fill="#fff"/>
<rect x="97" y="264" width="1" height="18" fill="#000"/>
<rect x="95" y="269" width="5" height="11" fill="#000"/>
<rect x="105" y="239" width="1" height="96" fill="#000"/>
<rect x="103" y="278" width="5" height="36" fill="#000"/>
<rect x="113" y="261" width="1" height="59" fill="#000"/>
<rect x="111" y="286" width="5" height="26" fill="#000"/>
<rect x="112" y="287" width="3" height="24" fill="#fff"/>
<rect x="121" y="283" width="1" height="18" fill="#000"/>
<rect x="119" y="285" width="5" height="12" fill="#000"/>
<rect x="129" y="280" width="1" height="23" fill="#000"/>
<rect x="127" y="286" width="5" height="11" fill="#000"/>
<rect x="128" y="287" width="3" height="9" fill="#fff"/>
<rect x="137" y="266" width="1" height="20" fill="#000"/>
<rect x="135" y="277" width="5" height="9" fill="#000"/>
<rect x="136" y="278" width="3" height="7" fill="#fff"/>
<rect x="145" y="276" width="1" height="37" fill="#000"/>
<rect x="143" y="276" width="5" height="27" fill="#000"/>
<rect x="153" y="280" width="1" height="64" fill="#000"/>
<rect x="151" y="300" width="5" height="30" fill="#000"/>
<rect x="161" y="307" width="1" height="36" fill="#000"/>
<rect x="159" y="326" width="5" height="3" fill="#000"/>
<rect x="160" y="327" width="3" height="1" fill="#fff"/>
<rect x="169" y="326" width="1" height="18" fill="#000"/>
<rect x="167" y="326" width="5" height="10" fill="#000"/>
<rect x="177" y="341" width="1" height="16" fill="#000"/>
<rect x="175" y="342" width="5" height="5" fill="#000"/>
<rect x="176" y="343" width="3" height="3" fill="#fff"/>
<rect x="185" y="338" width="1" height="79" fill="#000"/>
<rect x="183" y="342" width="5" height="59" fill="#000"/>
<rect x="193" y="391" width="1" height="49" fill="#000"/>
<rect x="191" y="398" width="5" height="37" fill="#000"/>
<rect x="201" y="424" width="1" height="52" fill="#000"/>
<rect x="199" y="432" width="5" height="41" fill="#000"/>
<rect x="209" y="410" width="1" height="79" fill="#000"/>
<rect x="207" y="471" width="5" height="2" fill="#000"/>
<rect x="217" y="464" width="1" height="91" fill="#000"/>
<rect x="215" y="472" width="5" height="2" fill="#000"/>
<rect x="225" y="449" width="1" height="44" fill="#000"/>
<rect x="223" y="450" width="5" height="24" fill="#000"/>
<rect x="224" y="451" width="3" height="22" fill="#fff"/>
<rect x="233" y="412" width="1" height="46" fill="#000"/>
<rect x="231" y="414" width="5" height="38" fill="#000"/>
<rect x="232" y="415" width="3" height="36" fill="#fff"/>
<rect x="241" y="381" width="1" height="56" fill="#000"/>
<rect x="239" y="382" width="5" height="33" fill="#000"/>
<rect x="240" y="383" width="3" height="31" fill="#fff"/>
<rect x="249" y="376" width="1" height="41" fill="#000"/>
<rect x="247" y="382" width="5" height="25" fill="#000"/>
<rect x="257" y="388" width="1" height="96" fill="#000"/>
<rect x="255" y="405" width="5" height="31" fill="#000"/>
<rect x="265" y="411" width="1" height="72" fill="#000"/>
<rect x="263" y="434" width="5" height="49" fill="#000"/>
<rect x="273" y="477" width="1" height="24" fill="#000"/>
<rect x="271" y="479" width="5" height="20" fill="#000"/>
<rect x="281" y="444" width="1" height="74" fill="#000"/>
<rect x="279" y="471" width="5" height="30" fill="#000"/>
<rect x="280" y="472" width="3" height="28" fill="#fff"/>
<rect x="289" y="421" width="1" height="51" fill="#000"/>
<rect x="287" y="450" width="5" height="22" fill="#000"/>
<rect x="288" y="451" width="3" height="20" fill="#fff"/>
<rect x="297" y="423" width="1" height="31" fill="#000"/>
<rect x="295" y="436" width="5" height="15" fill="#000"/>
<rect x="296" y="437" width="3" height="13" fill="#fff"/>
<rect x="305" y="363" width="1" height="87" fill="#000"/>
<rect x="303" y="375" width="5" height="62" fill="#000"/>
<rect x="304" y="376" width="3" height="60" fill="#fff"/>
<rect x="313" y="357" width="1" height="60" fill="#000"/>
<rect x="311" y="375" width="5" height="26" fill="#000"/>
<rect x="321" y="382" width="1" height="23" fill="#000"/>
<rect x="319" y="383" width="5" height="18" fill="#000"/>
<rect x="320" y="384" width="3" height="16" fill="#fff"/>
<rect x="329" y="369" width="1" height="19" fill="#000"/>
<rect x="327" y="378" width="5" height="7" fill="#000"/>
<rect x="328" y="379" width="3" height="5" fill="#fff"/>
<rect x="337" y="344" width="1" height="39" fill="#000"/>
<rect x="335" y="346" width="5" height="33" fill="#000"/>
<rect x="336" y="347" width="3" height="31" fill="#fff"/>
<rect x="345" y="331" width="1" height="46" fill="#000"/>
<rect x="343" y="346" width="5" height="9" fill="#000"/>
<rect x="353" y="272" width="1" height="93" fill="#000"/>
<rect x="351" y="276" width="5" height="79" fill="#000"/>
<rect x="352" y="277" width="3" height="77" fill="#fff"/>
<rect x="361" y="257" width="1" height="28" fill="#000"/>
<rect x="359" y="276" width="5" height="9" fill="#000"/>
<rect x="369" y="272" width="1" height="14" fill="#000"/>
<rect x="367" y="282" width="5" height="2" fill="#000"/>
<rect x="377" y="260" width="1" height="32" fill="#000"/>
<rect x="375" y="277" width="5" height="4" fill="#000"/>
<rect x="376" y="278" width="3" height="2" fill="#fff"/>
<rect x="385" y="277" width="1" height="34" fill="#000"/>
<rect x="383" y="277" width="5" height="31" fill="#000"/>
<rect x="393" y="290" width="1" height="27" fill="#000"/>
<rect x="391" y="306" width="5" height="11" fill="#000"/>
<rect x="401" y="262" width="1" height="64" fill="#000"/>
<rect x="399" y="283" width="5" height="32" fill="#000"/>
<rect x="400" y="284" width="3" height="30" fill="#fff"/>
<rect x="409" y="262" width="1" height="30" fill="#000"/>
<rect x="407" y="275" width="5" height="9" fill="#000"/>
<rect x="408" y="276" width="3" height="7" fill="#fff"/>
<rect x="417" y="270" width="1" height="6" fill="#000"/>
<rect x="415" y="271" width="5" height="5" fill="#000"/>
<rect x="416" y="272" width="3" height="3" fill="#fff"/>
<rect x="425" y="252" width="1" height="14" fill="#000"/>
<rect x="423" y="254" width="5" height="2" fill="#000"/>
<rect x="433" y="231" width="1" height="26" fill="#000"/>
<rect x="431" y="242" width="5" height="13" fill="#000"/>
<rect x="432" y="243" width="3" height="11" fill="#fff"/>
<rect x="441" y="220" width="1" height="25" fill="#000"/>
<rect x="439" y="241" width="5" height="2" fill="#000"/>
<rect x="449" y="234" width="1" height="32" fill="#000"/>
<rect x="447" y="241" width="5" height="19" fill="#000"/>
<rect x="457" y="213" width="1" height="66" fill="#000"/>
<rect x="455" y="243" width="5" height="17" fill="#000"/>
<rect x="456" y="244" width="3" height="15" fill="#fff"/>
<rect x="465" y="234" width="1" height="29" fill="#000"/>
<rect x="463" y="243" width="5" height="15" fill="#000"/>
<rect x="473" y="254" width="1" height="13" fill="#000"/>
<rect x="471" y="258" width="5" height="2" fill="#000"/>
<rect x="481" y="244" width="1" height="29" fill="#000"/>
<rect x="479" y="252" width="5" height="8" fill="#000"/>
<rect x="480" y="253" width="3" height="6" fill="#fff"/>
<rect x="489" y="232" width="1" height="57" fill="#000"/>
<rect x="487" y="252" width="5" height="31" fill="#000"/>
<rect x="497" y="278" width="1" height="29" fill="#000"/>
<rect x="495" y="281" width="5" height="6" fill="#000"/>
<rect x="505" y="274" width="1" height="107" fill="#000"/>
<rect x="503" y="285" width="5" height="88" fill="#000"/>
<rect x="513" y="340" width="1" height="64" fill="#000"/>
<rect x="511" y="372" width="5" height="20" fill="#000"/>
<rect x="521" y="365" width="1" height="28" fill="#000"/>
<rect x="519" y="366" width="5" height="27" fill="#000"/>
<rect x="520" y="367" width="3" height="25" fill="#fff"/>
<rect x="529" y="349" width="1" height="36" fill="#000"/>
<rect x="527" y="355" width="5" height="12" fill="#000"/>
<rect x="528" y="356" width="3" height="10" fill="#fff"/>
<rect x="537" y="337" width="1" height="29" fill="#000"/>
<rect x="535" y="344" width="5" height="12" fill="#000"/>
<rect x="536" y="345" width="3" height="10" fill="#fff"/>
<rect x="545" y="338" width="1" height="37" fill="#000"/>
<rect x="543" y="342" width="5" height="15" fill="#000"/>
<rect x="553" y="335" width="1" height="58" fill="#000"/>
<rect x="551" y="347" width="5" height="10" fill="#000"/>
<rect x="552" y="348" width="3" height="8" fill="#fff"/>
<rect x="561" y="326" width="1" height="53" fill="#000"/>
<rect x="559" y="346" width="5" height="25" fill="#000"/>
<rect x="569" y="341" width="1" height="31" fill="#000"/>
<rect x="567" y="349" width="5" height="22" fill="#000"/>
<rect x="568" y="350" width="3" height="20" fill="#fff"/>
<rect x="577" y="332" width="1" height="23" fill="#000"/>
<rect x="575" y="333" width="5" height="18" fill="#000"/>
<rect x="576" y="334" width="3" height="16" fill="#fff"/>
<rect x="585" y="302" width="1" height="35" fill="#000"/>
<rect x="583" y="312" width="5" height="22" fill="#000"/>
<rect x="584" y="313" width="3" height="20" fill="#fff"/>
<rect x="593" y="306" width="1" height="45" fill="#000"/>
<rect x="591" y="312" width="5" height="33" fill="#000"/>
<rect x="601" y="332" width="1" height="123" fill="#000"/>
<rect x="599" y="343" width="5" height="103" fill="#000"/>
<rect x="609" y="422" width="1" height="79" fill="#000"/>
<rect x="607" y="445" width="5" height="53" fill="#000"/>
<rect x="617" y="478" width="1" height="27" fill="#000"/>
<rect x="615" y="485" width="5" height="12" fill="#000"/>
<rect x="616" y="486" width="3" height="10" fill="#fff"/>
<rect x="625" y="475" width="1" height="78" fill="#000"/>
<rect x="623" y="483" width="5" height="64" fill="#000"/>
<rect x="633" y="522" width="1" height="52" fill="#000"/>
<rect x="631" y="546" width="5" height="2" fill="#000"/>
<rect x="641" y="452" width="1" height="114" fill="#000"/>
<rect x="639" y="468" width="5" height="79" fill="#000"/>
<rect x="640" y="469" width="3" height="77" fill="#fff"/>
<rect x="649" y="430" width="1" height="85" fill="#000"/>
<rect x="647" y="443" width="5" height="26" fill="#000"/>
<rect x="648" y="444" width="3" height="24" fill="#fff"/>
<rect x="657" y="349" width="1" height="102" fill="#000"/>
<rect x="655" y="391" width="5" height="54" fill="#000"/>
<rect x="656" y="392" width="3" height="52" fill="#fff"/>
<rect x="665" y="374" width="1" height="16" fill="#000"/>
<rect x="663" y="384" width="5" height="6" fill="#000"/>
<rect x="664" y="385" width="3" height="4" fill="#fff"/>
<rect x="673" y="364" width="1" height="10" fill="#000"/>
<rect x="671" y="365" width="5" height="6" fill="#000"/>
<rect x="681" y="369" width="1" height="61" fill="#000"/>
<rect x="679" y="371" width="5" height="46" fill="#000"/>
<rect x="689" y="377" width="1" height="64" fill="#000"/>
<rect x="687" y="418" width="5" height="2" fill="#000"/>
<rect x="697" y="403" width="1" height="31" fill="#000"/>
<rect x="695" y="417" width="5" height="3" fill="#000"/>
<rect x="696" y="418" width="3" height="1" fill="#fff"/>
<rect x="705" y="367" width="1" height="140" fill="#000"/>
<rect x="703" y="417" width="5" height="49" fill="#000"/>
<rect x="713" y="450" width="1" height="47" fill="#000"/>
<rect x="711" y="464" width="5" height="2" fill="#000"/>
<rect x="721" y="448" width="1" height="20" fill="#000"/>
<rect x="719" y="460" width="5" height="3" fill="#000"/>
<rect x="720" y="461" width="3" height="1" fill="#fff"/>
<rect x="729" y="453" width="1" height="54" fill="#000"/>
<rect x="727" y="455" width="5" height="6" fill="#000"/>
<rect x="728" y="456" width="3" height="4" fill="#fff"/>
<rect x="737" y="448" width="1" height="32" fill="#000"/>
<rect x="735" y="455" width="5" height="15" fill="#000"/>
<rect x="745" y="416" width="1" height="57" fill="#000"/>
<rect x="743" y="423" width="5" height="48" fill="#000"/>
<rect x="744" y="424" width="3" height="46" fill="#fff"/>
<rect x="753" y="349" width="1" height="102" fill="#000"/>
<rect x="751" y="360" width="5" height="65" fill="#000"/>
<rect x="752" y="361" width="3" height="63" fill="#fff"/>
<rect x="761" y="347" width="1" height="44" fill="#000"/>
<rect x="759" y="360" width="5" height="31" fill="#000"/>
<rect x="769" y="375" width="1" height="23" fill="#000"/>
<rect x="767" y="389" width="5" height="7" fill="#000"/>
<rect x="777" y="376" width="1" height="55" fill="#000"/>
<rect x="775" y="394" width="5" height="18" fill="#000"/>
<rect x="785" y="402" width="1" height="57" fill="#000"/>
<rect x="783" y="410" width="5" height="41" fill="#000"/>
<rect x="793" y="441" width="1" height="44" fill="#000"/>
<rect x="791" y="451" width="5" height="11" fill="#000"/>
<rect x="801" y="414" width="1" height="84" fill="#000"/>
<rect x="799" y="440" width="5" height="22" fill="#000"/>
<rect x="800" y="441" width="3" height="20" fill="#fff"/>
<rect x="809" y="361" width="1" height="112" fill="#000"/>
<rect x="807" y="365" width="5" height="78" fill="#000"/>
<rect x="808" y="366" width="3" height="76" fill="#fff"/>
<rect x="817" y="334" width="1" height="38" fill="#000"/>
<rect x="815" y="347" width="5" height="20" fill="#000"/>
<rect x="816" y="348" width="3" height="18" fill="#fff"/>
<rect x="825" y="319" width="1" height="33" fill="#000"/>
<rect x="823" y="332" width="5" height="16" fill="#000"/>
<rect x="824" y="333" width="3" height="14" fill="#fff"/>
<rect x="833" y="315" width="1" height="28" fill="#000"/>
<rect x="831" y="328" width="5" height="5" fill="#000"/>
<rect x="832" y="329" width="3" height="3" fill="#fff"/>
<rect x="841" y="293" width="1" height="50" fill="#000"/>
<rect x="839" y="296" width="5" height="33" fill="#000"/>
<rect x="840" y="297" width="3" height="31" fill="#fff"/>
<rect x="849" y="232" width="1" height="75" fill="#000"/>
<rect x="847" y="238" width="5" height="59" fill="#000"/>
<rect x="848" y="239" width="3" height="57" fill="#fff"/>
<rect x="857" y="234" width="1" height="55" fill="#000"/>
<rect x="855" y="238" width="5" height="46" fill="#000"/>
<rect x="865" y="261" width="1" height="25" fill="#000"/>
<rect x="863" y="263" width="5" height="20" fill="#000"/>
<rect x="864" y="264" width="3" height="18" fill="#fff"/>
<rect x="873" y="256" width="1" height="30" fill="#000"/>
<rect x="871" y="263" width="5" height="12" fill="#000"/>
<rect x="881" y="259" width="1" height="24" fill="#000"/>
<rect x="879" y="274" width="5" height="2" fill="#000"/>
<rect x="889" y="269" width="1" height="26" fill="#000"/>
<rect x="887" y="275" width="5" height="2" fill="#000"/>
<rect x="897" y="264" width="1" height="45" fill="#000"/>
<rect x="895" y="277" width="5" height="8" fill="#000"/>
<rect x="905" y="263" width="1" height="39" fill="#000"/>
<rect x="903" y="283" width="5" height="4" fill="#000"/>
<rect x="913" y="285" width="1" height="10" fill="#000"/>
<rect x="911" y="285" width="5" height="6" fill="#000"/>
<rect x="921" y="299" width="1" height="41" fill="#000"/>
<rect x="919" y="304" width="5" height="23" fill="#000"/>
<rect x="929" y="283" width="1" height="51" fill="#000"/>
<rect x="927" y="293" width="5" height="34" fill="#000"/>
<rect x="928" y="294" width="3" height="32" fill="#fff"/>
<rect x="937" y="276" width="1" height="36" fill="#000"/>
<rect x="935" y="293" width="5" height="12" fill="#000"/>
<rect x="945" y="294" width="1" height="26" fill="#000"/>
<rect x="943" y="303" width="5" height="4" fill="#000"/>
<rect x="953" y="238" width="1" height="73" fill="#000"/>
<rect x="951" y="246" width="5" height="61" fill="#000"/>
<rect x="952" y="247" width="3" height="59" fill="#fff"/>
<rect x="961" y="244" width="1" height="103" fill="#000"/>
<rect x="959" y="246" width="5" height="101" fill="#000"/>
<rect x="969" y="343" width="1" height="17" fill="#000"/>
<rect x="967" y="344" width="5" height="2" fill="#000"/>
<rect x="977" y="343" width="1" height="53" fill="#000"/>
<rect x="975" y="344" width="5" height="39" fill="#000"/>
<rect x="985" y="363" width="1" height="40" fill="#000"/>
<rect x="983" y="374" width="5" height="9" fill="#000"/>
<rect x="984" y="375" width="3" height="7" fill="#fff"/>
<rect x="993" y="334" width="1" height="49" fill="#000"/>
<rect x="991" y="348" width="5" height="27" fill="#000"/>
<rect x="992" y="349" width="3" height="25" fill="#fff"/>
<rect x="1001" y="318" width="1" height="54" fill="#000"/>
<rect x="999" y="334" width="5" height="15" fill="#000"/>
<rect x="1000" y="335" width="3" height="13" fill="#fff"/>
<rect x="1009" y="320" width="1" height="68" fill="#000"/>
<rect x="1007" y="334" width="5" height="41" fill="#000"/>
<rect x="1017" y="373" width="1" height="19" fill="#000"/>
<rect x="1015" y="373" width="5" height="18" fill="#000"/>
<rect x="1025" y="370" width="1" height="21" fill="#000"/>
<rect x="1023" y="374" width="5" height="17" fill="#000"/>
<rect x="1024" y="375" width="3" height="15" fill="#fff"/>
<rect x="1033" y="366" width="1" height="32" fill="#000"/>
<rect x="1031" y="372" width="5" height="3" fill="#000"/>
<rect x="1032" y="373" width="3" height="1" fill="#fff"/>
<rect x="1041" y="352" width="1" height="26" fill="#000"/>
<rect x="1039" y="361" width="5" height="11" fill="#000"/>
<rect x="1040" y="362" width="3" height="9" fill="#fff"/>
<rect x="1049" y="352" width="1" height="83" fill="#000"/>
<rect x="1047" y="361" width="5" height="42" fill="#000"/>
<rect x="1057" y="356" width="1" height="50" fill="#000"/>
<rect x="1055" y="371" width="5" height="32" fill="#000"/>
<rect x="1056" y="372" width="3" height="30" fill="#fff"/>
<rect x="1065" y="356" width="1" height="21" fill="#000"/>
<rect x="1063" y="361" width="5" height="10" fill="#000"/>
<rect x="1064" y="362" width="3" height="8" fill="#fff"/>
<rect x="1073" y="341" width="1" height="21" fill="#000"/>
<rect x="1071" y="348" width="5" height="14" fill="#000"/>
<rect x="1072" y="349" width="3" height="12" fill="#fff"/>
<rect x="1081" y="325" width="1" height="28" fill="#000"/>
<rect x="1079" y="336" width="5" height="13" fill="#000"/>
<rect x="1080" y="337" width="3" height="11" fill="#fff"/>
<rect x="1089" y="309" width="1" height="27" fill="#000"/>
<rect x="1087" y="310" width="5" height="26" fill="#000"/>
<rect x="1088" y="311" width="3" height="24" fill="#fff"/>
<rect x="1097" y="258" width="1" height="53" fill="#000"/>
<rect x="1095" y="258" width="5" height="53" fill="#000"/>
<rect x="1096" y="259" width="3" height="51" fill="#fff"/>
<rect x="1105" y="246" width="1" height="23" fill="#000"/>
<rect x="1103" y="250" width="5" height="10" fill="#000"/>
<rect x="1104" y="251" width="3" height="8" fill="#fff"/>
<rect x="1113" y="225" width="1" height="24" fill="#000"/>
<rect x="1111" y="234" width="5" height="15" fill="#000"/>
<rect x="1112" y="235" width="3" height="13" fill="#fff"/>
<rect x="1121" y="219" width="1" height="30" fill="#000"/>
<rect x="1119" y="224" width="5" height="11" fill="#000"/>
<rect x="1120" y="225" width="3" height="9" fill="#fff"/>
<rect x="1129" y="215" width="1" height="14" fill="#000"/>
<rect x="1127" y="220" width="5" height="4" fill="#000"/>
<rect x="1128" y="221" width="3" height="2" fill="#fff"/>
<rect x="1137" y="207" width="1" height="19" fill="#000"/>
<rect x="1135" y="212" width="5" height="10" fill="#000"/>
<rect x="1136" y="213" width="3" height="8" fill="#fff"/>
<rect x="1145" y="165" width="1" height="57" fill="#000"/>
<rect x="1143" y="185" width="5" height="28" fill="#000"/>
<rect x="1144" y="186" width="3" height="26" fill="#fff"/>
<rect x="1153" y="153" width="1" height="35" fill="#000"/>
<rect x="1151" y="158" width="5" height="28" fill="#000"/>
<rect x="1152" y="159" width="3" height="26" fill="#fff"/>
<rect x="1161" y="152" width="1" height="9" fill="#000"/>
<rect x="1159" y="157" width="5" height="2" fill="#000"/>
<rect x="1169" y="157" width="1" height="13" fill="#000"/>
<rect x="1167" y="161" width="5" height="8" fill="#000"/>
<rect x="1177" y="147" width="1" height="27" fill="#000"/>
<rect x="1175" y="156" width="5" height="13" fill="#000"/>
<rect x="1176" y="157" width="3" height="11" fill="#fff"/>
<rect x="1185" y="155" width="1" height="37" fill="#000"/>
<rect x="1183" y="155" width="5" height="22" fill="#000"/>
<rect x="1193" y="167" width="1" height="26" fill="#000"/>
<rect x="1191" y="175" width="5" height="10" fill="#000"/>
<rect x="1201" y="153" width="1" height="69" fill="#000"/>
<rect x="1199" y="160" width="5" height="26" fill="#000"/>
<rect x="1200" y="161" width="3" height="24" fill="#fff"/>
<rect x="1209" y="157" width="1" height="25" fill="#000"/>
<rect x="1207" y="160" width="5" height="10" fill="#000"/>
<rect x="1217" y="168" width="1" height="13" fill="#000"/>
<rect x="1215" y="168" width="5" height="2" fill="#000"/>
<rect x="1225" y="159" width="1" height="25" fill="#000"/>
<rect x="1223" y="169" width="5" height="2" fill="#000"/>
<rect x="1233" y="149" width="1" height="27" fill="#000"/>
<rect x="1231" y="156" width="5" height="15" fill="#000"/>
<rect x="1232" y="157" width="3" height="13" fill="#fff"/>
<rect x="1241" y="119" width="1" height="40" fill="#000"/>
<rect x="1239" y="127" width="5" height="30" fill="#000"/>
<rect x="1240" y="128" width="3" height="28" fill="#fff"/>
<rect x="1249" y="123" width="1" height="40" fill="#000"/>
<rect x="1247" y="127" width="5" height="2" fill="#000"/>
<rect x="1257" y="121" width="1" height="26" fill="#000"/>
<rect x="1255" y="122" width="5" height="7" fill="#000"/>
<rect x="1256" y="123" width="3" height="5" fill="#fff"/>
<rect x="1265" y="112" width="1" height="15" fill="#000"/>
<rect x="1263" y="114" width="5" height="11" fill="#000"/>
<rect x="1264" y="115" width="3" height="9" fill="#fff"/>
<rect x="1273" y="112" width="1" height="17" fill="#000"/>
<rect x="1271" y="113" width="5" height="9" fill="#000"/>
<rect x="1281" y="112" width="1" height="23" fill="#000"/>
<rect x="1279" y="119" width="5" height="8" fill="#000"/>
<rect x="1289" y="117" width="1" height="15" fill="#000"/>
<rect x="1287" y="124" width="5" height="6" fill="#000"/>
<rect x="1297" y="82" width="1" height="51" fill="#000"/>
<rect x="1295" y="85" width="5" height="44" fill="#000"/>
<rect x="1296" y="86" width="3" height="42" fill="#fff"/>
<rect x="1305" y="72" width="1" height="27" fill="#000"/>
<rect x="1303" y="85" width="5" height="2" fill="#000"/>
<rect x="1313" y="84" width="1" height="19" fill="#000"/>
<rect x="1311" y="86" width="5" height="15" fill="#000"/>
<rect x="1321" y="89" width="1" height="15" fill="#000"/>
<rect x="1319" y="98" width="5" height="4" fill="#000"/>
<rect x="1320" y="99" width="3" height="2" fill="#fff"/>
<rect x="1329" y="95" width="1" height="22" fill="#000"/>
<rect x="1327" y="96" width="5" height="12" fill="#000"/>
<rect x="1337" y="105" width="1" height="12" fill="#000"/>
<rect x="1335" y="106" width="5" height="8" fill="#000"/>
<rect x="1345" y="95" width="1" height="31" fill="#000"/>
<rect x="1343" y="112" width="5" height="3" fill="#000"/>
<rect x="1353" y="85" width="1" height="36" fill="#000"/>
<rect x="1351" y="87" width="5" height="27" fill="#000"/>
<rect x="1352" y="88" width="3" height="25" fill="#fff"/>
<rect x="1361" y="73" width="1" height="24" fill="#000"/>
<rect x="1359" y="89" width="5" height="7" fill="#000"/>
<rect x="1369" y="75" width="1" height="21" fill="#000"/>
<rect x="1367" y="77" width="5" height="19" fill="#000"/>
<rect x="1368" y="78" width="3" height="17" fill="#fff"/>
<rect x="1377" y="74" width="1" height="18" fill="#000"/>
<rect x="1375" y="77" width="5" height="5" fill="#000"/>
<rect x="1385" y="66" width="1" height="28" fill="#000"/>
<rect x="1383" y="69" width="5" height="24" fill="#000"/>
<rect x="1384" y="70" width="3" height="22" fill="#fff"/>
<rect x="1393" y="48" width="1" height="56" fill="#000"/>
<rect x="1391" y="69" width="5" height="24" fill="#000"/>
<rect x="1401" y="49" width="1" height="51" fill="#000"/>
<rect x="1399" y="68" width="5" height="25" fill="#000"/>
<rect x="1400" y="69" width="3" height="23" fill="#fff"/>
<rect x="1409" y="68" width="1" height="8" fill="#000"/>
<rect x="1407" y="68" width="5" height="7" fill="#000"/>
<rect x="1" y="665" width="1" height="19" fill="#c0c0c0"/>
<rect x="9" y="665" width="1" height="22" fill="#c0c0c0"/>
<rect x="17" y="665" width="1" height="27" fill="#c0c0c0"/>
<rect x="25" y="665" width="1" height="32" fill="#c0c0c0"/>
<rect x="33" y="665" width="1" height="36" fill="#c0c0c0"/>
<rect x="41" y="665" width="1" height="39" fill="#c0c0c0"/>
<rect x="49" y="665" width="1" height="42" fill="#c0c0c0"/>
<rect x="57" y="665" width="1" height="40" fill="#c0c0c0"/>
<rect x="65" y="665" width="1" height="36" fill="#c0c0c0"/>
<rect x="73" y="665" width="1" height="32" fill="#c0c0c0"/>
<rect x="81" y="665" width="1" height="29" fill="#c0c0c0"/>
<rect x="89" y="665" width="1" height="26" fill="#c0c0c0"/>
<rect x="97" y="665" width="1" height="24" fill="#c0c0c0"/>
<rect x="105" y="665" width="1" height="27" fill="#c0c0c0"/>
<rect x="113" y="665" width="1" height="25" fill="#c0c0c0"/>
<rect x="121" y="665" width="1" height="25" fill="#c0c0c0"/>
<rect x="129" y="665" width="1" height="23" fill="#c0c0c0"/>
<rect x="137" y="665" width="1" height="20" fill="#c0c0c0"/>
<rect x="145" y="665" width="1" height="21" fill="#c0c0c0"/>
<rect x="153" y="665" width="1" height="24" fill="#c0c0c0"/>
<rect x="161" y="665" width="1" height="26" fill="#c0c0c0"/>
<rect x="169" y="665" width="1" height="28" fill="#c0c0c0"/>
<rect x="177" y="665" width="1" height="31" fill="#c0c0c0"/>
<rect x="185" y="665" width="1" height="38" fill="#c0c0c0"/>
<rect x="193" y="665" width="1" height="48" fill="#c0c0c0"/>
<rect x="201" y="665" width="1" height="59" fill="#c0c0c0"/>
<rect x="209" y="665" width="1" height="67" fill="#c0c0c0"/>
<rect x="217" y="665" width="1" height="72" fill="#c0c0c0"/>
<rect x="225" y="665" width="1" height="73" fill="#c0c0c0"/>
<rect x="233" y="665" width="1" height="70" fill="#c0c0c0"/>
<rect x="241" y="665" width="1" height="62" fill="#c0c0c0"/>
<rect x="249" y="665" width="1" height="58" fill="#c0c0c0"/>
<rect x="257" y="665" width="1" height="58" fill="#c0c0c0"/>
<rect x="265" y="665" width="1" height="62" fill="#c0c0c0"/>
<rect x="273" y="665" width="1" height="66" fill="#c0c0c0"/>
<rect x="281" y="665" width="1" height="66" fill="#c0c0c0"/>
<rect x="289" y="665" width="1" height="63" fill="#c0c0c0"/>
<rect x="297" y="665" width="1" height="58" fill="#c0c0c0"/>
<rect x="305" y="665" width="1" height="47" fill="#c0c0c0"/>
<rect x="313" y="665" width="1" height="40" fill="#c0c0c0"/>
<rect x="321" y="665" width="1" height="33" fill="#c0c0c0"/>
<rect x="329" y="665" width="1" height="26" fill="#c0c0c0"/>
<rect x="337" y="665" width="1" height="17" fill="#c0c0c0"/>
<rect x="345" y="665" width="1" height="10" fill="#c0c0c0"/>
<rect x="353" y="662" width="1" height="4" fill="#c0c0c0"/>
<rect x="361" y="652" width="1" height="14" fill="#c0c0c0"/>
<rect x="369" y="644" width="1" height="22" fill="#c0c0c0"/>
<rect x="377" y="638" width="1" height="28" fill="#c0c0c0"/>
<rect x="385" y="636" width="1" height="30" fill="#c0c0c0"/>
<rect x="393" y="636" width="1" height="30" fill="#c0c0c0"/>
<rect x="401" y="633" width="1" height="33" fill="#c0c0c0"/>
<rect x="409" y="631" width="1" height="35" fill="#c0c0c0"/>
<rect x="417" y="628" width="1" height="38" fill="#c0c0c0"/>
<rect x="425" y="625" width="1" height="41" fill="#c0c0c0"/>
<rect x="433" y="622" width="1" height="44" fill="#c0c0c0"/>
<rect x="441" y="619" width="1" height="47" fill="#c0c0c0"/>
<rect x="449" y="620" width="1" height="46" fill="#c0c0c0"/>
<rect x="457" y="619" width="1" height="47" fill="#c0c0c0"/>
<rect x="465" y="621" width="1" height="45" fill="#c0c0c0"/>
<rect x="473" y="623" width="1" height="43" fill="#c0c0c0"/>
<rect x="481" y="624" width="1" height="42" fill="#c0c0c0"/>
<rect x="489" y="629" width="1" height="37" fill="#c0c0c0"/>
<rect x="497" y="633" width="1" height="33" fill="#c0c0c0"/>
<rect x="505" y="647" width="1" height="19" fill="#c0c0c0"/>
<rect x="513" y="660" width="1" height="6" fill="#c0c0c0"/>
<rect x="529" y="665" width="1" height="7" fill="#c0c0c0"/>
<rect x="537" y="665" width="1" height="9" fill="#c0c0c0"/>
<rect x="545" y="665" width="1" height="12" fill="#c0c0c0"/>
<rect x="553" y="665" width="1" height="13" fill="#c0c0c0"/>
<rect x="561" y="665" width="1" height="17" fill="#c0c0c0"/>
<rect x="569" y="665" width="1" height="17" fill="#c0c0c0"/>
<rect x="577" y="665" width="1" height="15" fill="#c0c0c0"/>
<rect x="585" y="665" width="1" height="11" fill="#c0c0c0"/>
<rect x="593" y="665" width="1" height="11" fill="#c0c0c0"/>
<rect x="601" y="665" width="1" height="23" fill="#c0c0c0"/>
<rect x="609" y="665" width="1" height="37" fill="#c0c0c0"/>
<rect x="617" y="665" width="1" height="46" fill="#c0c0c0"/>
<rect x="625" y="665" width="1" height="60" fill="#c0c0c0"/>
<rect x="633" y="665" width="1" height="70" fill="#c0c0c0"/>
<rect x="641" y="665" width="1" height="68" fill="#c0c0c0"/>
<rect x="649" y="665" width="1" height="64" fill="#c0c0c0"/>
<rect x="657" y="665" width="1" height="54" fill="#c0c0c0"/>
<rect x="665" y="665" width="1" height="44" fill="#c0c0c0"/>
<rect x="673" y="665" width="1" height="35" fill="#c0c0c0"/>
<rect x="681" y="665" width="1" height="33" fill="#c0c0c0"/>
<rect x="689" y="665" width="1" height="30" fill="#c0c0c0"/>
<rect x="697" y="665" width="1" height="28" fill="#c0c0c0"/>
<rect x="705" y="665" width="1" height="30" fill="#c0c0c0"/>
<rect x="713" y="665" width="1" height="33" fill="#c0c0c0"/>
<rect x="721" y="665" width="1" height="34" fill="#c0c0c0"/>
<rect x="729" y="665" width="1" height="33" fill="#c0c0c0"/>
<rect x="737" y="665" width="1" height="34" fill="#c0c0c0"/>
<rect x="745" y="665" width="1" height="30" fill="#c0c0c0"/>
<rect x="753" y="665" width="1" height="19" fill="#c0c0c0"/>
<rect x="761" y="665" width="1" height="14" fill="#c0c0c0"/>
<rect x="769" y="665" width="1" height="10" fill="#c0c0c0"/>
<rect x="777" y="665" width="1" height="8" fill="#c0c0c0"/>
<rect x="785" y="665" width="1" height="12" fill="#c0c0c0"/>
<rect x="793" y="665" width="1" height="15" fill="#c0c0c0"/>
<rect x="801" y="665" width="1" height="15" fill="#c0c0c0"/>
<rect x="809" y="665" width="1" height="7" fill="#c0c0c0"/>
<rect x="817" y="664" width="1" height="2" fill="#c0c0c0"/>
<rect x="825" y="655" width="1" height="11" fill="#c0c0c0"/>
<rect x="833" y="649" width="1" height="17" fill="#c0c0c0"/>
<rect x="841" y="640" width="1" height="26" fill="#c0c0c0"/>
<rect x="849" y="627" width="1" height="39" fill="#c0c0c0"/>
<rect x="857" y="622" width="1" height="44" fill="#c0c0c0"/>
<rect x="865" y="617" width="1" height="49" fill="#c0c0c0"/>
<rect x="873" y="614" width="1" height="52" fill="#c0c0c0"/>
<rect x="881" y="613" width="1" height="53" fill="#c0c0c0"/>
<rect x="889" y="613" width="1" height="53" fill="#c0c0c0"/>
<rect x="897" y="614" width="1" height="52" fill="#c0c0c0"/>
<rect x="905" y="616" width="1" height="50" fill="#c0c0c0"/>
<rect x="913" y="619" width="1" height="47" fill="#c0c0c0"/>
<rect x="921" y="625" width="1" height="41" fill="#c0c0c0"/>
<rect x="929" y="627" width="1" height="39" fill="#c0c0c0"/>
<rect x="937" y="630" width="1" height="36" fill="#c0c0c0"/>
<rect x="945" y="633" width="1" height="33" fill="#c0c0c0"/>
<rect x="953" y="629" width="1" height="37" fill="#c0c0c0"/>
<rect x="961" y="637" width="1" height="29" fill="#c0c0c0"/>
<rect x="969" y="644" width="1" height="22" fill="#c0c0c0"/>
<rect x="977" y="654" width="1" height="12" fill="#c0c0c0"/>
<rect x="985" y="661" width="1" height="5" fill="#c0c0c0"/>
<rect x="993" y="663" width="1" height="3" fill="#c0c0c0"/>
<rect x="1001" y="664" width="1" height="2" fill="#c0c0c0"/>
<rect x="1009" y="665" width="1" height="4" fill="#c0c0c0"/>
<rect x="1017" y="665" width="1" height="9" fill="#c0c0c0"/>
<rect x="1025" y="665" width="1" height="12" fill="#c0c0c0"/>
<rect x="1033" y="665" width="1" height="13" fill="#c0c0c0"/>
<rect x="1041" y="665" width="1" height="13" fill="#c0c0c0"/>
<rect x="1049" y="665" width="1" height="17" fill="#c0c0c0"/>
<rect x="1057" y="665" width="1" height="17" fill="#c0c0c0"/>
<rect x="1065" y="665" width="1" height="16" fill="#c0c0c0"/>
<rect x="1073" y="665" width="1" height="13" fill="#c0c0c0"/>
<rect x="1081" y="665" width="1" height="9" fill="#c0c0c0"/>
<rect x="1089" y="665" width="1" height="3" fill="#c0c0c0"/>
<rect x="1097" y="658" width="1" height="8" fill="#c0c0c0"/>
<rect x="1105" y="649" width="1" height="17" fill="#c0c0c0"/>
<rect x="1113" y="641" width="1" height="25" fill="#c0c0c0"/>
<rect x="1121" y="633" width="1" height="33" fill="#c0c0c0"/>
<rect x="1129" y="627" width="1" height="39" fill="#c0c0c0"/>
<rect x="1137" y="622" width="1" height="44" fill="#c0c0c0"/>
<rect x="1145" y="616" width="1" height="50" fill="#c0c0c0"/>
<rect x="1153" y="608" width="1" height="58" fill="#c0c0c0"/>
<rect x="1161" y="603" width="1" height="63" fill="#c0c0c0"/>
<rect x="1169" y="601" width="1" height="65" fill="#c0c0c0"/>
<rect x="1177" y="598" width="1" height="68" fill="#c0c0c0"/>
<rect x="1185" y="600" width="1" height="66" fill="#c0c0c0"/>
<rect x="1193" y="602" width="1" height="64" fill="#c0c0c0"/>
<rect x="1201" y="602" width="1" height="64" fill="#c0c0c0"/>
<rect x="1209" y="604" width="1" height="62" fill="#c0c0c0"/>
<rect x="1217" y="606" width="1" height="60" fill="#c0c0c0"/>
<rect x="1225" y="609" width="1" height="57" fill="#c0c0c0"/>
<rect x="1233" y="609" width="1" height="57" fill="#c0c0c0"/>
<rect x="1241" y="608" width="1" height="58" fill="#c0c0c0"/>
<rect x="1249" y="607" width="1" height="59" fill="#c0c0c0"/>
<rect x="1257" y="607" width="1" height="59" fill="#c0c0c0"/>
<rect x="1265" y="606" width="1" height="60" fill="#c0c0c0"/>
<rect x="1273" y="607" width="1" height="59" fill="#c0c0c0"/>
<rect x="1281" y="609" width="1" height="57" fill="#c0c0c0"/>
<rect x="1289" y="612" width="1" height="54" fill="#c0c0c0"/>
<rect x="1297" y="609" width="1" height="57" fill="#c0c0c0"/>
<rect x="1305" y="608" width="1" height="58" fill="#c0c0c0"/>
<rect x="1313" y="610" width="1" height="56" fill="#c0c0c0"/>
<rect x="1321" y="611" width="1" height="55" fill="#c0c0c0"/>
<rect x="1329" y="614" width="1" height="52" fill="#c0c0c0"/>
<rect x="1337" y="616" width="1" height="50" fill="#c0c0c0"/>
<rect x="1345" y="621" width="1" height="45" fill="#c0c0c0"/>
<rect x="1353" y="621" width="1" height="45" fill="#c0c0c0"/>
<rect x="1361" y="623" width="1" height="43" fill="#c0c0c0"/>
<rect x="1369" y="623" width="1" height="43" fill="#c0c0c0"/>
<rect x="1377" y="624" width="1" height="42" fill="#c0c0c0"/>
<rect x="1385" y="623" width="1" height="43" fill="#c0c0c0"/>
<rect x="1393" y="626" width="1" height="40" fill="#c0c0c0"/>
<rect x="1401" y="626" width="1" height="40" fill="#c0c0c0"/>
<rect x="1409" y="627" width="1" height="39" fill="#c0c0c0"/>
<path d="M1217 602h3v1h-3zM1223 602h3v1h-3zM1229 602h3v1h-3zM1235 602h2v1h-2zM1211 603h3v1h-3zM1237 603h1v1h-1zM1241 603h3v1h-3zM1207 604h1v1h-1zM1247 604h3v1h-3zM1205 605h2v1h-2zM1253 605h3v1h-3zM1259 605h2v1h-2zM1199 606h3v1h-3zM1261 606h1v1h-1zM1265 606h3v1h-3zM1271 606h3v1h-3zM1195 607h1v1h-1zM1277 607h3v1h-3zM1283 607h3v1h-3zM1289 607h3v1h-3zM1295 607h3v1h-3zM1193 608h2v1h-2zM1301 608h3v1h-3zM1307 608h3v1h-3zM1313 608h3v1h-3zM1319 608h3v1h-3zM1189 609h1v1h-1zM1325 609h3v1h-3zM1331 609h2v1h-2zM1187 610h2v1h-2zM1333 610h1v1h-1zM1337 610h2v1h-2zM1339 611h1v1h-1zM1183 612h1v1h-1zM1343 612h3v1h-3zM1181 613h2v1h-2zM1349 613h3v1h-3zM1355 613h2v1h-2zM1357 614h1v1h-1zM1361 614h2v1h-2zM1363 615h1v1h-1zM1177 616h1v1h-1zM1367 616h3v1h-3zM917 617h3v1h-3zM923 617h2v1h-2zM1175 617h2v1h-2zM1373 617h3v1h-3zM911 618h3v1h-3zM925 618h1v1h-1zM929 618h3v1h-3zM1379 618h3v1h-3zM905 619h3v1h-3zM935 619h3v1h-3zM1385 619h3v1h-3zM941 620h3v1h-3zM1171 620h1v1h-1zM1391 620h3v1h-3zM479 621h3v1h-3zM900 621h2v1h-2zM947 621h2v1h-2zM1170 621h1v1h-1zM1397 621h2v1h-2zM473 622h3v1h-3zM485 622h3v1h-3zM491 622h3v1h-3zM497 622h1v1h-1zM899 622h1v1h-1zM949 622h1v1h-1zM1169 622h1v1h-1zM1399 622h1v1h-1zM1403 622h2v1h-2zM467 623h3v1h-3zM498 623h2v1h-2zM953 623h2v1h-2zM1405 623h1v1h-1zM1409 623h1v1h-1zM461 624h3v1h-3zM895 624h1v1h-1zM955 624h1v1h-1zM455 625h3v1h-3zM503 625h1v1h-1zM893 625h2v1h-2zM959 625h3v1h-3zM451 626h1v1h-1zM504 626h2v1h-2zM1165 626h1v1h-1zM449 627h2v1h-2zM965 627h3v1h-3zM1164 627h1v1h-1zM443 628h3v1h-3zM509 628h1v1h-1zM889 628h1v1h-1zM1163 628h1v1h-1zM510 629h2v1h-2zM887 629h2v1h-2zM971 629h1v1h-1zM438 630h2v1h-2zM972 630h1v1h-1zM437 631h1v1h-1zM515 631h1v1h-1zM973 631h1v1h-1zM516 632h1v1h-1zM883 632h1v1h-1zM1159 632h1v1h-1zM432 633h2v1h-2zM517 633h1v1h-1zM882 633h1v1h-1zM977 633h1v1h-1zM1157 633h2v1h-2zM431 634h1v1h-1zM881 634h1v1h-1zM978 634h2v1h-2zM427 635h1v1h-1zM521 635h1v1h-1zM425 636h2v1h-2zM522 636h1v1h-1zM983 636h1v1h-1zM523 637h1v1h-1zM877 637h1v1h-1zM984 637h2v1h-2zM1153 637h1v1h-1zM420 638h2v1h-2zM876 638h1v1h-1zM1152 638h1v1h-1zM419 639h1v1h-1zM875 639h1v1h-1zM989 639h1v1h-1zM1151 639h1v1h-1zM527 640h2v1h-2zM990 640h2v1h-2zM415 641h1v1h-1zM529 641h1v1h-1zM413 642h2v1h-2zM871 642h1v1h-1zM995 642h1v1h-1zM1147 642h1v1h-1zM870 643h1v1h-1zM996 643h2v1h-2zM1146 643h1v1h-1zM533 644h2v1h-2zM869 644h1v1h-1zM1145 644h1v1h-1zM409 645h1v1h-1zM535 645h1v1h-1zM1001 645h1v1h-1zM407 646h2v1h-2zM1002 646h1v1h-1zM865 647h1v1h-1zM1003 647h1v1h-1zM1141 647h1v1h-1zM539 648h1v1h-1zM864 648h1v1h-1zM1140 648h1v1h-1zM403 649h1v1h-1zM540 649h1v1h-1zM863 649h1v1h-1zM1139 649h1v1h-1zM402 650h1v1h-1zM541 650h1v1h-1zM1007 650h2v1h-2zM401 651h1v1h-1zM1009 651h1v1h-1zM859 652h1v1h-1zM1135 652h1v1h-1zM545 653h1v1h-1zM858 653h1v1h-1zM1013 653h3v1h-3zM1134 653h1v1h-1zM397 654h1v1h-1zM546 654h1v1h-1zM857 654h1v1h-1zM1133 654h1v1h-1zM396 655h1v1h-1zM547 655h1v1h-1zM1019 655h1v1h-1zM395 656h1v1h-1zM1020 656h2v1h-2zM853 657h1v1h-1zM1129 657h1v1h-1zM551 658h2v1h-2zM851 658h2v1h-2zM1025 658h1v1h-1zM1127 658h2v1h-2zM391 659h1v1h-1zM553 659h1v1h-1zM1026 659h1v1h-1zM390 660h1v1h-1zM1027 660h1v1h-1zM389 661h1v1h-1zM847 661h1v1h-1zM1122 661h2v1h-2zM557 662h2v1h-2zM845 662h2v1h-2zM1121 662h1v1h-1zM559 663h1v1h-1zM1031 663h2v1h-2zM385 664h1v1h-1zM1033 664h1v1h-1zM1117 664h1v1h-1zM384 665h1v1h-1zM840 665h2v1h-2zM1116 665h1v1h-1zM383 666h1v1h-1zM563 666h2v1h-2zM839 666h1v1h-1zM1037 666h1v1h-1zM1115 666h1v1h-1zM565 667h1v1h-1zM835 667h1v1h-1zM1038 667h2v1h-2zM833 668h2v1h-2zM1110 668h2v1h-2zM1043 669h1v1h-1zM1109 669h1v1h-1zM379 670h1v1h-1zM569 670h2v1h-2zM828 670h2v1h-2zM1044 670h2v1h-2zM378 671h1v1h-1zM571 671h1v1h-1zM827 671h1v1h-1zM1104 671h2v1h-2zM377 672h1v1h-1zM575 672h1v1h-1zM1049 672h2v1h-2zM1103 672h1v1h-1zM576 673h2v1h-2zM822 673h2v1h-2zM1051 673h1v1h-1zM581 674h2v1h-2zM821 674h1v1h-1zM1055 674h3v1h-3zM1098 674h2v1h-2zM583 675h1v1h-1zM587 675h2v1h-2zM1061 675h2v1h-2zM1097 675h1v1h-1zM373 676h1v1h-1zM589 676h1v1h-1zM593 676h2v1h-2zM816 676h2v1h-2zM1063 676h1v1h-1zM1067 676h2v1h-2zM1091 676h3v1h-3zM373 677h1v1h-1zM595 677h1v1h-1zM815 677h1v1h-1zM1069 677h1v1h-1zM1073 677h3v1h-3zM1079 677h3v1h-3zM1085 677h3v1h-3zM372 678h1v1h-1zM599 678h3v1h-3zM810 679h2v1h-2zM605 680h3v1h-3zM809 680h1v1h-1zM805 681h1v1h-1zM368 682h1v1h-1zM611 682h1v1h-1zM803 682h2v1h-2zM367 683h1v1h-1zM612 683h1v1h-1zM797 683h3v1h-3zM366 684h1v1h-1zM613 684h1v1h-1zM791 684h3v1h-3zM787 685h1v1h-1zM617 686h1v1h-1zM785 686h2v1h-2zM618 687h2v1h-2zM779 687h3v1h-3zM362 688h1v1h-1zM144 689h3v1h-3zM150 689h3v1h-3zM156 689h3v1h-3zM162 689h3v1h-3zM168 689h3v1h-3zM174 689h3v1h-3zM180 689h1v1h-1zM361 689h1v1h-1zM623 689h1v1h-1zM773 689h3v1h-3zM133 690h2v1h-2zM138 690h3v1h-3zM181 690h2v1h-2zM186 690h1v1h-1zM360 690h1v1h-1zM624 690h2v1h-2zM30 691h3v1h-3zM36 691h1v1h-1zM127 691h2v1h-2zM132 691h1v1h-1zM187 691h2v1h-2zM767 691h3v1h-3zM18 692h3v1h-3zM24 692h3v1h-3zM37 692h2v1h-2zM42 692h1v1h-1zM126 692h1v1h-1zM763 692h1v1h-1zM12 693h3v1h-3zM43 693h2v1h-2zM120 693h3v1h-3zM192 693h2v1h-2zM356 693h1v1h-1zM629 693h1v1h-1zM761 693h2v1h-2zM7 694h2v1h-2zM48 694h3v1h-3zM54 694h3v1h-3zM194 694h1v1h-1zM355 694h1v1h-1zM630 694h1v1h-1zM755 694h3v1h-3zM6 695h1v1h-1zM60 695h1v1h-1zM115 695h2v1h-2zM354 695h1v1h-1zM631 695h1v1h-1zM749 695h3v1h-3zM1 696h2v1h-2zM61 696h2v1h-2zM109 696h2v1h-2zM114 696h1v1h-1zM198 696h1v1h-1zM743 696h3v1h-3zM0 697h1v1h-1zM66 697h1v1h-1zM102 697h3v1h-3zM108 697h1v1h-1zM199 697h2v1h-2zM737 697h3v1h-3zM67 698h2v1h-2zM96 698h3v1h-3zM635 698h2v1h-2zM731 698h3v1h-3zM72 699h3v1h-3zM78 699h3v1h-3zM84 699h3v1h-3zM90 699h3v1h-3zM349 699h2v1h-2zM637 699h1v1h-1zM725 699h3v1h-3zM204 700h1v1h-1zM348 700h1v1h-1zM720 700h2v1h-2zM205 701h2v1h-2zM719 701h1v1h-1zM641 702h1v1h-1zM642 703h1v1h-1zM714 703h2v1h-2zM210 704h2v1h-2zM344 704h1v1h-1zM643 704h1v1h-1zM713 704h1v1h-1zM212 705h1v1h-1zM343 705h1v1h-1zM342 706h1v1h-1zM708 706h2v1h-2zM216 707h1v1h-1zM647 707h2v1h-2zM707 707h1v1h-1zM217 708h1v1h-1zM649 708h1v1h-1zM218 709h1v1h-1zM702 709h2v1h-2zM338 710h1v1h-1zM653 710h1v1h-1zM701 710h1v1h-1zM222 711h1v1h-1zM336 711h2v1h-2zM654 711h2v1h-2zM223 712h2v1h-2zM696 712h2v1h-2zM332 713h1v1h-1zM659 713h1v1h-1zM695 713h1v1h-1zM330 714h2v1h-2zM660 714h2v1h-2zM691 714h1v1h-1zM228 715h1v1h-1zM689 715h2v1h-2zM229 716h2v1h-2zM665 716h3v1h-3zM683 716h3v1h-3zM325 717h2v1h-2zM671 717h3v1h-3zM677 717h3v1h-3zM324 718h1v1h-1zM234 719h2v1h-2zM236 720h1v1h-1zM319 720h2v1h-2zM318 721h1v1h-1zM240 722h3v1h-3zM312 722h3v1h-3zM246 723h1v1h-1zM307 723h2v1h-2zM247 724h2v1h-2zM306 724h1v1h-1zM252 725h1v1h-1zM300 725h3v1h-3zM253 726h2v1h-2zM295 726h2v1h-2zM258 727h1v1h-1zM294 727h1v1h-1zM259 728h2v1h-2zM288 728h3v1h-3zM264 729h3v1h-3zM270 729h3v1h-3zM276 729h1v1h-1zM283 729h2v1h-2zM277 730h2v1h-2zM282 730h1v1h-1z" fill="#ff0000"/>
<line x1="0" y1="783.5" x2="1652" y2="783.5" stroke="#c0c0c0" stroke-width="1" stroke-dasharray="3 3" shape-rendering="crispEdges"/>
<line x1="0" y1="834.5" x2="1652" y2="834.5" stroke="#c0c0c0" stroke-width="1" stroke-dasharray="3 3" shape-rendering="crispEdges"/>
<line x1="0" y1="895.5" x2="1652" y2="895.5" stroke="#c0c0c0" stroke-width="1" stroke-dasharray="3 3" shape-rendering="crispEdges"/>
<path d="M1297 791h4v1h-4zM1296 792h1v1h-1zM1301 792h5v1h-5zM1152 793h10v1h-10zM1296 793h1v1h-1zM1306 793h1v1h-1zM1150 794h2v1h-2zM1162 794h2v1h-2zM1263 794h3v1h-3zM1295 794h1v1h-1zM1307 794h1v1h-1zM1148 795h2v1h-2zM1164 795h2v1h-2zM1259 795h4v1h-4zM1266 795h2v1h-2zM1295 795h1v1h-1zM1307 795h1v1h-1zM1146 796h2v1h-2zM1166 796h2v1h-2zM1173 796h5v1h-5zM1253 796h6v1h-6zM1268 796h2v1h-2zM1294 796h1v1h-1zM1308 796h1v1h-1zM1145 797h1v1h-1zM1168 797h5v1h-5zM1178 797h1v1h-1zM1241 797h12v1h-12zM1270 797h2v1h-2zM1293 797h1v1h-1zM1309 797h1v1h-1zM1143 798h2v1h-2zM1179 798h1v1h-1zM1240 798h1v1h-1zM1272 798h3v1h-3zM1293 798h1v1h-1zM1310 798h1v1h-1zM1141 799h2v1h-2zM1180 799h1v1h-1zM1239 799h1v1h-1zM1275 799h2v1h-2zM1292 799h1v1h-1zM1311 799h1v1h-1zM849 800h1v1h-1zM1140 800h1v1h-1zM1181 800h1v1h-1zM1237 800h2v1h-2zM1277 800h3v1h-3zM1291 800h1v1h-1zM1311 800h1v1h-1zM848 801h1v1h-1zM850 801h1v1h-1zM1138 801h2v1h-2zM1181 801h1v1h-1zM1236 801h1v1h-1zM1280 801h3v1h-3zM1291 801h1v1h-1zM1312 801h1v1h-1zM1317 801h5v1h-5zM1369 801h1v1h-1zM847 802h1v1h-1zM850 802h1v1h-1zM1135 802h3v1h-3zM1182 802h1v1h-1zM1235 802h1v1h-1zM1283 802h2v1h-2zM1290 802h1v1h-1zM1313 802h4v1h-4zM1322 802h1v1h-1zM1367 802h2v1h-2zM1370 802h1v1h-1zM1385 802h1v1h-1zM847 803h1v1h-1zM851 803h1v1h-1zM1131 803h4v1h-4zM1183 803h1v1h-1zM1234 803h1v1h-1zM1285 803h3v1h-3zM1290 803h1v1h-1zM1323 803h1v1h-1zM1366 803h1v1h-1zM1371 803h1v1h-1zM1383 803h2v1h-2zM1386 803h1v1h-1zM846 804h1v1h-1zM851 804h1v1h-1zM1125 804h6v1h-6zM1184 804h1v1h-1zM1201 804h2v1h-2zM1233 804h1v1h-1zM1288 804h2v1h-2zM1324 804h1v1h-1zM1353 804h2v1h-2zM1365 804h1v1h-1zM1372 804h1v1h-1zM1382 804h1v1h-1zM1386 804h1v1h-1zM845 805h1v1h-1zM852 805h1v1h-1zM1120 805h5v1h-5zM1185 805h1v1h-1zM1199 805h2v1h-2zM1203 805h2v1h-2zM1231 805h2v1h-2zM1325 805h2v1h-2zM1352 805h1v1h-1zM1355 805h2v1h-2zM1363 805h2v1h-2zM1373 805h2v1h-2zM1381 805h1v1h-1zM1387 805h1v1h-1zM432 806h10v1h-10zM844 806h1v1h-1zM852 806h1v1h-1zM1117 806h3v1h-3zM1186 806h2v1h-2zM1197 806h2v1h-2zM1205 806h3v1h-3zM1229 806h2v1h-2zM1327 806h1v1h-1zM1351 806h1v1h-1zM1357 806h3v1h-3zM1362 806h1v1h-1zM1375 806h1v1h-1zM1379 806h2v1h-2zM1387 806h1v1h-1zM429 807h3v1h-3zM442 807h1v1h-1zM843 807h1v1h-1zM853 807h1v1h-1zM1115 807h2v1h-2zM1188 807h2v1h-2zM1196 807h1v1h-1zM1208 807h11v1h-11zM1228 807h1v1h-1zM1328 807h1v1h-1zM1350 807h1v1h-1zM1360 807h2v1h-2zM1376 807h1v1h-1zM1378 807h1v1h-1zM1388 807h1v1h-1zM427 808h2v1h-2zM443 808h1v1h-1zM843 808h1v1h-1zM854 808h1v1h-1zM1111 808h4v1h-4zM1190 808h2v1h-2zM1194 808h2v1h-2zM1219 808h4v1h-4zM1226 808h2v1h-2zM1329 808h1v1h-1zM1349 808h1v1h-1zM1377 808h1v1h-1zM1388 808h1v1h-1zM1401 808h1v1h-1zM353 809h2v1h-2zM424 809h3v1h-3zM444 809h1v1h-1zM842 809h1v1h-1zM854 809h1v1h-1zM1107 809h4v1h-4zM1192 809h2v1h-2zM1223 809h3v1h-3zM1330 809h2v1h-2zM1349 809h1v1h-1zM1389 809h1v1h-1zM1400 809h1v1h-1zM1402 809h2v1h-2zM353 810h1v1h-1zM355 810h4v1h-4zM373 810h5v1h-5zM422 810h2v1h-2zM445 810h1v1h-1zM841 810h1v1h-1zM855 810h1v1h-1zM864 810h3v1h-3zM1101 810h6v1h-6zM1332 810h2v1h-2zM1348 810h1v1h-1zM1389 810h1v1h-1zM1399 810h1v1h-1zM1404 810h2v1h-2zM352 811h1v1h-1zM359 811h14v1h-14zM378 811h1v1h-1zM420 811h2v1h-2zM446 811h1v1h-1zM456 811h2v1h-2zM839 811h2v1h-2zM855 811h1v1h-1zM862 811h2v1h-2zM867 811h2v1h-2zM1097 811h4v1h-4zM1334 811h2v1h-2zM1347 811h1v1h-1zM1390 811h1v1h-1zM1398 811h1v1h-1zM1406 811h2v1h-2zM352 812h1v1h-1zM379 812h1v1h-1zM418 812h2v1h-2zM447 812h1v1h-1zM453 812h3v1h-3zM458 812h2v1h-2zM838 812h1v1h-1zM856 812h1v1h-1zM860 812h2v1h-2zM869 812h3v1h-3zM953 812h1v1h-1zM1096 812h1v1h-1zM1336 812h5v1h-5zM1346 812h1v1h-1zM1390 812h1v1h-1zM1397 812h1v1h-1zM1408 812h2v1h-2zM351 813h1v1h-1zM379 813h1v1h-1zM413 813h5v1h-5zM448 813h1v1h-1zM451 813h2v1h-2zM460 813h1v1h-1zM837 813h1v1h-1zM856 813h1v1h-1zM858 813h2v1h-2zM872 813h5v1h-5zM952 813h2v1h-2zM1096 813h1v1h-1zM1341 813h5v1h-5zM1391 813h1v1h-1zM1397 813h1v1h-1zM351 814h1v1h-1zM380 814h1v1h-1zM407 814h6v1h-6zM449 814h2v1h-2zM461 814h2v1h-2zM835 814h2v1h-2zM857 814h1v1h-1zM877 814h14v1h-14zM952 814h1v1h-1zM954 814h1v1h-1zM1095 814h1v1h-1zM1391 814h1v1h-1zM1396 814h1v1h-1zM350 815h1v1h-1zM381 815h1v1h-1zM403 815h4v1h-4zM463 815h2v1h-2zM479 815h3v1h-3zM834 815h1v1h-1zM891 815h2v1h-2zM951 815h1v1h-1zM954 815h1v1h-1zM1094 815h1v1h-1zM1392 815h1v1h-1zM1395 815h1v1h-1zM350 816h1v1h-1zM382 816h1v1h-1zM401 816h2v1h-2zM465 816h4v1h-4zM475 816h4v1h-4zM482 816h1v1h-1zM824 816h10v1h-10zM893 816h3v1h-3zM951 816h1v1h-1zM954 816h1v1h-1zM1094 816h1v1h-1zM1392 816h1v1h-1zM1394 816h1v1h-1zM349 817h1v1h-1zM383 817h1v1h-1zM400 817h1v1h-1zM469 817h6v1h-6zM482 817h1v1h-1zM822 817h2v1h-2zM896 817h5v1h-5zM950 817h1v1h-1zM954 817h1v1h-1zM1093 817h1v1h-1zM1393 817h1v1h-1zM349 818h1v1h-1zM383 818h1v1h-1zM399 818h1v1h-1zM483 818h1v1h-1zM820 818h2v1h-2zM901 818h6v1h-6zM950 818h1v1h-1zM955 818h1v1h-1zM1092 818h1v1h-1zM348 819h1v1h-1zM384 819h1v1h-1zM397 819h2v1h-2zM483 819h1v1h-1zM818 819h2v1h-2zM907 819h4v1h-4zM949 819h1v1h-1zM955 819h1v1h-1zM1092 819h1v1h-1zM348 820h1v1h-1zM385 820h2v1h-2zM396 820h1v1h-1zM484 820h1v1h-1zM816 820h2v1h-2zM911 820h3v1h-3zM949 820h1v1h-1zM955 820h1v1h-1zM1091 820h1v1h-1zM347 821h1v1h-1zM387 821h2v1h-2zM395 821h1v1h-1zM485 821h1v1h-1zM753 821h1v1h-1zM813 821h3v1h-3zM914 821h1v1h-1zM948 821h1v1h-1zM956 821h1v1h-1zM1090 821h1v1h-1zM347 822h1v1h-1zM389 822h3v1h-3zM394 822h1v1h-1zM485 822h1v1h-1zM752 822h1v1h-1zM754 822h1v1h-1zM811 822h2v1h-2zM914 822h1v1h-1zM948 822h1v1h-1zM956 822h1v1h-1zM1090 822h1v1h-1zM337 823h2v1h-2zM346 823h1v1h-1zM392 823h2v1h-2zM486 823h1v1h-1zM752 823h1v1h-1zM755 823h1v1h-1zM809 823h2v1h-2zM915 823h1v1h-1zM929 823h2v1h-2zM947 823h1v1h-1zM956 823h1v1h-1zM1089 823h1v1h-1zM336 824h1v1h-1zM339 824h4v1h-4zM346 824h1v1h-1zM487 824h1v1h-1zM751 824h1v1h-1zM756 824h1v1h-1zM809 824h1v1h-1zM916 824h1v1h-1zM928 824h1v1h-1zM931 824h2v1h-2zM947 824h1v1h-1zM957 824h1v1h-1zM1088 824h1v1h-1zM335 825h1v1h-1zM343 825h3v1h-3zM487 825h1v1h-1zM751 825h1v1h-1zM757 825h1v1h-1zM808 825h1v1h-1zM916 825h1v1h-1zM927 825h1v1h-1zM933 825h3v1h-3zM946 825h1v1h-1zM957 825h1v1h-1zM1087 825h1v1h-1zM333 826h2v1h-2zM488 826h1v1h-1zM750 826h1v1h-1zM758 826h1v1h-1zM808 826h1v1h-1zM917 826h1v1h-1zM926 826h1v1h-1zM936 826h5v1h-5zM946 826h1v1h-1zM957 826h1v1h-1zM1085 826h2v1h-2zM332 827h1v1h-1zM488 827h1v1h-1zM750 827h1v1h-1zM759 827h1v1h-1zM807 827h1v1h-1zM918 827h1v1h-1zM925 827h1v1h-1zM941 827h5v1h-5zM957 827h1v1h-1zM1084 827h1v1h-1zM331 828h1v1h-1zM489 828h2v1h-2zM749 828h1v1h-1zM760 828h1v1h-1zM807 828h1v1h-1zM918 828h1v1h-1zM925 828h1v1h-1zM958 828h1v1h-1zM1083 828h1v1h-1zM330 829h1v1h-1zM491 829h4v1h-4zM585 829h1v1h-1zM749 829h1v1h-1zM761 829h4v1h-4zM806 829h1v1h-1zM919 829h1v1h-1zM924 829h1v1h-1zM958 829h1v1h-1zM1082 829h1v1h-1zM327 830h3v1h-3zM495 830h3v1h-3zM584 830h1v1h-1zM586 830h1v1h-1zM671 830h3v1h-3zM748 830h1v1h-1zM765 830h5v1h-5zM806 830h1v1h-1zM920 830h1v1h-1zM923 830h1v1h-1zM958 830h1v1h-1zM1080 830h2v1h-2zM305 831h1v1h-1zM323 831h4v1h-4zM497 831h1v1h-1zM583 831h1v1h-1zM587 831h1v1h-1zM667 831h4v1h-4zM674 831h1v1h-1zM748 831h1v1h-1zM770 831h2v1h-2zM806 831h1v1h-1zM920 831h1v1h-1zM922 831h1v1h-1zM959 831h1v1h-1zM1077 831h3v1h-3zM305 832h3v1h-3zM320 832h3v1h-3zM498 832h1v1h-1zM582 832h1v1h-1zM587 832h1v1h-1zM664 832h3v1h-3zM675 832h1v1h-1zM747 832h1v1h-1zM772 832h2v1h-2zM805 832h1v1h-1zM921 832h1v1h-1zM959 832h1v1h-1zM1075 832h2v1h-2zM304 833h1v1h-1zM308 833h1v1h-1zM318 833h2v1h-2zM498 833h1v1h-1zM581 833h1v1h-1zM588 833h1v1h-1zM661 833h3v1h-3zM675 833h1v1h-1zM747 833h1v1h-1zM774 833h2v1h-2zM805 833h1v1h-1zM959 833h1v1h-1zM1072 833h3v1h-3zM304 834h1v1h-1zM309 834h2v1h-2zM316 834h2v1h-2zM498 834h1v1h-1zM581 834h1v1h-1zM589 834h1v1h-1zM659 834h2v1h-2zM676 834h1v1h-1zM746 834h1v1h-1zM776 834h2v1h-2zM804 834h1v1h-1zM960 834h1v1h-1zM1070 834h2v1h-2zM303 835h1v1h-1zM311 835h2v1h-2zM314 835h2v1h-2zM499 835h1v1h-1zM580 835h1v1h-1zM590 835h1v1h-1zM657 835h2v1h-2zM677 835h1v1h-1zM746 835h1v1h-1zM778 835h1v1h-1zM804 835h1v1h-1zM960 835h1v1h-1zM1068 835h2v1h-2zM303 836h1v1h-1zM313 836h1v1h-1zM499 836h1v1h-1zM579 836h1v1h-1zM591 836h1v1h-1zM656 836h1v1h-1zM678 836h1v1h-1zM745 836h1v1h-1zM779 836h1v1h-1zM804 836h1v1h-1zM960 836h1v1h-1zM1000 836h2v1h-2zM1066 836h2v1h-2zM302 837h1v1h-1zM499 837h1v1h-1zM578 837h1v1h-1zM591 837h1v1h-1zM656 837h1v1h-1zM679 837h1v1h-1zM744 837h1v1h-1zM779 837h1v1h-1zM803 837h1v1h-1zM960 837h1v1h-1zM997 837h3v1h-3zM1002 837h1v1h-1zM1064 837h2v1h-2zM71 838h3v1h-3zM136 838h2v1h-2zM302 838h1v1h-1zM499 838h1v1h-1zM576 838h2v1h-2zM592 838h1v1h-1zM655 838h1v1h-1zM679 838h1v1h-1zM744 838h1v1h-1zM780 838h1v1h-1zM803 838h1v1h-1zM961 838h1v1h-1zM995 838h2v1h-2zM1003 838h1v1h-1zM1061 838h3v1h-3zM67 839h4v1h-4zM74 839h2v1h-2zM134 839h2v1h-2zM138 839h1v1h-1zM301 839h1v1h-1zM500 839h1v1h-1zM574 839h2v1h-2zM593 839h1v1h-1zM654 839h1v1h-1zM680 839h1v1h-1zM743 839h1v1h-1zM781 839h1v1h-1zM802 839h1v1h-1zM961 839h9v1h-9zM993 839h2v1h-2zM1004 839h1v1h-1zM1040 839h2v1h-2zM1059 839h2v1h-2zM65 840h2v1h-2zM76 840h1v1h-1zM88 840h2v1h-2zM132 840h2v1h-2zM139 840h1v1h-1zM301 840h1v1h-1zM500 840h1v1h-1zM572 840h2v1h-2zM593 840h1v1h-1zM653 840h1v1h-1zM681 840h17v1h-17zM743 840h1v1h-1zM782 840h1v1h-1zM802 840h1v1h-1zM970 840h1v1h-1zM991 840h2v1h-2zM1005 840h1v1h-1zM1037 840h3v1h-3zM1042 840h1v1h-1zM1057 840h2v1h-2zM64 841h1v1h-1zM77 841h2v1h-2zM85 841h3v1h-3zM90 841h2v1h-2zM130 841h2v1h-2zM140 841h1v1h-1zM300 841h1v1h-1zM500 841h1v1h-1zM570 841h2v1h-2zM594 841h1v1h-1zM653 841h1v1h-1zM698 841h1v1h-1zM742 841h1v1h-1zM783 841h1v1h-1zM801 841h1v1h-1zM971 841h1v1h-1zM990 841h1v1h-1zM1006 841h1v1h-1zM1035 841h2v1h-2zM1042 841h1v1h-1zM1056 841h1v1h-1zM64 842h1v1h-1zM79 842h2v1h-2zM83 842h2v1h-2zM92 842h2v1h-2zM128 842h2v1h-2zM141 842h1v1h-1zM300 842h1v1h-1zM501 842h1v1h-1zM569 842h1v1h-1zM594 842h1v1h-1zM652 842h1v1h-1zM699 842h1v1h-1zM742 842h1v1h-1zM783 842h1v1h-1zM800 842h2v1h-2zM972 842h1v1h-1zM989 842h1v1h-1zM1007 842h1v1h-1zM1031 842h4v1h-4zM1043 842h1v1h-1zM1055 842h1v1h-1zM63 843h1v1h-1zM81 843h2v1h-2zM94 843h2v1h-2zM126 843h2v1h-2zM141 843h1v1h-1zM299 843h1v1h-1zM501 843h1v1h-1zM568 843h1v1h-1zM594 843h1v1h-1zM651 843h1v1h-1zM699 843h1v1h-1zM741 843h1v1h-1zM784 843h1v1h-1zM798 843h2v1h-2zM973 843h1v1h-1zM987 843h2v1h-2zM1008 843h1v1h-1zM1027 843h4v1h-4zM1044 843h1v1h-1zM1055 843h1v1h-1zM0 844h2v1h-2zM63 844h1v1h-1zM96 844h2v1h-2zM113 844h2v1h-2zM124 844h2v1h-2zM142 844h1v1h-1zM299 844h1v1h-1zM501 844h1v1h-1zM536 844h3v1h-3zM552 844h2v1h-2zM567 844h1v1h-1zM595 844h1v1h-1zM650 844h1v1h-1zM700 844h1v1h-1zM741 844h1v1h-1zM785 844h2v1h-2zM796 844h2v1h-2zM974 844h1v1h-1zM986 844h1v1h-1zM1009 844h1v1h-1zM1024 844h3v1h-3zM1045 844h1v1h-1zM1054 844h1v1h-1zM2 845h1v1h-1zM62 845h1v1h-1zM98 845h1v1h-1zM112 845h1v1h-1zM115 845h4v1h-4zM122 845h2v1h-2zM143 845h1v1h-1zM241 845h1v1h-1zM298 845h1v1h-1zM502 845h1v1h-1zM533 845h3v1h-3zM539 845h2v1h-2zM549 845h3v1h-3zM554 845h1v1h-1zM566 845h1v1h-1zM595 845h1v1h-1zM650 845h1v1h-1zM701 845h1v1h-1zM740 845h1v1h-1zM787 845h4v1h-4zM794 845h2v1h-2zM975 845h1v1h-1zM983 845h3v1h-3zM1010 845h2v1h-2zM1022 845h2v1h-2zM1045 845h1v1h-1zM1053 845h1v1h-1zM3 846h1v1h-1zM62 846h1v1h-1zM98 846h1v1h-1zM112 846h1v1h-1zM119 846h3v1h-3zM144 846h1v1h-1zM240 846h1v1h-1zM242 846h1v1h-1zM298 846h1v1h-1zM502 846h1v1h-1zM531 846h2v1h-2zM541 846h3v1h-3zM547 846h2v1h-2zM555 846h2v1h-2zM565 846h1v1h-1zM595 846h1v1h-1zM649 846h1v1h-1zM702 846h1v1h-1zM740 846h1v1h-1zM791 846h3v1h-3zM976 846h1v1h-1zM979 846h4v1h-4zM1012 846h2v1h-2zM1020 846h2v1h-2zM1046 846h1v1h-1zM1052 846h1v1h-1zM4 847h1v1h-1zM61 847h1v1h-1zM99 847h1v1h-1zM111 847h1v1h-1zM145 847h1v1h-1zM240 847h1v1h-1zM243 847h2v1h-2zM297 847h1v1h-1zM502 847h1v1h-1zM528 847h3v1h-3zM544 847h3v1h-3zM557 847h1v1h-1zM564 847h1v1h-1zM596 847h1v1h-1zM647 847h2v1h-2zM703 847h1v1h-1zM725 847h5v1h-5zM739 847h1v1h-1zM977 847h2v1h-2zM1014 847h2v1h-2zM1018 847h2v1h-2zM1047 847h1v1h-1zM1051 847h1v1h-1zM5 848h1v1h-1zM60 848h1v1h-1zM100 848h1v1h-1zM110 848h1v1h-1zM146 848h1v1h-1zM239 848h1v1h-1zM245 848h1v1h-1zM296 848h2v1h-2zM503 848h1v1h-1zM526 848h2v1h-2zM558 848h1v1h-1zM563 848h1v1h-1zM596 848h1v1h-1zM646 848h1v1h-1zM703 848h1v1h-1zM717 848h8v1h-8zM730 848h2v1h-2zM739 848h1v1h-1zM1016 848h2v1h-2zM1048 848h1v1h-1zM1051 848h1v1h-1zM5 849h1v1h-1zM60 849h1v1h-1zM100 849h1v1h-1zM110 849h1v1h-1zM147 849h1v1h-1zM238 849h1v1h-1zM246 849h1v1h-1zM294 849h2v1h-2zM503 849h1v1h-1zM524 849h2v1h-2zM559 849h2v1h-2zM562 849h1v1h-1zM596 849h1v1h-1zM645 849h1v1h-1zM704 849h1v1h-1zM709 849h8v1h-8zM732 849h2v1h-2zM738 849h1v1h-1zM1048 849h1v1h-1zM1050 849h1v1h-1zM6 850h1v1h-1zM59 850h1v1h-1zM101 850h1v1h-1zM109 850h1v1h-1zM148 850h1v1h-1zM237 850h1v1h-1zM247 850h2v1h-2zM292 850h2v1h-2zM503 850h1v1h-1zM522 850h2v1h-2zM561 850h1v1h-1zM597 850h1v1h-1zM643 850h2v1h-2zM705 850h4v1h-4zM734 850h2v1h-2zM738 850h1v1h-1zM1049 850h1v1h-1zM7 851h1v1h-1zM59 851h1v1h-1zM102 851h1v1h-1zM108 851h1v1h-1zM149 851h1v1h-1zM237 851h1v1h-1zM249 851h1v1h-1zM290 851h2v1h-2zM503 851h1v1h-1zM521 851h1v1h-1zM597 851h1v1h-1zM642 851h1v1h-1zM736 851h2v1h-2zM8 852h1v1h-1zM58 852h1v1h-1zM102 852h1v1h-1zM108 852h1v1h-1zM149 852h1v1h-1zM236 852h1v1h-1zM250 852h1v1h-1zM289 852h1v1h-1zM504 852h1v1h-1zM520 852h1v1h-1zM597 852h1v1h-1zM641 852h1v1h-1zM9 853h1v1h-1zM58 853h1v1h-1zM103 853h1v1h-1zM107 853h1v1h-1zM150 853h1v1h-1zM235 853h1v1h-1zM251 853h2v1h-2zM288 853h1v1h-1zM504 853h1v1h-1zM519 853h1v1h-1zM598 853h1v1h-1zM641 853h1v1h-1zM10 854h1v1h-1zM57 854h1v1h-1zM104 854h1v1h-1zM106 854h1v1h-1zM151 854h1v1h-1zM234 854h1v1h-1zM253 854h1v1h-1zM287 854h1v1h-1zM504 854h1v1h-1zM519 854h1v1h-1zM598 854h1v1h-1zM640 854h1v1h-1zM11 855h1v1h-1zM56 855h1v1h-1zM104 855h1v1h-1zM106 855h1v1h-1zM152 855h1v1h-1zM157 855h6v1h-6zM234 855h1v1h-1zM254 855h1v1h-1zM285 855h2v1h-2zM505 855h1v1h-1zM518 855h1v1h-1zM598 855h1v1h-1zM640 855h1v1h-1zM12 856h1v1h-1zM56 856h1v1h-1zM105 856h1v1h-1zM153 856h4v1h-4zM163 856h4v1h-4zM233 856h1v1h-1zM255 856h2v1h-2zM284 856h1v1h-1zM505 856h1v1h-1zM517 856h1v1h-1zM599 856h1v1h-1zM640 856h1v1h-1zM13 857h2v1h-2zM55 857h1v1h-1zM167 857h4v1h-4zM233 857h1v1h-1zM257 857h1v1h-1zM283 857h1v1h-1zM506 857h2v1h-2zM516 857h1v1h-1zM599 857h1v1h-1zM639 857h1v1h-1zM15 858h1v1h-1zM55 858h1v1h-1zM171 858h2v1h-2zM232 858h1v1h-1zM258 858h1v1h-1zM282 858h1v1h-1zM508 858h1v1h-1zM515 858h1v1h-1zM599 858h1v1h-1zM639 858h1v1h-1zM16 859h1v1h-1zM54 859h1v1h-1zM173 859h3v1h-3zM232 859h1v1h-1zM259 859h1v1h-1zM281 859h1v1h-1zM509 859h2v1h-2zM515 859h1v1h-1zM600 859h1v1h-1zM638 859h1v1h-1zM17 860h1v1h-1zM54 860h1v1h-1zM176 860h2v1h-2zM231 860h1v1h-1zM259 860h1v1h-1zM280 860h1v1h-1zM511 860h2v1h-2zM514 860h1v1h-1zM600 860h1v1h-1zM638 860h1v1h-1zM18 861h2v1h-2zM53 861h1v1h-1zM178 861h1v1h-1zM231 861h1v1h-1zM260 861h1v1h-1zM279 861h1v1h-1zM513 861h1v1h-1zM600 861h1v1h-1zM638 861h1v1h-1zM20 862h1v1h-1zM52 862h1v1h-1zM178 862h1v1h-1zM230 862h1v1h-1zM261 862h1v1h-1zM279 862h1v1h-1zM601 862h1v1h-1zM637 862h1v1h-1zM21 863h2v1h-2zM52 863h1v1h-1zM179 863h1v1h-1zM230 863h1v1h-1zM262 863h1v1h-1zM278 863h1v1h-1zM601 863h1v1h-1zM637 863h1v1h-1zM23 864h2v1h-2zM29 864h6v1h-6zM51 864h1v1h-1zM179 864h1v1h-1zM230 864h1v1h-1zM263 864h1v1h-1zM277 864h1v1h-1zM602 864h1v1h-1zM637 864h1v1h-1zM25 865h4v1h-4zM35 865h4v1h-4zM51 865h1v1h-1zM180 865h1v1h-1zM229 865h1v1h-1zM263 865h1v1h-1zM276 865h1v1h-1zM603 865h1v1h-1zM636 865h1v1h-1zM39 866h4v1h-4zM50 866h1v1h-1zM180 866h1v1h-1zM229 866h1v1h-1zM264 866h1v1h-1zM275 866h1v1h-1zM604 866h1v1h-1zM616 866h2v1h-2zM636 866h1v1h-1zM43 867h4v1h-4zM50 867h1v1h-1zM181 867h1v1h-1zM228 867h1v1h-1zM265 867h2v1h-2zM275 867h1v1h-1zM605 867h2v1h-2zM614 867h2v1h-2zM618 867h1v1h-1zM636 867h1v1h-1zM47 868h3v1h-3zM182 868h1v1h-1zM228 868h1v1h-1zM267 868h4v1h-4zM274 868h1v1h-1zM607 868h1v1h-1zM612 868h2v1h-2zM619 868h1v1h-1zM635 868h1v1h-1zM182 869h1v1h-1zM228 869h1v1h-1zM271 869h3v1h-3zM608 869h1v1h-1zM610 869h2v1h-2zM620 869h1v1h-1zM635 869h1v1h-1zM183 870h1v1h-1zM227 870h1v1h-1zM609 870h1v1h-1zM621 870h1v1h-1zM634 870h1v1h-1zM183 871h1v1h-1zM227 871h1v1h-1zM622 871h1v1h-1zM634 871h1v1h-1zM184 872h1v1h-1zM226 872h1v1h-1zM623 872h1v1h-1zM634 872h1v1h-1zM184 873h1v1h-1zM226 873h1v1h-1zM624 873h1v1h-1zM633 873h1v1h-1zM185 874h1v1h-1zM225 874h1v1h-1zM625 874h9v1h-9zM186 875h1v1h-1zM225 875h1v1h-1zM187 876h2v1h-2zM224 876h1v1h-1zM189 877h1v1h-1zM223 877h1v1h-1zM190 878h1v1h-1zM223 878h1v1h-1zM191 879h2v1h-2zM222 879h1v1h-1zM193 880h1v1h-1zM221 880h1v1h-1zM194 881h2v1h-2zM220 881h1v1h-1zM196 882h1v1h-1zM219 882h1v1h-1zM197 883h2v1h-2zM219 883h1v1h-1zM199 884h2v1h-2zM218 884h1v1h-1zM201 885h17v1h-17z" fill="#1e90ff"/>
<rect x="0" y="20" width="1653" height="1" fill="#000"/>
<rect x="1652" y="20" width="1" height="568" fill="#000"/>
<rect x="0" y="587" width="1653" height="1" fill="#000"/>
<rect x="0" y="589" width="1653" height="1" fill="#000"/>
<rect x="1652" y="589" width="1" height="157" fill="#000"/>
<rect x="0" y="745" width="1653" height="1" fill="#000"/>
<rect x="0" y="747" width="1653" height="1" fill="#000"/>
<rect x="1652" y="747" width="1" height="175" fill="#000"/>
<rect x="0" y="921" width="1653" height="1" fill="#000"/>
<rect x="1698" y="17" width="1" height="921" fill="#e2e2e2"/>
<rect x="1653" y="24" width="2" height="1" fill="#000"/>
<text x="1657.5" y="28.6" font-size="11" fill="#000" font-weight="normal" font-family="Liberation Sans" textLength="32.5" lengthAdjust="spacingAndGlyphs" xml:space="preserve" style="white-space:pre">35740.0</text>
<rect x="1653" y="56" width="2" height="1" fill="#000"/>
<text x="1657.5" y="60.6" font-size="11" fill="#000" font-weight="normal" font-family="Liberation Sans" textLength="32.5" lengthAdjust="spacingAndGlyphs" xml:space="preserve" style="white-space:pre">35604.0</text>
<rect x="1653" y="89" width="2" height="1" fill="#000"/>
<text x="1657.5" y="93.6" font-size="11" fill="#000" font-weight="normal" font-family="Liberation Sans" textLength="32.5" lengthAdjust="spacingAndGlyphs" xml:space="preserve" style="white-space:pre">35464.0</text>
<rect x="1653" y="122" width="2" height="1" fill="#000"/>
<text x="1657.5" y="126.6" font-size="11" fill="#000" font-weight="normal" font-family="Liberation Sans" textLength="32.5" lengthAdjust="spacingAndGlyphs" xml:space="preserve" style="white-space:pre">35324.0</text>
<rect x="1653" y="155" width="2" height="1" fill="#000"/>
<text x="1657.5" y="159.6" font-size="11" fill="#000" font-weight="normal" font-family="Liberation Sans" textLength="32.5" lengthAdjust="spacingAndGlyphs" xml:space="preserve" style="white-space:pre">35180.0</text>
<rect x="1653" y="188" width="2" height="1" fill="#000"/>
<text x="1657.5" y="192.6" font-size="11" fill="#000" font-weight="normal" font-family="Liberation Sans" textLength="32.5" lengthAdjust="spacingAndGlyphs" xml:space="preserve" style="white-space:pre">35040.0</text>
<rect x="1653" y="221" width="2" height="1" fill="#000"/>
<text x="1657.5" y="225.6" font-size="11" fill="#000" font-weight="normal" font-family="Liberation Sans" textLength="32.5" lengthAdjust="spacingAndGlyphs" xml:space="preserve" style="white-space:pre">34900.0</text>
<rect x="1653" y="254" width="2" height="1" fill="#000"/>
<text x="1657.5" y="258.6" font-size="11" fill="#000" font-weight="normal" font-family="Liberation Sans" textLength="32.5" lengthAdjust="spacingAndGlyphs" xml:space="preserve" style="white-space:pre">34756.0</text>
<rect x="1653" y="287" width="2" height="1" fill="#000"/>
<text x="1657.5" y="291.6" font-size="11" fill="#000" font-weight="normal" font-family="Liberation Sans" textLength="32.5" lengthAdjust="spacingAndGlyphs" xml:space="preserve" style="white-space:pre">34616.0</text>
<rect x="1653" y="319" width="2" height="1" fill="#000"/>
<text x="1657.5" y="323.6" font-size="11" fill="#000" font-weight="normal" font-family="Liberation Sans" textLength="32.5" lengthAdjust="spacingAndGlyphs" xml:space="preserve" style="white-space:pre">34476.0</text>
<rect x="1653" y="353" width="2" height="1" fill="#000"/>
<text x="1657.5" y="357.6" font-size="11" fill="#000" font-weight="normal" font-family="Liberation Sans" textLength="32.5" lengthAdjust="spacingAndGlyphs" xml:space="preserve" style="white-space:pre">34332.0</text>
<rect x="1653" y="386" width="2" height="1" fill="#000"/>
<text x="1657.5" y="390.6" font-size="11" fill="#000" font-weight="normal" font-family="Liberation Sans" textLength="32.5" lengthAdjust="spacingAndGlyphs" xml:space="preserve" style="white-space:pre">34192.0</text>
<rect x="1653" y="419" width="2" height="1" fill="#000"/>
<text x="1657.5" y="423.6" font-size="11" fill="#000" font-weight="normal" font-family="Liberation Sans" textLength="32.5" lengthAdjust="spacingAndGlyphs" xml:space="preserve" style="white-space:pre">34048.0</text>
<rect x="1653" y="452" width="2" height="1" fill="#000"/>
<text x="1657.5" y="456.6" font-size="11" fill="#000" font-weight="normal" font-family="Liberation Sans" textLength="32.5" lengthAdjust="spacingAndGlyphs" xml:space="preserve" style="white-space:pre">33908.0</text>
<rect x="1653" y="485" width="2" height="1" fill="#000"/>
<text x="1657.5" y="489.6" font-size="11" fill="#000" font-weight="normal" font-family="Liberation Sans" textLength="32.5" lengthAdjust="spacingAndGlyphs" xml:space="preserve" style="white-space:pre">33768.0</text>
<rect x="1653" y="518" width="2" height="1" fill="#000"/>
<text x="1657.5" y="522.6" font-size="11" fill="#000" font-weight="normal" font-family="Liberation Sans" textLength="32.5" lengthAdjust="spacingAndGlyphs" xml:space="preserve" style="white-space:pre">33624.0</text>
<rect x="1653" y="551" width="2" height="1" fill="#000"/>
<text x="1657.5" y="555.6" font-size="11" fill="#000" font-weight="normal" font-family="Liberation Sans" textLength="32.5" lengthAdjust="spacingAndGlyphs" xml:space="preserve" style="white-space:pre">33484.0</text>
<rect x="1653" y="584" width="2" height="1" fill="#000"/>
<text x="1657.5" y="588.6" font-size="11" fill="#000" font-weight="normal" font-family="Liberation Sans" textLength="32.5" lengthAdjust="spacingAndGlyphs" xml:space="preserve" style="white-space:pre">33344.0</text>
<rect x="1653" y="591" width="2" height="1" fill="#000"/>
<rect x="1653" y="665" width="2" height="1" fill="#000"/>
<rect x="1653" y="744" width="2" height="1" fill="#000"/>
<text transform="translate(1656,600) scale(0.82,1)" font-size="11" fill="#000" font-weight="normal" text-anchor="start" font-family="Liberation Sans">230.56</text>
<text transform="translate(1656,669) scale(0.82,1)" font-size="11" fill="#000" font-weight="normal" text-anchor="start" font-family="Liberation Sans">0.00</text>
<text transform="translate(1656,742) scale(0.82,1)" font-size="11" fill="#000" font-weight="normal" text-anchor="start" font-family="Liberation Sans">-246.3</text>
<rect x="1653" y="749" width="2" height="1" fill="#000"/>
<rect x="1653" y="783" width="2" height="1" fill="#000"/>
<rect x="1653" y="834" width="2" height="1" fill="#000"/>
<rect x="1653" y="895" width="2" height="1" fill="#000"/>
<rect x="1653" y="920" width="2" height="1" fill="#000"/>
<text transform="translate(1656,758) scale(0.82,1)" font-size="11" fill="#000" font-weight="normal" text-anchor="start" font-family="Liberation Sans">100</text>
<text transform="translate(1656,787.5) scale(0.82,1)" font-size="11" fill="#000" font-weight="normal" text-anchor="start" font-family="Liberation Sans">80</text>
<text transform="translate(1656,838.5) scale(0.82,1)" font-size="11" fill="#000" font-weight="normal" text-anchor="start" font-family="Liberation Sans">50</text>
<text transform="translate(1656,899) scale(0.82,1)" font-size="11" fill="#000" font-weight="normal" text-anchor="start" font-family="Liberation Sans">15</text>
<text transform="translate(1656,918) scale(0.82,1)" font-size="11" fill="#000" font-weight="normal" text-anchor="start" font-family="Liberation Sans">0</text>
<rect x="-7" y="922" width="1" height="3" fill="#000"/>
<text transform="translate(-8,934.5) scale(0.83,1)" font-size="11" fill="#000" font-weight="normal" text-anchor="start" font-family="Liberation Sans">14 Sep 2021</text>
<rect x="57" y="922" width="1" height="3" fill="#000"/>
<text transform="translate(56,934.5) scale(0.83,1)" font-size="11" fill="#000" font-weight="normal" text-anchor="start" font-family="Liberation Sans">15 Sep 12:00</text>
<rect x="121" y="922" width="1" height="3" fill="#000"/>
<text transform="translate(120,934.5) scale(0.83,1)" font-size="11" fill="#000" font-weight="normal" text-anchor="start" font-family="Liberation Sans">16 Sep 20:00</text>
<rect x="185" y="922" width="1" height="3" fill="#000"/>
<text transform="translate(184,934.5) scale(0.83,1)" font-size="11" fill="#000" font-weight="normal" text-anchor="start" font-family="Liberation Sans">20 Sep 00:00</text>
<rect x="249" y="922" width="1" height="3" fill="#000"/>
<text transform="translate(248,934.5) scale(0.83,1)" font-size="11" fill="#000" font-weight="normal" text-anchor="start" font-family="Liberation Sans">21 Sep 08:00</text>
<rect x="313" y="922" width="1" height="3" fill="#000"/>
<text transform="translate(312,934.5) scale(0.83,1)" font-size="11" fill="#000" font-weight="normal" text-anchor="start" font-family="Liberation Sans">22 Sep 16:00</text>
<rect x="377" y="922" width="1" height="3" fill="#000"/>
<text transform="translate(376,934.5) scale(0.83,1)" font-size="11" fill="#000" font-weight="normal" text-anchor="start" font-family="Liberation Sans">24 Sep 00:00</text>
<rect x="441" y="922" width="1" height="3" fill="#000"/>
<text transform="translate(440,934.5) scale(0.83,1)" font-size="11" fill="#000" font-weight="normal" text-anchor="start" font-family="Liberation Sans">27 Sep 04:00</text>
<rect x="505" y="922" width="1" height="3" fill="#000"/>
<text transform="translate(504,934.5) scale(0.83,1)" font-size="11" fill="#000" font-weight="normal" text-anchor="start" font-family="Liberation Sans">28 Sep 12:00</text>
<rect x="569" y="922" width="1" height="3" fill="#000"/>
<text transform="translate(568,934.5) scale(0.83,1)" font-size="11" fill="#000" font-weight="normal" text-anchor="start" font-family="Liberation Sans">29 Sep 20:00</text>
<rect x="633" y="922" width="1" height="3" fill="#000"/>
<text transform="translate(632,934.5) scale(0.83,1)" font-size="11" fill="#000" font-weight="normal" text-anchor="start" font-family="Liberation Sans">1 Oct 04:00</text>
<rect x="697" y="922" width="1" height="3" fill="#000"/>
<text transform="translate(696,934.5) scale(0.83,1)" font-size="11" fill="#000" font-weight="normal" text-anchor="start" font-family="Liberation Sans">4 Oct 08:00</text>
<rect x="761" y="922" width="1" height="3" fill="#000"/>
<text transform="translate(760,934.5) scale(0.83,1)" font-size="11" fill="#000" font-weight="normal" text-anchor="start" font-family="Liberation Sans">5 Oct 16:00</text>
<rect x="825" y="922" width="1" height="3" fill="#000"/>
<text transform="translate(824,934.5) scale(0.83,1)" font-size="11" fill="#000" font-weight="normal" text-anchor="start" font-family="Liberation Sans">7 Oct 00:00</text>
<rect x="889" y="922" width="1" height="3" fill="#000"/>
<text transform="translate(888,934.5) scale(0.83,1)" font-size="11" fill="#000" font-weight="normal" text-anchor="start" font-family="Liberation Sans">8 Oct 08:00</text>
<rect x="953" y="922" width="1" height="3" fill="#000"/>
<text transform="translate(952,934.5) scale(0.83,1)" font-size="11" fill="#000" font-weight="normal" text-anchor="start" font-family="Liberation Sans">11 Oct 12:00</text>
<rect x="1017" y="922" width="1" height="3" fill="#000"/>
<text transform="translate(1016,934.5) scale(0.83,1)" font-size="11" fill="#000" font-weight="normal" text-anchor="start" font-family="Liberation Sans">12 Oct 20:00</text>
<rect x="1081" y="922" width="1" height="3" fill="#000"/>
<text transform="translate(1080,934.5) scale(0.83,1)" font-size="11" fill="#000" font-weight="normal" text-anchor="start" font-family="Liberation Sans">14 Oct 04:00</text>
<rect x="1145" y="922" width="1" height="3" fill="#000"/>
<text transform="translate(1144,934.5) scale(0.83,1)" font-size="11" fill="#000" font-weight="normal" text-anchor="start" font-family="Liberation Sans">15 Oct 12:00</text>
<rect x="1209" y="922" width="1" height="3" fill="#000"/>
<text transform="translate(1208,934.5) scale(0.83,1)" font-size="11" fill="#000" font-weight="normal" text-anchor="start" font-family="Liberation Sans">18 Oct 16:00</text>
<rect x="1273" y="922" width="1" height="3" fill="#000"/>
<text transform="translate(1272,934.5) scale(0.83,1)" font-size="11" fill="#000" font-weight="normal" text-anchor="start" font-family="Liberation Sans">20 Oct 00:00</text>
<rect x="1337" y="922" width="1" height="3" fill="#000"/>
<text transform="translate(1336,934.5) scale(0.83,1)" font-size="11" fill="#000" font-weight="normal" text-anchor="start" font-family="Liberation Sans">21 Oct 08:00</text>
<rect x="1401" y="922" width="1" height="3" fill="#000"/>
<text transform="translate(1400,934.5) scale(0.83,1)" font-size="11" fill="#000" font-weight="normal" text-anchor="start" font-family="Liberation Sans">22 Oct 16:00</text>
<text x="8.5" y="32.3" font-size="10" fill="#000" font-weight="normal" font-family="Liberation Sans" textLength="185.5" lengthAdjust="spacingAndGlyphs" xml:space="preserve" style="white-space:pre">DJ30-,H4  35551.0 35551.0 35523.0 35526.0</text>
<polygon points="0,28 3,31 0,31" fill="#000"/>
<text x="-0.5" y="602" font-size="11" fill="#000" font-weight="normal" font-family="Liberation Sans" textLength="125" lengthAdjust="spacingAndGlyphs" xml:space="preserve" style="white-space:pre">MACD(12,26,9) 119.98 130.56</text>
<text x="-2.5" y="760" font-size="11" fill="#000" font-weight="normal" font-family="Liberation Sans" textLength="67" lengthAdjust="spacingAndGlyphs" xml:space="preserve" style="white-space:pre">RSI(14) 62.9697</text>
<rect x="1654" y="22" width="41" height="11" fill="#ff0000"/>
<text x="1657.5" y="31.5" font-size="11" fill="#fff" font-weight="normal" font-family="Liberation Sans" textLength="33" lengthAdjust="spacingAndGlyphs" xml:space="preserve" style="white-space:pre">35724.0</text>
<rect x="1647" y="26" width="5" height="5" fill="#ff0000"/>
<rect x="1648" y="27" width="3" height="3" fill="#fff"/>
<rect x="1654" y="46" width="41" height="11" fill="#ff0000"/>
<text x="1657.5" y="55.5" font-size="11" fill="#fff" font-weight="normal" font-family="Liberation Sans" textLength="33" lengthAdjust="spacingAndGlyphs" xml:space="preserve" style="white-space:pre">35621.3</text>
<rect x="1647" y="50" width="5" height="5" fill="#ff0000"/>
<rect x="1648" y="51" width="3" height="3" fill="#fff"/>
<rect x="1654" y="70" width="41" height="11" fill="#000000"/>
<text x="1657.5" y="78.5" font-size="11" fill="#fff" font-weight="normal" font-family="Liberation Sans" textLength="33" lengthAdjust="spacingAndGlyphs" xml:space="preserve" style="white-space:pre">35526.0</text>
<rect x="1654" y="77" width="41" height="11" fill="#32cd32"/>
<text x="1657.5" y="86.5" font-size="11" fill="#fff" font-weight="normal" font-family="Liberation Sans" textLength="33" lengthAdjust="spacingAndGlyphs" xml:space="preserve" style="white-space:pre">35488.7</text>
<rect x="1647" y="81" width="5" height="5" fill="#32cd32"/>
<rect x="1648" y="82" width="3" height="3" fill="#fff"/>
<rect x="1654" y="97" width="41" height="11" fill="#0000ff"/>
<text x="1657.5" y="106.5" font-size="11" fill="#fff" font-weight="normal" font-family="Liberation Sans" textLength="33" lengthAdjust="spacingAndGlyphs" xml:space="preserve" style="white-space:pre">35403.1</text>
<rect x="1647" y="101" width="5" height="5" fill="#0000ff"/>
<rect x="1648" y="102" width="3" height="3" fill="#fff"/>
<rect x="1654" y="128" width="41" height="11" fill="#0000ff"/>
<text x="1657.5" y="137.5" font-size="11" fill="#fff" font-weight="normal" font-family="Liberation Sans" textLength="33" lengthAdjust="spacingAndGlyphs" xml:space="preserve" style="white-space:pre">35273.6</text>
<rect x="1647" y="132" width="5" height="5" fill="#0000ff"/>
<rect x="1648" y="133" width="3" height="3" fill="#fff"/>
<rect x="1308" y="81" width="172" height="8" fill="#00ff00"/>
<line x1="1197.5" y1="210.5" x2="1410" y2="72.5" stroke="#ff0000" stroke-width="3.6"/>
<polygon points="1406.5,68.5 1411,66 1419,65 1420.5,66.5 1417,71.5 1412.5,76 1406.5,75.5" fill="#ff0000"/>
<polygon points="1313,615 1410,616.2 1410,619.6 1313,618.4" fill="#ff0000"/>
<polygon points="1409,612.8 1420,618.2 1409,624" fill="#ff0000"/>
<polygon points="1290,802.8 1418,805.6 1418,809 1290,806.2" fill="#ff0000"/>
<polygon points="1416,802.4 1428,807.5 1416,812" fill="#ff0000"/>
<defs>
<linearGradient id="gTop" x1="0" y1="0" x2="0" y2="1"><stop offset="0" stop-color="#fa5353"/><stop offset="1" stop-color="#dc2a2a"/></linearGradient>
<linearGradient id="gBot" x1="0" y1="0" x2="0" y2="1"><stop offset="0" stop-color="#d82424"/><stop offset="1" stop-color="#ae0000"/></linearGradient>
<linearGradient id="gBtn" x1="0" y1="0" x2="0" y2="1"><stop offset="0" stop-color="#f2f2f2"/><stop offset="0.45" stop-color="#e6e6e6"/><stop offset="0.5" stop-color="#d6d6d6"/><stop offset="1" stop-color="#d0d0d0"/></linearGradient>
</defs>
<rect x="0" y="40" width="215" height="57" fill="#fff"/>
<rect x="0" y="40" width="48" height="25" fill="#c00000"/>
<rect x="0" y="41" width="47" height="23" fill="url(#gTop)"/>
<rect x="0" y="63" width="44" height="1" fill="#9a0000"/>
<rect x="0" y="64" width="44" height="1" fill="#f07070"/>
<rect x="163" y="40" width="52" height="25" fill="#c00000"/>
<rect x="164" y="41" width="50" height="23" fill="url(#gTop)"/>
<rect x="167" y="63" width="44" height="1" fill="#9a0000"/>
<rect x="167" y="64" width="44" height="1" fill="#f07070"/>
<rect x="0" y="64" width="105" height="33" fill="#c00000"/>
<rect x="0" y="65" width="104" height="31" fill="url(#gBot)"/>
<rect x="107" y="64" width="108" height="33" fill="#c00000"/>
<rect x="108" y="65" width="106" height="31" fill="url(#gBot)"/>
<rect x="163" y="64" width="52" height="2" fill="url(#gTop)"/>
<rect x="0" y="63" width="44" height="1" fill="#9a0000"/>
<rect x="0" y="64" width="44" height="1" fill="#f07070"/>
<rect x="167" y="63" width="44" height="1" fill="#9a0000"/>
<rect x="167" y="64" width="44" height="1" fill="#f07070"/>
<rect x="50" y="40" width="111" height="22" fill="#a8a8a8"/>
<rect x="51" y="41" width="109" height="20" fill="#fff"/>
<rect x="51" y="41" width="20" height="20" fill="url(#gBtn)"/>
<rect x="71" y="41" width="1" height="20" fill="#a8a8a8"/>
<rect x="140" y="41" width="20" height="20" fill="url(#gBtn)"/>
<rect x="139" y="41" width="1" height="20" fill="#a8a8a8"/>
<polygon points="58,49 63.5,49 60.75,52" fill="#4a5fc0"/>
<polygon points="147,52 152.5,52 149.75,49" fill="#4a5fc0"/>
<text transform="translate(112.5,55) scale(0.9,1)" font-size="12" fill="#000" font-weight="normal" text-anchor="start" font-family="Liberation Sans">1.00</text>
<text transform="translate(8,56) scale(0.93,1)" font-size="12" fill="#fff" font-weight="normal" text-anchor="start" font-family="Liberation Sans">SELL</text>
<text transform="translate(176.5,56) scale(0.93,1)" font-size="12" fill="#fff" font-weight="normal" text-anchor="start" font-family="Liberation Sans">BUY</text>
<text x="12.3" y="92" font-size="12" fill="#fff" font-weight="bold" font-family="Liberation Sans" textLength="34.5" lengthAdjust="spacingAndGlyphs" xml:space="preserve" style="white-space:pre">35524</text>
<circle cx="53.3" cy="89.8" r="2.2" fill="#fff" shape-rendering="auto"/>
<text transform="translate(58.5,92) scale(0.8,1)" font-size="34" fill="#fff" font-weight="normal" text-anchor="start" font-family="Liberation Sans">5</text>
<text x="122.3" y="92" font-size="12" fill="#fff" font-weight="bold" font-family="Liberation Sans" textLength="34.2" lengthAdjust="spacingAndGlyphs" xml:space="preserve" style="white-space:pre">35533</text>
<circle cx="164.3" cy="89.8" r="2.2" fill="#fff" shape-rendering="auto"/>
<text transform="translate(170,92) scale(0.8,1)" font-size="34" fill="#fff" font-weight="normal" text-anchor="start" font-family="Liberation Sans">5</text>
<defs><pattern id="chk" width="2" height="2" patternUnits="userSpaceOnUse"><rect width="2" height="2" fill="#f6f6f6"/><rect width="1" height="1" fill="#e4e4e4"/><rect x="1" y="1" width="1" height="1" fill="#e4e4e4"/></pattern><linearGradient id="gold" x1="0" y1="0" x2="0" y2="1"><stop offset="0" stop-color="#f4d050"/><stop offset="1" stop-color="#c08418"/></linearGradient></defs>
<g shape-rendering="auto">
<circle cx="-1" cy="4" r="3" fill="#d8e8f8" stroke="#3a70c8" stroke-width="1"/><line x1="1.5" y1="7.5" x2="5" y2="12" stroke="#c8a020" stroke-width="2.2"/>
</g>
<rect x="13" y="0" width="1" height="14" fill="#a0a0a0"/>
<rect x="14" y="0" width="1" height="14" fill="#ffffff"/>
<rect x="23.5" y="-2.5" width="11" height="12" fill="#fff" stroke="#7a7a7a" stroke-width="1"/>
<rect x="25" y="2" width="6" height="1" fill="#9a9a9a"/>
<rect x="25" y="4" width="4" height="1" fill="#9a9a9a"/>
<path d="M27.5,6.3999999999999995h3.6v-3.7h3.8v3.7h3.6v3.7h-3.6v3.7h-3.8v-3.7h-3.6z" fill="#22c822" stroke="#128a12" stroke-width="0.8" shape-rendering="auto"/>
<g stroke="#111" stroke-width="1.1" fill="none">
<line x1="42.5" y1="1.5" x2="47.5" y2="1.5"/>
<line x1="42.5" y1="3.5" x2="47.5" y2="3.5"/>
<line x1="45.5" y1="0.5" x2="45.5" y2="7.5"/>
<line x1="42.5" y1="7.5" x2="44.5" y2="5.5"/>
<line x1="47.5" y1="5.5" x2="48.5" y2="7.5"/>
<line x1="43.5" y1="7.5" x2="45.5" y2="7.5"/>
<line x1="49.5" y1="1.5" x2="56.5" y2="1.5"/>
<line x1="51.5" y1="1.5" x2="51.5" y2="7.5"/>
<line x1="56.5" y1="1.5" x2="56.5" y2="7.5"/>
<line x1="52.5" y1="4.5" x2="55.5" y2="4.5"/>
<line x1="57.5" y1="4.5" x2="58.5" y2="6.5"/>
<line x1="62.5" y1="0.5" x2="62.5" y2="7.5"/>
<line x1="59.5" y1="7.5" x2="62.5" y2="7.5"/>
<line x1="67.5" y1="1.5" x2="76.5" y2="1.5"/>
<line x1="68.5" y1="3.5" x2="76.5" y2="3.5"/>
<line x1="66.5" y1="5.5" x2="78.5" y2="5.5"/>
<line x1="71.5" y1="0.5" x2="71.5" y2="7.5"/>
<line x1="67.5" y1="0.5" x2="67.5" y2="3.5"/>
<line x1="76.5" y1="0.5" x2="76.5" y2="3.5"/>
<line x1="195.5" y1="0.5" x2="195.5" y2="7.5"/>
<line x1="204.5" y1="0.5" x2="204.5" y2="7.5"/>
<line x1="195.5" y1="0.5" x2="204.5" y2="0.5"/>
<line x1="195.5" y1="3.5" x2="204.5" y2="3.5"/>
<line x1="195.5" y1="6.5" x2="204.5" y2="6.5"/>
<line x1="206.5" y1="1.5" x2="211.5" y2="1.5"/>
<line x1="207.5" y1="3.5" x2="206.5" y2="6.5"/>
<line x1="206.5" y1="6.5" x2="211.5" y2="6.5"/>
<line x1="210.5" y1="4.5" x2="211.5" y2="6.5"/>
<line x1="212.5" y1="1.5" x2="216.5" y2="1.5"/>
<line x1="216.5" y1="1.5" x2="216.5" y2="7.5"/>
<line x1="214.5" y1="1.5" x2="212.5" y2="7.5"/>
<line x1="215.5" y1="7.5" x2="216.5" y2="7.5"/>
<line x1="219.5" y1="1.5" x2="229.5" y2="1.5"/>
<line x1="221.5" y1="2.5" x2="219.5" y2="4.5"/>
<line x1="226.5" y1="2.5" x2="228.5" y2="4.5"/>
<line x1="220.5" y1="4.5" x2="228.5" y2="8.5"/>
<line x1="228.5" y1="4.5" x2="220.5" y2="8.5"/>
<line x1="231.5" y1="0.5" x2="239.5" y2="0.5"/>
<line x1="231.5" y1="1.5" x2="239.5" y2="1.5"/>
<line x1="230.5" y1="4.5" x2="240.5" y2="4.5"/>
<line x1="231.5" y1="8.5" x2="234.5" y2="4.5"/>
<line x1="234.5" y1="8.5" x2="237.5" y2="4.5"/>
<line x1="240.5" y1="4.5" x2="240.5" y2="7.5"/>
<line x1="238.5" y1="8.5" x2="240.5" y2="8.5"/>
</g>
<g shape-rendering="auto">
<polygon points="90,6.5 94,0 101,0 105.5,5.5 104.5,8.5 97.5,12 91,8.8" fill="url(#gold)" stroke="#a06c10" stroke-width="0.8"/>
<path d="M92,8.5 L97.5,11 L104.5,7.5" fill="none" stroke="#fff3c0" stroke-width="0.8"/>
<rect x="120.5" y="-1" width="9.5" height="6" fill="#2a8ae8" stroke="#1a60c0" stroke-width="0.6"/><rect x="123" y="0" width="4" height="4" fill="#bfe0ff"/>
<path d="M118.5,11.5 q-1,-4 3,-4.5 q2,-4 7,-2.5 q4,-1 4.5,3 q2,1 1,4 z" fill="#eef3fb" stroke="#6a8cc8" stroke-width="0.9"/>
<circle cx="154" cy="4" r="7.3" fill="none" stroke="#8ab0e8" stroke-width="0.9"/><circle cx="154" cy="4" r="5" fill="none" stroke="#5a90d8" stroke-width="0.9"/><circle cx="154" cy="4" r="2.6" fill="none" stroke="#3a70c8" stroke-width="0.9"/>
<path d="M157,11 a7.3,7.3 0 0 0 4.3,-6" fill="none" stroke="#5ab05a" stroke-width="1.8"/><circle cx="154" cy="3.7" r="1.3" fill="#2a50c8"/><rect x="153.6" y="4" width="1.4" height="7.5" fill="#22aa22"/>
<path d="M173.5,0 h14.5 v4 l-3,5 l-5,2.5 l-6.5,-5 z" fill="url(#gold)" stroke="#a08010" stroke-width="0.6"/><ellipse cx="180.5" cy="0.5" rx="7" ry="2.5" fill="#4aa0e0"/>
<circle cx="185.3" cy="8.3" r="4" fill="#d82018"/><rect x="183.6" y="6.6" width="3.4" height="3.4" fill="#fff"/>
</g>
<rect x="249" y="0" width="1" height="14" fill="#a0a0a0"/>
<rect x="250" y="0" width="1" height="14" fill="#ffffff"/>
<rect x="253" y="1" width="3" height="1" fill="#a0a0a0"/>
<rect x="253" y="3" width="3" height="1" fill="#a0a0a0"/>
<rect x="253" y="5" width="3" height="1" fill="#a0a0a0"/>
<rect x="253" y="7" width="3" height="1" fill="#a0a0a0"/>
<rect x="253" y="9" width="3" height="1" fill="#a0a0a0"/>
<rect x="253" y="11" width="3" height="1" fill="#a0a0a0"/>
<rect x="253" y="13" width="3" height="1" fill="#a0a0a0"/>
<rect x="267" y="0" width="1" height="12" fill="#4a4a4a"/>
<rect x="265" y="9" width="13" height="1" fill="#4a4a4a"/>
<polygon points="276,7 279,9.5 276,12" fill="#4a4a4a"/>
<path d="M271,6.5 h2.5 v-6 h2.5" fill="none" stroke="#0e9a0e" stroke-width="1.3"/>
<rect x="287" y="0" width="1" height="14" fill="#a0a0a0"/>
<rect x="288" y="0" width="1" height="14" fill="#ffffff"/>
<rect x="288" y="0" width="24" height="14" fill="url(#chk)"/>
<rect x="295" y="0" width="1" height="12" fill="#4a4a4a"/>
<rect x="293" y="9" width="13" height="1" fill="#4a4a4a"/>
<polygon points="304,7 307,9.5 304,12" fill="#4a4a4a"/>
<rect x="299" y="0" width="5" height="6" fill="#22c822"/>
<rect x="299" y="0" width="1" height="6" fill="#128a12"/>
<rect x="303" y="0" width="1" height="6" fill="#128a12"/>
<rect x="299" y="5" width="5" height="1" fill="#128a12"/>
<rect x="301" y="6" width="1" height="2" fill="#128a12"/>
<rect x="323" y="0" width="1" height="12" fill="#4a4a4a"/>
<rect x="321" y="9" width="13" height="1" fill="#4a4a4a"/>
<polygon points="332,7 335,9.5 332,12" fill="#4a4a4a"/>
<path d="M322,6.5 Q328,-3 334,5" fill="none" stroke="#1a9a1a" stroke-width="1.1" shape-rendering="auto"/>
<rect x="344" y="0" width="1" height="14" fill="#a0a0a0"/>
<rect x="345" y="0" width="1" height="14" fill="#ffffff"/>
<g shape-rendering="auto">
<line x1="363" y1="7.5" x2="368" y2="11.5" stroke="#c89a18" stroke-width="2.6"/>
<circle cx="359" cy="2" r="5.4" fill="#dcecfc" stroke="#3a70c8" stroke-width="1.2"/>
<rect x="356" y="1.3" width="6" height="1.5" fill="#3a70c8"/>
<rect x="358.25" y="-1" width="1.5" height="6" fill="#3a70c8"/>
<line x1="391" y1="7.5" x2="396" y2="11.5" stroke="#c89a18" stroke-width="2.6"/>
<circle cx="387" cy="2" r="5.4" fill="#dcecfc" stroke="#3a70c8" stroke-width="1.2"/>
<rect x="384" y="1.3" width="6" height="1.5" fill="#3a70c8"/>
</g>
<rect x="409" y="0" width="8" height="3.5" fill="#40a030"/>
<rect x="410.5" y="0" width="5" height="2.0" fill="#ffffff" opacity="0.75"/>
<rect x="417.5" y="0" width="7.5" height="3.5" fill="#2a6ad8"/>
<rect x="419.0" y="0" width="4.5" height="2.0" fill="#ffffff" opacity="0.75"/>
<rect x="409" y="4.2" width="8" height="7.3" fill="#2a6ad8"/>
<rect x="410.5" y="5.2" width="5" height="4.3" fill="#ffffff" opacity="0.75"/>
<rect x="417.5" y="4.2" width="7.5" height="7.3" fill="#40a030"/>
<rect x="419.0" y="5.2" width="4.5" height="4.3" fill="#ffffff" opacity="0.75"/>
<rect x="434" y="0" width="1" height="14" fill="#a0a0a0"/>
<rect x="435" y="0" width="1" height="14" fill="#ffffff"/>
<rect x="439" y="0" width="1" height="14" fill="#a0a0a0"/>
<rect x="440" y="0" width="1" height="14" fill="#ffffff"/>
<rect x="440" y="0" width="24" height="14" fill="url(#chk)"/>
<rect x="447" y="0" width="1" height="12" fill="#4a4a4a"/>
<rect x="445" y="9" width="13" height="1" fill="#4a4a4a"/>
<polygon points="456,7 459,9.5 456,12" fill="#4a4a4a"/>
<polygon points="451.7,0 456,3.2 451.7,6.8" fill="#22b822"/>
<rect x="467" y="0" width="1" height="14" fill="#a0a0a0"/>
<rect x="468" y="0" width="1" height="14" fill="#ffffff"/>
<rect x="468" y="0" width="24" height="14" fill="url(#chk)"/>
<rect x="475" y="0" width="1" height="12" fill="#4a4a4a"/>
<rect x="473" y="9" width="13" height="1" fill="#4a4a4a"/>
<polygon points="484,7 487,9.5 484,12" fill="#4a4a4a"/>
<rect x="481" y="0" width="1" height="7" fill="#2a6ac8"/>
<polygon points="482,3.6 486.5,1.5 485,3.6 486.5,5.7" fill="#e03010"/>
<rect x="496" y="0" width="1" height="14" fill="#a0a0a0"/>
<rect x="497" y="0" width="1" height="14" fill="#ffffff"/>
<rect x="506.5" y="-2.5" width="10.5" height="11.5" fill="#fff" stroke="#7a7a7a" stroke-width="1"/>
<rect x="508" y="2" width="5" height="1" fill="#9a9a9a"/>
<path d="M510.5,6.2h3.6v-3.7h3.8v3.7h3.6v3.7h-3.6v3.7h-3.8v-3.7h-3.6z" fill="#22c822" stroke="#128a12" stroke-width="0.8" shape-rendering="auto"/>
<polygon points="528,3 533.5,3 530.75,6" fill="#000"/>
<g shape-rendering="auto"><circle cx="552" cy="3.8" r="7.4" fill="#1a60d0"/><circle cx="552" cy="3.8" r="5.6" fill="#f4f6fa"/><path d="M552,0 v4 h3" fill="none" stroke="#333" stroke-width="1"/></g>
<polygon points="567,3 572.5,3 569.75,6" fill="#000"/>
<rect x="583.5" y="-1.5" width="15" height="12" fill="#fff" stroke="#3a70c8" stroke-width="1"/>
<rect x="584" y="5" width="14" height="1" fill="#3a70c8"/>
<path d="M585,3.5 l3,-1 l3,1 l3,-1.5 l3,1 M585,9 l3,-1.5 l3,1 l3,-2.5 l3,2" stroke-width="1" fill="none" stroke="#c02818" shape-rendering="auto"/>
<path d="M585,9 l3,-1.5 l3,1 l3,-2.5 l3,2" stroke-width="1" fill="none" stroke="#1a9a1a" shape-rendering="auto"/>
<polygon points="606,3 611.5,3 608.75,6" fill="#000"/>
<rect x="617" y="0" width="1" height="14" fill="#a0a0a0"/>
<rect x="618" y="0" width="1" height="14" fill="#ffffff"/>
<rect x="621" y="1" width="3" height="1" fill="#a0a0a0"/>
<rect x="621" y="3" width="3" height="1" fill="#a0a0a0"/>
<rect x="621" y="5" width="3" height="1" fill="#a0a0a0"/>
<rect x="621" y="7" width="3" height="1" fill="#a0a0a0"/>
<rect x="621" y="9" width="3" height="1" fill="#a0a0a0"/>
<rect x="621" y="11" width="3" height="1" fill="#a0a0a0"/>
<rect x="621" y="13" width="3" height="1" fill="#a0a0a0"/>
<rect x="627" y="0" width="1" height="14" fill="#a0a0a0"/>
<rect x="628" y="0" width="1" height="14" fill="#ffffff"/>
<rect x="628" y="0" width="24" height="14" fill="url(#chk)"/>
<polygon points="634.5,0 642,4.5 639,5.5 641.5,10 639.5,11 637,6.5 634.5,8.5" fill="#4a4a4a"/>
<rect x="660" y="4" width="7" height="1" fill="#4a4a4a"/>
<rect x="668" y="4" width="7" height="1" fill="#4a4a4a"/>
<rect x="667" y="0" width="1" height="4" fill="#4a4a4a"/>
<rect x="667" y="5" width="1" height="7" fill="#4a4a4a"/>
<rect x="684" y="0" width="1" height="14" fill="#a0a0a0"/>
<rect x="701" y="0" width="1" height="11" fill="#4a4a4a"/>
<rect x="724" y="4" width="12" height="1" fill="#4a4a4a"/>
<line x1="752" y1="11" x2="762.7" y2="0" stroke="#4a4a4a" stroke-width="1"/>
<path d="M778,7 l7,-7 M780,10 l9,-10 M783,11.5 l8,-9" stroke="#4a4a4a" stroke-width="1" fill="none"/>
<path d="M781,3 l4,4 M784,1 l4,4" stroke="#4a4a4a" stroke-width="0.8" fill="none" stroke-dasharray="1 1"/>
<text transform="translate(789,12.5) scale(1,1)" font-size="6.5" fill="#3a3a3a" font-weight="bold" text-anchor="start" font-family="Liberation Sans">E</text>
<rect x="807" y="0" width="1" height="1" fill="#4a4a4a"/>
<rect x="809" y="0" width="1" height="1" fill="#4a4a4a"/>
<rect x="811" y="0" width="1" height="1" fill="#4a4a4a"/>
<rect x="813" y="0" width="1" height="1" fill="#4a4a4a"/>
<rect x="815" y="0" width="1" height="1" fill="#4a4a4a"/>
<rect x="817" y="0" width="1" height="1" fill="#4a4a4a"/>
<rect x="819" y="0" width="1" height="1" fill="#4a4a4a"/>
<rect x="807" y="4" width="1" height="1" fill="#4a4a4a"/>
<rect x="809" y="4" width="1" height="1" fill="#4a4a4a"/>
<rect x="811" y="4" width="1" height="1" fill="#4a4a4a"/>
<rect x="813" y="4" width="1" height="1" fill="#4a4a4a"/>
<rect x="815" y="4" width="1" height="1" fill="#4a4a4a"/>
<rect x="817" y="4" width="1" height="1" fill="#4a4a4a"/>
<rect x="819" y="4" width="1" height="1" fill="#4a4a4a"/>
<rect x="807" y="8" width="1" height="1" fill="#4a4a4a"/>
<rect x="809" y="8" width="1" height="1" fill="#4a4a4a"/>
<rect x="811" y="8" width="1" height="1" fill="#4a4a4a"/>
<rect x="813" y="8" width="1" height="1" fill="#4a4a4a"/>
<rect x="815" y="8" width="1" height="1" fill="#4a4a4a"/>
<rect x="817" y="8" width="1" height="1" fill="#4a4a4a"/>
<rect x="819" y="8" width="1" height="1" fill="#4a4a4a"/>
<text transform="translate(817,12.8) scale(1,1)" font-size="6.5" fill="#3a3a3a" font-weight="bold" text-anchor="start" font-family="Liberation Sans">F</text>
<text transform="translate(837.5,9.3) scale(0.85,1)" font-size="12.5" fill="#4a4a4a" font-weight="bold" text-anchor="start" font-family="Liberation Sans">A</text>
<rect x="864" y="0" width="1" height="1" fill="#4a4a4a"/>
<rect x="864" y="10" width="1" height="1" fill="#4a4a4a"/>
<rect x="866" y="0" width="1" height="1" fill="#4a4a4a"/>
<rect x="866" y="10" width="1" height="1" fill="#4a4a4a"/>
<rect x="868" y="0" width="1" height="1" fill="#4a4a4a"/>
<rect x="868" y="10" width="1" height="1" fill="#4a4a4a"/>
<rect x="870" y="0" width="1" height="1" fill="#4a4a4a"/>
<rect x="870" y="10" width="1" height="1" fill="#4a4a4a"/>
<rect x="872" y="0" width="1" height="1" fill="#4a4a4a"/>
<rect x="872" y="10" width="1" height="1" fill="#4a4a4a"/>
<rect x="874" y="0" width="1" height="1" fill="#4a4a4a"/>
<rect x="874" y="10" width="1" height="1" fill="#4a4a4a"/>
<rect x="864" y="0" width="1" height="1" fill="#4a4a4a"/>
<rect x="875" y="0" width="1" height="1" fill="#4a4a4a"/>
<rect x="864" y="2" width="1" height="1" fill="#4a4a4a"/>
<rect x="875" y="2" width="1" height="1" fill="#4a4a4a"/>
<rect x="864" y="4" width="1" height="1" fill="#4a4a4a"/>
<rect x="875" y="4" width="1" height="1" fill="#4a4a4a"/>
<rect x="864" y="6" width="1" height="1" fill="#4a4a4a"/>
<rect x="875" y="6" width="1" height="1" fill="#4a4a4a"/>
<rect x="864" y="8" width="1" height="1" fill="#4a4a4a"/>
<rect x="875" y="8" width="1" height="1" fill="#4a4a4a"/>
<rect x="864" y="10" width="1" height="1" fill="#4a4a4a"/>
<rect x="875" y="10" width="1" height="1" fill="#4a4a4a"/>
<rect x="867" y="1" width="7" height="1.6" fill="#4a4a4a"/>
<rect x="869.6" y="1" width="1.8" height="7.6" fill="#4a4a4a"/>
<polygon points="894,0 896,-1.5 898,0 896,1.8" fill="#4a4a4a"/><path d="M893,4.5 l2.5,2.5 l3.5,-4" stroke="#4a4a4a" stroke-width="1.4" fill="none"/><polygon points="899,8 902,5.5 905,8 902,10.8" fill="#4a4a4a"/>
<polygon points="911.5,3 917.0,3 914.25,6" fill="#000"/>
<rect x="923" y="0" width="1" height="14" fill="#a0a0a0"/>
<rect x="924" y="0" width="1" height="14" fill="#ffffff"/>
<rect x="927" y="1" width="3" height="1" fill="#a0a0a0"/>
<rect x="927" y="3" width="3" height="1" fill="#a0a0a0"/>
<rect x="927" y="5" width="3" height="1" fill="#a0a0a0"/>
<rect x="927" y="7" width="3" height="1" fill="#a0a0a0"/>
<rect x="927" y="9" width="3" height="1" fill="#a0a0a0"/>
<rect x="927" y="11" width="3" height="1" fill="#a0a0a0"/>
<rect x="927" y="13" width="3" height="1" fill="#a0a0a0"/>
<text transform="translate(938,8.3) scale(1.0,1)" font-size="9" fill="#333" font-weight="normal" text-anchor="start" font-family="Liberation Sans">M1</text>
<text transform="translate(966,8.3) scale(1.0,1)" font-size="9" fill="#333" font-weight="normal" text-anchor="start" font-family="Liberation Sans">M5</text>
<text transform="translate(992.5,8.3) scale(1.0,1)" font-size="9" fill="#333" font-weight="normal" text-anchor="start" font-family="Liberation Sans">M15</text>
<text transform="translate(1020.5,8.3) scale(1.0,1)" font-size="9" fill="#333" font-weight="normal" text-anchor="start" font-family="Liberation Sans">M30</text>
<text transform="translate(1051.5,8.3) scale(1.0,1)" font-size="9" fill="#333" font-weight="normal" text-anchor="start" font-family="Liberation Sans">H1</text>
<rect x="1073" y="0" width="25" height="14" fill="url(#chk)"/>
<rect x="1073" y="0" width="1" height="14" fill="#a0a0a0"/>
<text transform="translate(1078,8.3) scale(1.0,1)" font-size="9" fill="#333" font-weight="normal" text-anchor="start" font-family="Liberation Sans">H4</text>
<text transform="translate(1107.5,8.3) scale(1.0,1)" font-size="9" fill="#333" font-weight="normal" text-anchor="start" font-family="Liberation Sans">D1</text>
<text transform="translate(1135,8.3) scale(1.0,1)" font-size="9" fill="#333" font-weight="normal" text-anchor="start" font-family="Liberation Sans">W1</text>
<text transform="translate(1161.3,8.3) scale(1.0,1)" font-size="9" fill="#333" font-weight="normal" text-anchor="start" font-family="Liberation Sans">MN</text>
<rect x="1183" y="0" width="1" height="14" fill="#a0a0a0"/>
<rect x="1184" y="0" width="1" height="14" fill="#ffffff"/>
<g shape-rendering="auto"><circle cx="1655.8" cy="1.8" r="4" fill="none" stroke="#3a70d8" stroke-width="1.5"/><line x1="1652.5" y1="5" x2="1647.5" y2="9.5" stroke="#3a70d8" stroke-width="2.4"/>
<ellipse cx="1677.5" cy="6.5" rx="6" ry="5" fill="#e4e8ee" stroke="#c0c6d0" stroke-width="0.8"/><polygon points="1673,10 1674,13 1677,10.5" fill="#d8dce4"/>
<circle cx="1685.7" cy="1.5" r="8" fill="#d8361c"/><circle cx="1685.7" cy="1.5" r="6.5" fill="#e04428"/></g>
<text transform="translate(1682,5.5) scale(1.0,1)" font-size="10" fill="#fff" font-weight="normal" text-anchor="start" font-family="Liberation Serif">1</text>
</svg>
</body></html>
